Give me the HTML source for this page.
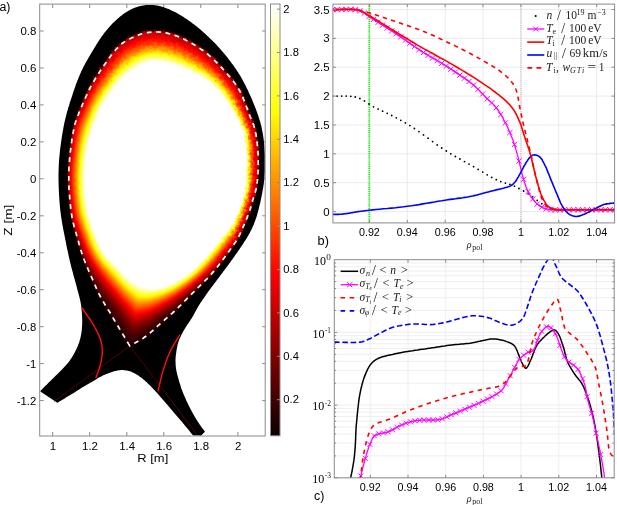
<!DOCTYPE html>
<html><head><meta charset="utf-8"><style>
html,body{margin:0;padding:0;background:#fff;width:617px;height:505px;overflow:hidden}
svg{display:block;filter:blur(0.35px)}
.tk{font-family:"Liberation Sans",sans-serif;font-size:10px;fill:#000}
.al{font-family:"Liberation Sans",sans-serif;font-size:10.5px;fill:#000}
.pl{font-family:"Liberation Sans",sans-serif;font-size:12px;fill:#000}
.lg{font-family:"Liberation Serif",serif;font-size:11.5px;fill:#1a1a1a}
.lgs{font-family:"Liberation Serif",serif;font-size:8px;fill:#1a1a1a}
.lgss{font-family:"Liberation Serif",serif;font-size:5.5px;fill:#1a1a1a}
.lgb{font-family:"Liberation Serif",serif;font-size:12.5px;fill:#1a1a1a}
.sl{font-family:"Liberation Serif",serif;font-size:14px;fill:#1a1a1a}
.mis{font-family:"Liberation Serif",serif;font-size:8px;fill:#222}
.it{font-style:italic}
.sub{font-size:8px}
.ssub{font-size:6px}
.sup{font-size:8px}
.mi{font-family:"Liberation Serif",serif;font-size:10px;font-style:italic;fill:#222}
.mi .sub{font-style:normal;font-size:8px}
.ser{font-family:"Liberation Serif",serif;font-size:12px;fill:#000}
.sups{font-family:"Liberation Serif",serif;font-size:8.5px;fill:#111}
</style></head>
<body><svg width="617" height="505" viewBox="0 0 617 505">
<rect width="617" height="505" fill="#fff"/>
<path d="M237.9 436 v-4 M237.9 4.1 v4" stroke="#8a8a8a" stroke-width="1"/>
<path d="M200.8 436 v-4 M200.8 4.1 v4" stroke="#8a8a8a" stroke-width="1"/>
<path d="M163.8 436 v-4 M163.8 4.1 v4" stroke="#8a8a8a" stroke-width="1"/>
<path d="M126.8 436 v-4 M126.8 4.1 v4" stroke="#8a8a8a" stroke-width="1"/>
<path d="M89.7 436 v-4 M89.7 4.1 v4" stroke="#8a8a8a" stroke-width="1"/>
<path d="M52.7 436 v-4 M52.7 4.1 v4" stroke="#8a8a8a" stroke-width="1"/>
<path d="M39.7 400.6 h4 M265.2 400.6 h-3" stroke="#8a8a8a" stroke-width="1"/>
<path d="M39.7 363.6 h4 M265.2 363.6 h-3" stroke="#8a8a8a" stroke-width="1"/>
<path d="M39.7 326.7 h4 M265.2 326.7 h-3" stroke="#8a8a8a" stroke-width="1"/>
<path d="M39.7 289.7 h4 M265.2 289.7 h-3" stroke="#8a8a8a" stroke-width="1"/>
<path d="M39.7 252.8 h4 M265.2 252.8 h-3" stroke="#8a8a8a" stroke-width="1"/>
<path d="M39.7 215.8 h4 M265.2 215.8 h-3" stroke="#8a8a8a" stroke-width="1"/>
<path d="M39.7 178.8 h4 M265.2 178.8 h-3" stroke="#8a8a8a" stroke-width="1"/>
<path d="M39.7 141.9 h4 M265.2 141.9 h-3" stroke="#8a8a8a" stroke-width="1"/>
<path d="M39.7 104.9 h4 M265.2 104.9 h-3" stroke="#8a8a8a" stroke-width="1"/>
<path d="M39.7 68.0 h4 M265.2 68.0 h-3" stroke="#8a8a8a" stroke-width="1"/>
<path d="M39.7 31.0 h4 M265.2 31.0 h-3" stroke="#8a8a8a" stroke-width="1"/>
<clipPath id="ca"><rect x="40.2" y="4.6" width="224.6" height="431"/></clipPath>
<g clip-path="url(#ca)">
<path d="M40.0 391.3 L40.7 390.6 L41.4 389.9 L42.1 389.2 L42.8 388.5 L43.5 387.8 L44.2 387.1 L45.0 386.3 L45.7 385.6 L46.4 384.9 L47.1 384.2 L47.8 383.5 L48.5 382.8 L49.2 382.1 L49.9 381.4 L50.6 380.7 L51.4 380.0 L52.1 379.3 L52.8 378.6 L53.5 377.9 L54.2 377.2 L54.9 376.5 L55.6 375.8 L56.4 375.1 L57.1 374.4 L57.8 373.7 L58.5 373.0 L59.2 372.3 L59.9 371.6 L60.6 370.9 L61.3 370.2 L62.0 369.5 L62.7 368.7 L63.4 368.0 L64.1 367.3 L64.8 366.6 L65.5 365.8 L66.2 365.1 L66.8 364.3 L67.5 363.6 L68.1 362.8 L68.7 362.0 L69.3 361.2 L69.9 360.4 L70.4 359.6 L71.0 358.7 L71.5 357.9 L72.1 357.0 L72.6 356.2 L73.1 355.3 L73.6 354.5 L74.1 353.6 L74.6 352.7 L75.0 351.8 L75.5 350.9 L75.9 350.0 L76.4 349.1 L76.8 348.2 L77.2 347.3 L77.6 346.4 L78.0 345.5 L78.3 344.6 L78.7 343.6 L79.0 342.7 L79.4 341.7 L79.6 340.8 L79.9 339.8 L80.2 338.8 L80.4 337.9 L80.6 336.9 L80.8 335.9 L81.0 334.9 L81.2 333.9 L81.4 333.0 L81.5 332.0 L81.6 331.0 L81.8 330.0 L81.9 329.0 L81.9 328.0 L82.0 327.0 L82.1 326.0 L82.1 325.0 L82.2 324.0 L82.2 323.0 L82.2 322.0 L82.2 321.0 L82.2 320.0 L82.2 319.0 L82.1 318.0 L82.1 317.0 L82.1 316.0 L82.0 315.0 L82.0 314.0 L81.9 313.0 L81.8 312.0 L81.7 311.0 L81.6 310.0 L81.5 309.0 L81.4 308.0 L81.3 307.0 L81.2 306.0 L81.0 305.0 L80.9 304.1 L80.7 303.1 L80.5 302.1 L80.3 301.1 L80.1 300.1 L79.9 299.2 L79.7 298.2 L79.4 297.2 L79.2 296.2 L78.9 295.3 L78.7 294.3 L78.4 293.3 L78.2 292.4 L77.9 291.4 L77.6 290.4 L77.4 289.5 L77.1 288.5 L76.9 287.5 L76.6 286.6 L76.4 285.6 L76.1 284.6 L75.8 283.7 L75.6 282.7 L75.3 281.7 L75.0 280.8 L74.8 279.8 L74.5 278.8 L74.2 277.9 L74.0 276.9 L73.7 275.9 L73.4 275.0 L73.2 274.0 L72.9 273.1 L72.7 272.1 L72.4 271.1 L72.1 270.2 L71.9 269.2 L71.6 268.2 L71.4 267.2 L71.1 266.3 L70.9 265.3 L70.6 264.3 L70.4 263.4 L70.2 262.4 L69.9 261.4 L69.7 260.5 L69.5 259.5 L69.3 258.5 L69.0 257.5 L68.8 256.6 L68.6 255.6 L68.4 254.6 L68.2 253.6 L68.0 252.6 L67.8 251.7 L67.6 250.7 L67.4 249.7 L67.1 248.7 L66.9 247.7 L66.7 246.8 L66.5 245.8 L66.3 244.8 L66.1 243.8 L66.0 242.8 L65.8 241.9 L65.6 240.9 L65.4 239.9 L65.2 238.9 L65.0 237.9 L64.8 237.0 L64.6 236.0 L64.4 235.0 L64.2 234.0 L64.0 233.0 L63.8 232.0 L63.6 231.1 L63.4 230.1 L63.2 229.1 L63.0 228.1 L62.9 227.1 L62.7 226.1 L62.5 225.2 L62.3 224.2 L62.2 223.2 L62.0 222.2 L61.8 221.2 L61.7 220.2 L61.5 219.2 L61.4 218.3 L61.2 217.3 L61.1 216.3 L60.9 215.3 L60.8 214.3 L60.7 213.3 L60.6 212.3 L60.4 211.3 L60.3 210.3 L60.2 209.3 L60.1 208.3 L60.0 207.3 L59.9 206.3 L59.8 205.3 L59.7 204.4 L59.7 203.4 L59.6 202.4 L59.5 201.4 L59.4 200.4 L59.4 199.4 L59.3 198.4 L59.2 197.4 L59.2 196.4 L59.1 195.4 L59.0 194.4 L59.0 193.4 L58.9 192.4 L58.9 191.4 L58.8 190.4 L58.8 189.4 L58.8 188.4 L58.7 187.4 L58.7 186.4 L58.7 185.4 L58.6 184.4 L58.6 183.4 L58.6 182.4 L58.6 181.4 L58.5 180.4 L58.5 179.4 L58.5 178.4 L58.5 177.4 L58.5 176.4 L58.5 175.4 L58.5 174.4 L58.5 173.4 L58.5 172.4 L58.6 171.4 L58.6 170.4 L58.6 169.4 L58.6 168.4 L58.7 167.4 L58.7 166.4 L58.8 165.4 L58.8 164.4 L58.9 163.4 L58.9 162.4 L59.0 161.4 L59.1 160.4 L59.1 159.4 L59.2 158.4 L59.3 157.4 L59.4 156.4 L59.5 155.4 L59.6 154.4 L59.7 153.4 L59.8 152.4 L59.9 151.4 L60.0 150.4 L60.1 149.4 L60.2 148.5 L60.4 147.5 L60.5 146.5 L60.6 145.5 L60.8 144.5 L60.9 143.5 L61.0 142.5 L61.2 141.5 L61.3 140.5 L61.5 139.5 L61.6 138.5 L61.8 137.6 L61.9 136.6 L62.1 135.6 L62.2 134.6 L62.4 133.6 L62.6 132.6 L62.7 131.6 L62.9 130.6 L63.1 129.7 L63.3 128.7 L63.4 127.7 L63.6 126.7 L63.8 125.7 L64.0 124.8 L64.2 123.8 L64.4 122.8 L64.6 121.8 L64.9 120.8 L65.1 119.9 L65.3 118.9 L65.5 117.9 L65.8 117.0 L66.0 116.0 L66.3 115.0 L66.5 114.0 L66.8 113.1 L67.0 112.1 L67.3 111.2 L67.6 110.2 L67.9 109.2 L68.1 108.3 L68.4 107.3 L68.7 106.4 L69.0 105.4 L69.3 104.5 L69.6 103.5 L69.9 102.6 L70.2 101.6 L70.5 100.7 L70.8 99.7 L71.2 98.7 L71.5 97.8 L71.8 96.8 L72.1 95.9 L72.4 94.9 L72.7 94.0 L73.0 93.0 L73.3 92.1 L73.6 91.1 L74.0 90.2 L74.3 89.3 L74.6 88.3 L74.9 87.4 L75.3 86.4 L75.6 85.5 L75.9 84.5 L76.3 83.6 L76.6 82.7 L77.0 81.7 L77.3 80.8 L77.7 79.9 L78.1 78.9 L78.4 78.0 L78.8 77.1 L79.2 76.2 L79.6 75.2 L80.0 74.3 L80.4 73.4 L80.8 72.5 L81.2 71.6 L81.6 70.7 L82.1 69.8 L82.5 68.9 L82.9 68.0 L83.4 67.1 L83.8 66.2 L84.3 65.3 L84.8 64.4 L85.2 63.6 L85.7 62.7 L86.2 61.8 L86.7 60.9 L87.2 60.1 L87.7 59.2 L88.2 58.3 L88.7 57.5 L89.2 56.6 L89.7 55.7 L90.2 54.9 L90.7 54.0 L91.2 53.2 L91.7 52.3 L92.2 51.4 L92.8 50.6 L93.3 49.7 L93.8 48.9 L94.3 48.0 L94.8 47.2 L95.4 46.3 L95.9 45.5 L96.4 44.6 L96.9 43.8 L97.5 42.9 L98.0 42.1 L98.5 41.2 L99.1 40.4 L99.6 39.6 L100.2 38.7 L100.7 37.9 L101.3 37.1 L101.9 36.3 L102.5 35.5 L103.0 34.7 L103.6 33.9 L104.2 33.1 L104.9 32.3 L105.5 31.5 L106.1 30.7 L106.7 30.0 L107.4 29.2 L108.0 28.4 L108.7 27.7 L109.3 26.9 L110.0 26.2 L110.7 25.5 L111.4 24.7 L112.0 24.0 L112.7 23.3 L113.5 22.6 L114.2 21.9 L114.9 21.2 L115.6 20.5 L116.3 19.9 L117.1 19.2 L117.8 18.5 L118.6 17.9 L119.3 17.2 L120.1 16.6 L120.9 16.0 L121.7 15.4 L122.4 14.8 L123.2 14.2 L124.0 13.6 L124.8 13.0 L125.7 12.5 L126.5 11.9 L127.3 11.4 L128.2 10.9 L129.0 10.4 L129.9 10.0 L130.8 9.5 L131.6 9.1 L132.5 8.7 L133.4 8.3 L134.3 7.9 L135.3 7.6 L136.2 7.2 L137.1 6.9 L138.1 6.6 L139.0 6.4 L139.9 6.1 L140.9 5.9 L141.9 5.7 L142.8 5.5 L143.8 5.4 L144.8 5.2 L145.7 5.1 L146.7 5.0 L147.7 5.0 L148.6 4.9 L149.6 4.9 L150.6 4.9 L151.6 4.9 L152.5 5.0 L153.5 5.1 L154.5 5.2 L155.5 5.3 L156.4 5.4 L157.4 5.6 L158.4 5.8 L159.3 6.0 L160.3 6.3 L161.2 6.5 L162.2 6.8 L163.1 7.1 L164.1 7.4 L165.0 7.7 L165.9 8.0 L166.8 8.4 L167.8 8.8 L168.7 9.1 L169.6 9.5 L170.5 9.9 L171.4 10.4 L172.3 10.8 L173.2 11.2 L174.1 11.7 L175.0 12.1 L175.9 12.6 L176.7 13.1 L177.6 13.6 L178.5 14.0 L179.3 14.5 L180.2 15.0 L181.0 15.6 L181.9 16.1 L182.7 16.6 L183.6 17.1 L184.4 17.7 L185.3 18.2 L186.1 18.8 L186.9 19.3 L187.8 19.9 L188.6 20.5 L189.4 21.0 L190.2 21.6 L191.0 22.2 L191.8 22.8 L192.6 23.4 L193.4 24.0 L194.2 24.6 L195.0 25.2 L195.8 25.8 L196.6 26.4 L197.4 27.1 L198.1 27.7 L198.9 28.3 L199.7 29.0 L200.4 29.6 L201.2 30.3 L201.9 31.0 L202.7 31.6 L203.4 32.3 L204.2 32.9 L204.9 33.6 L205.6 34.3 L206.4 35.0 L207.1 35.7 L207.8 36.3 L208.6 37.0 L209.3 37.7 L210.0 38.4 L210.7 39.1 L211.4 39.8 L212.2 40.5 L212.9 41.2 L213.6 41.9 L214.3 42.6 L215.0 43.3 L215.7 44.0 L216.4 44.8 L217.1 45.5 L217.7 46.2 L218.4 47.0 L219.1 47.7 L219.8 48.4 L220.4 49.2 L221.1 49.9 L221.7 50.7 L222.4 51.4 L223.0 52.2 L223.7 53.0 L224.3 53.7 L225.0 54.5 L225.6 55.3 L226.2 56.1 L226.8 56.8 L227.5 57.6 L228.1 58.4 L228.7 59.2 L229.3 60.0 L229.9 60.8 L230.5 61.6 L231.1 62.4 L231.7 63.2 L232.3 64.0 L232.9 64.8 L233.5 65.6 L234.1 66.4 L234.6 67.2 L235.2 68.1 L235.8 68.9 L236.3 69.7 L236.9 70.5 L237.4 71.4 L238.0 72.2 L238.5 73.1 L239.0 73.9 L239.6 74.7 L240.1 75.6 L240.6 76.5 L241.1 77.3 L241.6 78.2 L242.1 79.1 L242.6 79.9 L243.0 80.8 L243.5 81.7 L244.0 82.6 L244.4 83.5 L244.9 84.3 L245.4 85.2 L245.8 86.1 L246.2 87.0 L246.7 87.9 L247.1 88.8 L247.6 89.7 L248.0 90.6 L248.4 91.5 L248.8 92.4 L249.2 93.4 L249.7 94.3 L250.1 95.2 L250.5 96.1 L250.9 97.0 L251.3 97.9 L251.7 98.8 L252.1 99.8 L252.5 100.7 L252.8 101.6 L253.2 102.5 L253.6 103.5 L254.0 104.4 L254.4 105.3 L254.7 106.2 L255.1 107.2 L255.5 108.1 L255.8 109.0 L256.2 110.0 L256.5 110.9 L256.9 111.8 L257.2 112.8 L257.5 113.7 L257.9 114.7 L258.2 115.6 L258.5 116.6 L258.8 117.5 L259.1 118.5 L259.4 119.4 L259.7 120.4 L260.0 121.3 L260.3 122.3 L260.5 123.2 L260.8 124.2 L261.0 125.2 L261.3 126.1 L261.5 127.1 L261.7 128.1 L261.9 129.1 L262.1 130.0 L262.3 131.0 L262.5 132.0 L262.7 133.0 L262.9 134.0 L263.0 134.9 L263.2 135.9 L263.3 136.9 L263.5 137.9 L263.6 138.9 L263.7 139.9 L263.9 140.9 L264.0 141.9 L264.1 142.9 L264.2 143.9 L264.3 144.9 L264.4 145.8 L264.5 146.8 L264.5 147.8 L264.6 148.8 L264.7 149.8 L264.7 150.8 L264.8 151.8 L264.9 152.8 L264.9 153.8 L265.0 154.8 L265.0 155.8 L265.0 156.8 L265.1 157.8 L265.1 158.8 L265.1 159.8 L265.1 160.8 L265.1 161.8 L265.2 162.8 L265.2 163.8 L265.1 164.8 L265.1 165.8 L265.1 166.8 L265.1 167.8 L265.1 168.8 L265.0 169.8 L265.0 170.8 L264.9 171.8 L264.9 172.8 L264.8 173.8 L264.7 174.8 L264.7 175.8 L264.6 176.8 L264.5 177.8 L264.4 178.8 L264.3 179.8 L264.1 180.8 L264.0 181.7 L263.9 182.7 L263.8 183.7 L263.6 184.7 L263.5 185.7 L263.3 186.7 L263.2 187.7 L263.0 188.7 L262.8 189.6 L262.6 190.6 L262.5 191.6 L262.3 192.6 L262.1 193.6 L261.9 194.6 L261.7 195.5 L261.5 196.5 L261.3 197.5 L261.1 198.5 L260.9 199.5 L260.7 200.4 L260.5 201.4 L260.3 202.4 L260.1 203.4 L259.8 204.3 L259.6 205.3 L259.4 206.3 L259.1 207.3 L258.9 208.2 L258.7 209.2 L258.4 210.2 L258.1 211.1 L257.9 212.1 L257.6 213.1 L257.3 214.0 L257.1 215.0 L256.8 215.9 L256.5 216.9 L256.2 217.8 L255.8 218.8 L255.5 219.7 L255.2 220.7 L254.8 221.6 L254.5 222.5 L254.1 223.5 L253.8 224.4 L253.4 225.3 L253.0 226.2 L252.6 227.1 L252.2 228.0 L251.7 228.9 L251.3 229.8 L250.9 230.7 L250.4 231.6 L249.9 232.5 L249.5 233.4 L249.0 234.2 L248.5 235.1 L248.0 236.0 L247.5 236.8 L247.0 237.7 L246.4 238.5 L245.9 239.4 L245.4 240.2 L244.8 241.1 L244.3 241.9 L243.8 242.7 L243.2 243.6 L242.7 244.4 L242.1 245.2 L241.6 246.1 L241.0 246.9 L240.4 247.7 L239.9 248.5 L239.3 249.4 L238.7 250.2 L238.2 251.0 L237.6 251.9 L237.0 252.7 L236.5 253.5 L235.9 254.3 L235.3 255.1 L234.7 256.0 L234.2 256.8 L233.6 257.6 L233.0 258.4 L232.4 259.2 L231.8 260.0 L231.3 260.8 L230.7 261.6 L230.1 262.4 L229.5 263.3 L228.9 264.1 L228.3 264.9 L227.7 265.7 L227.1 266.5 L226.5 267.3 L225.9 268.1 L225.3 268.9 L224.7 269.7 L224.1 270.5 L223.5 271.3 L222.9 272.1 L222.3 272.9 L221.7 273.7 L221.1 274.5 L220.5 275.3 L219.9 276.1 L219.3 276.9 L218.7 277.7 L218.1 278.5 L217.5 279.3 L216.9 280.1 L216.3 280.9 L215.7 281.7 L215.1 282.5 L214.5 283.3 L213.9 284.1 L213.3 284.9 L212.7 285.7 L212.1 286.5 L211.5 287.3 L210.9 288.1 L210.3 288.9 L209.7 289.7 L209.1 290.5 L208.5 291.3 L207.9 292.1 L207.4 292.9 L206.8 293.8 L206.2 294.6 L205.6 295.4 L205.1 296.2 L204.5 297.0 L203.9 297.9 L203.4 298.7 L202.8 299.5 L202.2 300.3 L201.7 301.2 L201.1 302.0 L200.5 302.8 L200.0 303.7 L199.5 304.5 L198.9 305.4 L198.4 306.2 L197.9 307.1 L197.4 307.9 L196.9 308.8 L196.5 309.7 L196.0 310.6 L195.5 311.5 L195.0 312.3 L194.6 313.2 L194.1 314.1 L193.6 315.0 L193.1 315.9 L192.6 316.7 L192.1 317.6 L191.6 318.4 L191.0 319.3 L190.5 320.1 L189.9 321.0 L189.4 321.8 L188.8 322.6 L188.2 323.4 L187.7 324.3 L187.1 325.1 L186.6 325.9 L186.0 326.8 L185.5 327.6 L185.0 328.5 L184.5 329.3 L183.9 330.2 L183.4 331.0 L183.0 331.9 L182.5 332.8 L182.0 333.7 L181.5 334.6 L181.1 335.5 L180.7 336.4 L180.3 337.3 L179.8 338.2 L179.5 339.1 L179.1 340.0 L178.7 341.0 L178.4 341.9 L178.1 342.9 L177.8 343.8 L177.6 344.8 L177.4 345.8 L177.2 346.7 L177.0 347.7 L176.8 348.7 L176.6 349.7 L176.5 350.7 L176.3 351.7 L176.2 352.7 L176.1 353.7 L175.9 354.7 L175.8 355.7 L175.7 356.6 L175.6 357.6 L175.6 358.6 L175.5 359.6 L175.5 360.6 L175.5 361.6 L175.6 362.6 L175.6 363.6 L175.6 364.6 L175.7 365.6 L175.8 366.6 L175.9 367.6 L176.0 368.6 L176.2 369.6 L176.4 370.6 L176.5 371.6 L176.8 372.6 L177.0 373.5 L177.2 374.5 L177.5 375.5 L177.8 376.4 L178.0 377.4 L178.3 378.3 L178.6 379.3 L178.9 380.3 L179.1 381.2 L179.4 382.2 L179.7 383.2 L180.0 384.1 L180.3 385.1 L180.6 386.0 L180.9 387.0 L181.2 387.9 L181.5 388.9 L181.9 389.8 L182.2 390.8 L182.6 391.7 L182.9 392.6 L183.3 393.6 L183.7 394.5 L184.1 395.4 L184.5 396.3 L184.9 397.2 L185.3 398.1 L185.7 399.1 L186.1 400.0 L186.5 400.9 L187.0 401.8 L187.4 402.7 L187.8 403.6 L188.3 404.5 L188.7 405.4 L189.1 406.3 L189.6 407.2 L190.0 408.1 L190.5 409.0 L191.0 409.8 L191.4 410.7 L191.9 411.6 L192.4 412.5 L192.9 413.4 L193.4 414.2 L193.8 415.1 L194.3 416.0 L194.8 416.8 L195.3 417.7 L195.9 418.6 L196.4 419.4 L196.9 420.3 L197.4 421.1 L198.0 422.0 L198.5 422.8 L199.1 423.6 L199.6 424.5 L200.2 425.3 L200.8 426.1 L201.4 426.9 L202.0 427.7 L202.6 428.5 L203.2 429.3 L203.8 430.1 L204.4 430.9 L205.0 431.7 L199.0 437.5 L193.3 435.8 L192.7 435.0 L192.0 434.2 L191.4 433.5 L190.8 432.7 L190.2 431.9 L189.5 431.1 L188.9 430.3 L188.3 429.5 L187.6 428.8 L187.0 428.0 L186.4 427.2 L185.7 426.4 L185.1 425.7 L184.4 424.9 L183.8 424.1 L183.1 423.4 L182.5 422.6 L181.9 421.8 L181.2 421.1 L180.5 420.3 L179.9 419.5 L179.2 418.8 L178.6 418.0 L177.9 417.2 L177.3 416.5 L176.6 415.7 L176.0 415.0 L175.3 414.2 L174.7 413.4 L174.0 412.7 L173.4 411.9 L172.7 411.1 L172.1 410.4 L171.4 409.6 L170.7 408.9 L170.1 408.1 L169.4 407.3 L168.8 406.6 L168.1 405.8 L167.5 405.0 L166.8 404.3 L166.2 403.5 L165.5 402.7 L164.9 402.0 L164.2 401.2 L163.6 400.5 L162.9 399.7 L162.3 398.9 L161.6 398.2 L161.0 397.4 L160.3 396.7 L159.6 395.9 L159.0 395.1 L158.3 394.4 L157.6 393.6 L157.0 392.9 L156.3 392.1 L155.6 391.4 L155.0 390.7 L154.3 389.9 L153.6 389.2 L152.9 388.5 L152.2 387.7 L151.5 387.0 L150.8 386.3 L150.1 385.6 L149.4 384.9 L148.7 384.2 L147.9 383.5 L147.2 382.8 L146.5 382.1 L145.7 381.4 L145.0 380.8 L144.2 380.1 L143.4 379.5 L142.7 378.8 L141.9 378.2 L141.1 377.6 L140.3 377.0 L139.5 376.4 L138.7 375.8 L137.9 375.2 L137.0 374.7 L136.2 374.2 L135.3 373.7 L134.4 373.2 L133.5 372.8 L132.6 372.4 L131.7 372.0 L130.8 371.6 L129.8 371.3 L128.9 371.0 L127.9 370.8 L127.0 370.6 L126.0 370.4 L125.0 370.3 L124.0 370.2 L123.0 370.1 L122.0 370.1 L121.0 370.1 L120.1 370.2 L119.1 370.3 L118.1 370.5 L117.1 370.6 L116.1 370.9 L115.2 371.1 L114.2 371.3 L113.2 371.6 L112.3 371.9 L111.3 372.2 L110.4 372.6 L109.4 372.9 L108.5 373.3 L107.6 373.6 L106.6 374.0 L105.7 374.3 L104.8 374.7 L103.8 375.1 L102.9 375.5 L102.0 376.0 L101.1 376.4 L100.2 376.9 L99.4 377.3 L98.5 377.8 L97.6 378.3 L96.8 378.9 L95.9 379.4 L95.1 379.9 L94.2 380.4 L93.4 381.0 L92.5 381.5 L91.6 382.0 L90.8 382.5 L89.9 383.0 L89.0 383.5 L88.2 384.0 L87.3 384.5 L86.4 385.0 L85.6 385.5 L84.7 386.1 L83.9 386.6 L83.0 387.1 L82.1 387.6 L81.3 388.1 L80.4 388.7 L79.6 389.2 L78.7 389.7 L77.9 390.3 L77.0 390.8 L76.2 391.3 L75.3 391.9 L74.5 392.4 L73.6 392.9 L72.8 393.4 L71.9 394.0 L71.1 394.5 L70.2 395.0 L69.3 395.6 L68.5 396.1 L67.6 396.6 L66.8 397.1 L65.9 397.6 L65.0 398.2 L64.2 398.7 L63.3 399.2 L62.5 399.7 L61.6 400.2 L60.7 400.7 L59.9 401.3 L59.0 401.8 L58.2 402.3 L57.3 402.8Z" fill="#000"/>
<clipPath id="co"><path d="M40.0 391.3 L40.7 390.6 L41.4 389.9 L42.1 389.2 L42.8 388.5 L43.5 387.8 L44.2 387.1 L45.0 386.3 L45.7 385.6 L46.4 384.9 L47.1 384.2 L47.8 383.5 L48.5 382.8 L49.2 382.1 L49.9 381.4 L50.6 380.7 L51.4 380.0 L52.1 379.3 L52.8 378.6 L53.5 377.9 L54.2 377.2 L54.9 376.5 L55.6 375.8 L56.4 375.1 L57.1 374.4 L57.8 373.7 L58.5 373.0 L59.2 372.3 L59.9 371.6 L60.6 370.9 L61.3 370.2 L62.0 369.5 L62.7 368.7 L63.4 368.0 L64.1 367.3 L64.8 366.6 L65.5 365.8 L66.2 365.1 L66.8 364.3 L67.5 363.6 L68.1 362.8 L68.7 362.0 L69.3 361.2 L69.9 360.4 L70.4 359.6 L71.0 358.7 L71.5 357.9 L72.1 357.0 L72.6 356.2 L73.1 355.3 L73.6 354.5 L74.1 353.6 L74.6 352.7 L75.0 351.8 L75.5 350.9 L75.9 350.0 L76.4 349.1 L76.8 348.2 L77.2 347.3 L77.6 346.4 L78.0 345.5 L78.3 344.6 L78.7 343.6 L79.0 342.7 L79.4 341.7 L79.6 340.8 L79.9 339.8 L80.2 338.8 L80.4 337.9 L80.6 336.9 L80.8 335.9 L81.0 334.9 L81.2 333.9 L81.4 333.0 L81.5 332.0 L81.6 331.0 L81.8 330.0 L81.9 329.0 L81.9 328.0 L82.0 327.0 L82.1 326.0 L82.1 325.0 L82.2 324.0 L82.2 323.0 L82.2 322.0 L82.2 321.0 L82.2 320.0 L82.2 319.0 L82.1 318.0 L82.1 317.0 L82.1 316.0 L82.0 315.0 L82.0 314.0 L81.9 313.0 L81.8 312.0 L81.7 311.0 L81.6 310.0 L81.5 309.0 L81.4 308.0 L81.3 307.0 L81.2 306.0 L81.0 305.0 L80.9 304.1 L80.7 303.1 L80.5 302.1 L80.3 301.1 L80.1 300.1 L79.9 299.2 L79.7 298.2 L79.4 297.2 L79.2 296.2 L78.9 295.3 L78.7 294.3 L78.4 293.3 L78.2 292.4 L77.9 291.4 L77.6 290.4 L77.4 289.5 L77.1 288.5 L76.9 287.5 L76.6 286.6 L76.4 285.6 L76.1 284.6 L75.8 283.7 L75.6 282.7 L75.3 281.7 L75.0 280.8 L74.8 279.8 L74.5 278.8 L74.2 277.9 L74.0 276.9 L73.7 275.9 L73.4 275.0 L73.2 274.0 L72.9 273.1 L72.7 272.1 L72.4 271.1 L72.1 270.2 L71.9 269.2 L71.6 268.2 L71.4 267.2 L71.1 266.3 L70.9 265.3 L70.6 264.3 L70.4 263.4 L70.2 262.4 L69.9 261.4 L69.7 260.5 L69.5 259.5 L69.3 258.5 L69.0 257.5 L68.8 256.6 L68.6 255.6 L68.4 254.6 L68.2 253.6 L68.0 252.6 L67.8 251.7 L67.6 250.7 L67.4 249.7 L67.1 248.7 L66.9 247.7 L66.7 246.8 L66.5 245.8 L66.3 244.8 L66.1 243.8 L66.0 242.8 L65.8 241.9 L65.6 240.9 L65.4 239.9 L65.2 238.9 L65.0 237.9 L64.8 237.0 L64.6 236.0 L64.4 235.0 L64.2 234.0 L64.0 233.0 L63.8 232.0 L63.6 231.1 L63.4 230.1 L63.2 229.1 L63.0 228.1 L62.9 227.1 L62.7 226.1 L62.5 225.2 L62.3 224.2 L62.2 223.2 L62.0 222.2 L61.8 221.2 L61.7 220.2 L61.5 219.2 L61.4 218.3 L61.2 217.3 L61.1 216.3 L60.9 215.3 L60.8 214.3 L60.7 213.3 L60.6 212.3 L60.4 211.3 L60.3 210.3 L60.2 209.3 L60.1 208.3 L60.0 207.3 L59.9 206.3 L59.8 205.3 L59.7 204.4 L59.7 203.4 L59.6 202.4 L59.5 201.4 L59.4 200.4 L59.4 199.4 L59.3 198.4 L59.2 197.4 L59.2 196.4 L59.1 195.4 L59.0 194.4 L59.0 193.4 L58.9 192.4 L58.9 191.4 L58.8 190.4 L58.8 189.4 L58.8 188.4 L58.7 187.4 L58.7 186.4 L58.7 185.4 L58.6 184.4 L58.6 183.4 L58.6 182.4 L58.6 181.4 L58.5 180.4 L58.5 179.4 L58.5 178.4 L58.5 177.4 L58.5 176.4 L58.5 175.4 L58.5 174.4 L58.5 173.4 L58.5 172.4 L58.6 171.4 L58.6 170.4 L58.6 169.4 L58.6 168.4 L58.7 167.4 L58.7 166.4 L58.8 165.4 L58.8 164.4 L58.9 163.4 L58.9 162.4 L59.0 161.4 L59.1 160.4 L59.1 159.4 L59.2 158.4 L59.3 157.4 L59.4 156.4 L59.5 155.4 L59.6 154.4 L59.7 153.4 L59.8 152.4 L59.9 151.4 L60.0 150.4 L60.1 149.4 L60.2 148.5 L60.4 147.5 L60.5 146.5 L60.6 145.5 L60.8 144.5 L60.9 143.5 L61.0 142.5 L61.2 141.5 L61.3 140.5 L61.5 139.5 L61.6 138.5 L61.8 137.6 L61.9 136.6 L62.1 135.6 L62.2 134.6 L62.4 133.6 L62.6 132.6 L62.7 131.6 L62.9 130.6 L63.1 129.7 L63.3 128.7 L63.4 127.7 L63.6 126.7 L63.8 125.7 L64.0 124.8 L64.2 123.8 L64.4 122.8 L64.6 121.8 L64.9 120.8 L65.1 119.9 L65.3 118.9 L65.5 117.9 L65.8 117.0 L66.0 116.0 L66.3 115.0 L66.5 114.0 L66.8 113.1 L67.0 112.1 L67.3 111.2 L67.6 110.2 L67.9 109.2 L68.1 108.3 L68.4 107.3 L68.7 106.4 L69.0 105.4 L69.3 104.5 L69.6 103.5 L69.9 102.6 L70.2 101.6 L70.5 100.7 L70.8 99.7 L71.2 98.7 L71.5 97.8 L71.8 96.8 L72.1 95.9 L72.4 94.9 L72.7 94.0 L73.0 93.0 L73.3 92.1 L73.6 91.1 L74.0 90.2 L74.3 89.3 L74.6 88.3 L74.9 87.4 L75.3 86.4 L75.6 85.5 L75.9 84.5 L76.3 83.6 L76.6 82.7 L77.0 81.7 L77.3 80.8 L77.7 79.9 L78.1 78.9 L78.4 78.0 L78.8 77.1 L79.2 76.2 L79.6 75.2 L80.0 74.3 L80.4 73.4 L80.8 72.5 L81.2 71.6 L81.6 70.7 L82.1 69.8 L82.5 68.9 L82.9 68.0 L83.4 67.1 L83.8 66.2 L84.3 65.3 L84.8 64.4 L85.2 63.6 L85.7 62.7 L86.2 61.8 L86.7 60.9 L87.2 60.1 L87.7 59.2 L88.2 58.3 L88.7 57.5 L89.2 56.6 L89.7 55.7 L90.2 54.9 L90.7 54.0 L91.2 53.2 L91.7 52.3 L92.2 51.4 L92.8 50.6 L93.3 49.7 L93.8 48.9 L94.3 48.0 L94.8 47.2 L95.4 46.3 L95.9 45.5 L96.4 44.6 L96.9 43.8 L97.5 42.9 L98.0 42.1 L98.5 41.2 L99.1 40.4 L99.6 39.6 L100.2 38.7 L100.7 37.9 L101.3 37.1 L101.9 36.3 L102.5 35.5 L103.0 34.7 L103.6 33.9 L104.2 33.1 L104.9 32.3 L105.5 31.5 L106.1 30.7 L106.7 30.0 L107.4 29.2 L108.0 28.4 L108.7 27.7 L109.3 26.9 L110.0 26.2 L110.7 25.5 L111.4 24.7 L112.0 24.0 L112.7 23.3 L113.5 22.6 L114.2 21.9 L114.9 21.2 L115.6 20.5 L116.3 19.9 L117.1 19.2 L117.8 18.5 L118.6 17.9 L119.3 17.2 L120.1 16.6 L120.9 16.0 L121.7 15.4 L122.4 14.8 L123.2 14.2 L124.0 13.6 L124.8 13.0 L125.7 12.5 L126.5 11.9 L127.3 11.4 L128.2 10.9 L129.0 10.4 L129.9 10.0 L130.8 9.5 L131.6 9.1 L132.5 8.7 L133.4 8.3 L134.3 7.9 L135.3 7.6 L136.2 7.2 L137.1 6.9 L138.1 6.6 L139.0 6.4 L139.9 6.1 L140.9 5.9 L141.9 5.7 L142.8 5.5 L143.8 5.4 L144.8 5.2 L145.7 5.1 L146.7 5.0 L147.7 5.0 L148.6 4.9 L149.6 4.9 L150.6 4.9 L151.6 4.9 L152.5 5.0 L153.5 5.1 L154.5 5.2 L155.5 5.3 L156.4 5.4 L157.4 5.6 L158.4 5.8 L159.3 6.0 L160.3 6.3 L161.2 6.5 L162.2 6.8 L163.1 7.1 L164.1 7.4 L165.0 7.7 L165.9 8.0 L166.8 8.4 L167.8 8.8 L168.7 9.1 L169.6 9.5 L170.5 9.9 L171.4 10.4 L172.3 10.8 L173.2 11.2 L174.1 11.7 L175.0 12.1 L175.9 12.6 L176.7 13.1 L177.6 13.6 L178.5 14.0 L179.3 14.5 L180.2 15.0 L181.0 15.6 L181.9 16.1 L182.7 16.6 L183.6 17.1 L184.4 17.7 L185.3 18.2 L186.1 18.8 L186.9 19.3 L187.8 19.9 L188.6 20.5 L189.4 21.0 L190.2 21.6 L191.0 22.2 L191.8 22.8 L192.6 23.4 L193.4 24.0 L194.2 24.6 L195.0 25.2 L195.8 25.8 L196.6 26.4 L197.4 27.1 L198.1 27.7 L198.9 28.3 L199.7 29.0 L200.4 29.6 L201.2 30.3 L201.9 31.0 L202.7 31.6 L203.4 32.3 L204.2 32.9 L204.9 33.6 L205.6 34.3 L206.4 35.0 L207.1 35.7 L207.8 36.3 L208.6 37.0 L209.3 37.7 L210.0 38.4 L210.7 39.1 L211.4 39.8 L212.2 40.5 L212.9 41.2 L213.6 41.9 L214.3 42.6 L215.0 43.3 L215.7 44.0 L216.4 44.8 L217.1 45.5 L217.7 46.2 L218.4 47.0 L219.1 47.7 L219.8 48.4 L220.4 49.2 L221.1 49.9 L221.7 50.7 L222.4 51.4 L223.0 52.2 L223.7 53.0 L224.3 53.7 L225.0 54.5 L225.6 55.3 L226.2 56.1 L226.8 56.8 L227.5 57.6 L228.1 58.4 L228.7 59.2 L229.3 60.0 L229.9 60.8 L230.5 61.6 L231.1 62.4 L231.7 63.2 L232.3 64.0 L232.9 64.8 L233.5 65.6 L234.1 66.4 L234.6 67.2 L235.2 68.1 L235.8 68.9 L236.3 69.7 L236.9 70.5 L237.4 71.4 L238.0 72.2 L238.5 73.1 L239.0 73.9 L239.6 74.7 L240.1 75.6 L240.6 76.5 L241.1 77.3 L241.6 78.2 L242.1 79.1 L242.6 79.9 L243.0 80.8 L243.5 81.7 L244.0 82.6 L244.4 83.5 L244.9 84.3 L245.4 85.2 L245.8 86.1 L246.2 87.0 L246.7 87.9 L247.1 88.8 L247.6 89.7 L248.0 90.6 L248.4 91.5 L248.8 92.4 L249.2 93.4 L249.7 94.3 L250.1 95.2 L250.5 96.1 L250.9 97.0 L251.3 97.9 L251.7 98.8 L252.1 99.8 L252.5 100.7 L252.8 101.6 L253.2 102.5 L253.6 103.5 L254.0 104.4 L254.4 105.3 L254.7 106.2 L255.1 107.2 L255.5 108.1 L255.8 109.0 L256.2 110.0 L256.5 110.9 L256.9 111.8 L257.2 112.8 L257.5 113.7 L257.9 114.7 L258.2 115.6 L258.5 116.6 L258.8 117.5 L259.1 118.5 L259.4 119.4 L259.7 120.4 L260.0 121.3 L260.3 122.3 L260.5 123.2 L260.8 124.2 L261.0 125.2 L261.3 126.1 L261.5 127.1 L261.7 128.1 L261.9 129.1 L262.1 130.0 L262.3 131.0 L262.5 132.0 L262.7 133.0 L262.9 134.0 L263.0 134.9 L263.2 135.9 L263.3 136.9 L263.5 137.9 L263.6 138.9 L263.7 139.9 L263.9 140.9 L264.0 141.9 L264.1 142.9 L264.2 143.9 L264.3 144.9 L264.4 145.8 L264.5 146.8 L264.5 147.8 L264.6 148.8 L264.7 149.8 L264.7 150.8 L264.8 151.8 L264.9 152.8 L264.9 153.8 L265.0 154.8 L265.0 155.8 L265.0 156.8 L265.1 157.8 L265.1 158.8 L265.1 159.8 L265.1 160.8 L265.1 161.8 L265.2 162.8 L265.2 163.8 L265.1 164.8 L265.1 165.8 L265.1 166.8 L265.1 167.8 L265.1 168.8 L265.0 169.8 L265.0 170.8 L264.9 171.8 L264.9 172.8 L264.8 173.8 L264.7 174.8 L264.7 175.8 L264.6 176.8 L264.5 177.8 L264.4 178.8 L264.3 179.8 L264.1 180.8 L264.0 181.7 L263.9 182.7 L263.8 183.7 L263.6 184.7 L263.5 185.7 L263.3 186.7 L263.2 187.7 L263.0 188.7 L262.8 189.6 L262.6 190.6 L262.5 191.6 L262.3 192.6 L262.1 193.6 L261.9 194.6 L261.7 195.5 L261.5 196.5 L261.3 197.5 L261.1 198.5 L260.9 199.5 L260.7 200.4 L260.5 201.4 L260.3 202.4 L260.1 203.4 L259.8 204.3 L259.6 205.3 L259.4 206.3 L259.1 207.3 L258.9 208.2 L258.7 209.2 L258.4 210.2 L258.1 211.1 L257.9 212.1 L257.6 213.1 L257.3 214.0 L257.1 215.0 L256.8 215.9 L256.5 216.9 L256.2 217.8 L255.8 218.8 L255.5 219.7 L255.2 220.7 L254.8 221.6 L254.5 222.5 L254.1 223.5 L253.8 224.4 L253.4 225.3 L253.0 226.2 L252.6 227.1 L252.2 228.0 L251.7 228.9 L251.3 229.8 L250.9 230.7 L250.4 231.6 L249.9 232.5 L249.5 233.4 L249.0 234.2 L248.5 235.1 L248.0 236.0 L247.5 236.8 L247.0 237.7 L246.4 238.5 L245.9 239.4 L245.4 240.2 L244.8 241.1 L244.3 241.9 L243.8 242.7 L243.2 243.6 L242.7 244.4 L242.1 245.2 L241.6 246.1 L241.0 246.9 L240.4 247.7 L239.9 248.5 L239.3 249.4 L238.7 250.2 L238.2 251.0 L237.6 251.9 L237.0 252.7 L236.5 253.5 L235.9 254.3 L235.3 255.1 L234.7 256.0 L234.2 256.8 L233.6 257.6 L233.0 258.4 L232.4 259.2 L231.8 260.0 L231.3 260.8 L230.7 261.6 L230.1 262.4 L229.5 263.3 L228.9 264.1 L228.3 264.9 L227.7 265.7 L227.1 266.5 L226.5 267.3 L225.9 268.1 L225.3 268.9 L224.7 269.7 L224.1 270.5 L223.5 271.3 L222.9 272.1 L222.3 272.9 L221.7 273.7 L221.1 274.5 L220.5 275.3 L219.9 276.1 L219.3 276.9 L218.7 277.7 L218.1 278.5 L217.5 279.3 L216.9 280.1 L216.3 280.9 L215.7 281.7 L215.1 282.5 L214.5 283.3 L213.9 284.1 L213.3 284.9 L212.7 285.7 L212.1 286.5 L211.5 287.3 L210.9 288.1 L210.3 288.9 L209.7 289.7 L209.1 290.5 L208.5 291.3 L207.9 292.1 L207.4 292.9 L206.8 293.8 L206.2 294.6 L205.6 295.4 L205.1 296.2 L204.5 297.0 L203.9 297.9 L203.4 298.7 L202.8 299.5 L202.2 300.3 L201.7 301.2 L201.1 302.0 L200.5 302.8 L200.0 303.7 L199.5 304.5 L198.9 305.4 L198.4 306.2 L197.9 307.1 L197.4 307.9 L196.9 308.8 L196.5 309.7 L196.0 310.6 L195.5 311.5 L195.0 312.3 L194.6 313.2 L194.1 314.1 L193.6 315.0 L193.1 315.9 L192.6 316.7 L192.1 317.6 L191.6 318.4 L191.0 319.3 L190.5 320.1 L189.9 321.0 L189.4 321.8 L188.8 322.6 L188.2 323.4 L187.7 324.3 L187.1 325.1 L186.6 325.9 L186.0 326.8 L185.5 327.6 L185.0 328.5 L184.5 329.3 L183.9 330.2 L183.4 331.0 L183.0 331.9 L182.5 332.8 L182.0 333.7 L181.5 334.6 L181.1 335.5 L180.7 336.4 L180.3 337.3 L179.8 338.2 L179.5 339.1 L179.1 340.0 L178.7 341.0 L178.4 341.9 L178.1 342.9 L177.8 343.8 L177.6 344.8 L177.4 345.8 L177.2 346.7 L177.0 347.7 L176.8 348.7 L176.6 349.7 L176.5 350.7 L176.3 351.7 L176.2 352.7 L176.1 353.7 L175.9 354.7 L175.8 355.7 L175.7 356.6 L175.6 357.6 L175.6 358.6 L175.5 359.6 L175.5 360.6 L175.5 361.6 L175.6 362.6 L175.6 363.6 L175.6 364.6 L175.7 365.6 L175.8 366.6 L175.9 367.6 L176.0 368.6 L176.2 369.6 L176.4 370.6 L176.5 371.6 L176.8 372.6 L177.0 373.5 L177.2 374.5 L177.5 375.5 L177.8 376.4 L178.0 377.4 L178.3 378.3 L178.6 379.3 L178.9 380.3 L179.1 381.2 L179.4 382.2 L179.7 383.2 L180.0 384.1 L180.3 385.1 L180.6 386.0 L180.9 387.0 L181.2 387.9 L181.5 388.9 L181.9 389.8 L182.2 390.8 L182.6 391.7 L182.9 392.6 L183.3 393.6 L183.7 394.5 L184.1 395.4 L184.5 396.3 L184.9 397.2 L185.3 398.1 L185.7 399.1 L186.1 400.0 L186.5 400.9 L187.0 401.8 L187.4 402.7 L187.8 403.6 L188.3 404.5 L188.7 405.4 L189.1 406.3 L189.6 407.2 L190.0 408.1 L190.5 409.0 L191.0 409.8 L191.4 410.7 L191.9 411.6 L192.4 412.5 L192.9 413.4 L193.4 414.2 L193.8 415.1 L194.3 416.0 L194.8 416.8 L195.3 417.7 L195.9 418.6 L196.4 419.4 L196.9 420.3 L197.4 421.1 L198.0 422.0 L198.5 422.8 L199.1 423.6 L199.6 424.5 L200.2 425.3 L200.8 426.1 L201.4 426.9 L202.0 427.7 L202.6 428.5 L203.2 429.3 L203.8 430.1 L204.4 430.9 L205.0 431.7 L199.0 437.5 L193.3 435.8 L192.7 435.0 L192.0 434.2 L191.4 433.5 L190.8 432.7 L190.2 431.9 L189.5 431.1 L188.9 430.3 L188.3 429.5 L187.6 428.8 L187.0 428.0 L186.4 427.2 L185.7 426.4 L185.1 425.7 L184.4 424.9 L183.8 424.1 L183.1 423.4 L182.5 422.6 L181.9 421.8 L181.2 421.1 L180.5 420.3 L179.9 419.5 L179.2 418.8 L178.6 418.0 L177.9 417.2 L177.3 416.5 L176.6 415.7 L176.0 415.0 L175.3 414.2 L174.7 413.4 L174.0 412.7 L173.4 411.9 L172.7 411.1 L172.1 410.4 L171.4 409.6 L170.7 408.9 L170.1 408.1 L169.4 407.3 L168.8 406.6 L168.1 405.8 L167.5 405.0 L166.8 404.3 L166.2 403.5 L165.5 402.7 L164.9 402.0 L164.2 401.2 L163.6 400.5 L162.9 399.7 L162.3 398.9 L161.6 398.2 L161.0 397.4 L160.3 396.7 L159.6 395.9 L159.0 395.1 L158.3 394.4 L157.6 393.6 L157.0 392.9 L156.3 392.1 L155.6 391.4 L155.0 390.7 L154.3 389.9 L153.6 389.2 L152.9 388.5 L152.2 387.7 L151.5 387.0 L150.8 386.3 L150.1 385.6 L149.4 384.9 L148.7 384.2 L147.9 383.5 L147.2 382.8 L146.5 382.1 L145.7 381.4 L145.0 380.8 L144.2 380.1 L143.4 379.5 L142.7 378.8 L141.9 378.2 L141.1 377.6 L140.3 377.0 L139.5 376.4 L138.7 375.8 L137.9 375.2 L137.0 374.7 L136.2 374.2 L135.3 373.7 L134.4 373.2 L133.5 372.8 L132.6 372.4 L131.7 372.0 L130.8 371.6 L129.8 371.3 L128.9 371.0 L127.9 370.8 L127.0 370.6 L126.0 370.4 L125.0 370.3 L124.0 370.2 L123.0 370.1 L122.0 370.1 L121.0 370.1 L120.1 370.2 L119.1 370.3 L118.1 370.5 L117.1 370.6 L116.1 370.9 L115.2 371.1 L114.2 371.3 L113.2 371.6 L112.3 371.9 L111.3 372.2 L110.4 372.6 L109.4 372.9 L108.5 373.3 L107.6 373.6 L106.6 374.0 L105.7 374.3 L104.8 374.7 L103.8 375.1 L102.9 375.5 L102.0 376.0 L101.1 376.4 L100.2 376.9 L99.4 377.3 L98.5 377.8 L97.6 378.3 L96.8 378.9 L95.9 379.4 L95.1 379.9 L94.2 380.4 L93.4 381.0 L92.5 381.5 L91.6 382.0 L90.8 382.5 L89.9 383.0 L89.0 383.5 L88.2 384.0 L87.3 384.5 L86.4 385.0 L85.6 385.5 L84.7 386.1 L83.9 386.6 L83.0 387.1 L82.1 387.6 L81.3 388.1 L80.4 388.7 L79.6 389.2 L78.7 389.7 L77.9 390.3 L77.0 390.8 L76.2 391.3 L75.3 391.9 L74.5 392.4 L73.6 392.9 L72.8 393.4 L71.9 394.0 L71.1 394.5 L70.2 395.0 L69.3 395.6 L68.5 396.1 L67.6 396.6 L66.8 397.1 L65.9 397.6 L65.0 398.2 L64.2 398.7 L63.3 399.2 L62.5 399.7 L61.6 400.2 L60.7 400.7 L59.9 401.3 L59.0 401.8 L58.2 402.3 L57.3 402.8Z"/></clipPath>
<g clip-path="url(#co)">
<g id="lay">
<polygon points="67.2,180.0 67.2,178.4 67.2,176.8 67.2,175.1 67.2,173.5 67.3,171.9 67.3,170.3 67.4,168.6 67.5,167.0 67.6,165.4 67.7,163.7 67.8,162.1 67.9,160.4 68.0,158.8 68.2,157.1 68.4,155.4 68.5,153.8 68.7,152.1 68.9,150.4 69.1,148.7 69.4,147.0 69.6,145.3 69.8,143.6 70.1,141.8 70.3,140.1 70.6,138.3 70.9,136.5 71.1,134.7 71.4,132.9 71.7,131.1 72.1,129.2 72.4,127.4 72.8,125.5 73.3,123.7 73.8,121.8 74.3,120.0 74.9,118.2 75.6,116.4 76.3,114.6 77.0,112.8 77.8,111.0 78.5,109.2 79.3,107.4 80.1,105.5 80.9,103.6 81.7,101.7 82.6,99.8 83.4,97.9 84.3,95.9 85.2,93.9 86.1,91.9 87.0,89.9 88.0,87.9 89.0,85.8 90.1,83.8 91.2,81.8 92.4,79.8 93.6,77.8 94.9,75.7 96.1,73.7 97.4,71.6 98.7,69.5 100.1,67.4 101.6,65.3 103.0,63.2 104.5,61.1 106.1,58.9 107.6,56.6 109.2,54.3 110.9,52.0 112.6,49.8 114.4,47.6 116.3,45.5 118.3,43.5 120.3,41.6 122.4,39.9 124.7,38.3 127.0,37.0 129.4,35.9 131.8,34.7 134.2,33.7 136.7,32.6 139.2,31.7 141.7,30.9 144.3,30.3 146.9,29.8 149.5,29.5 152.1,29.2 154.7,29.1 157.4,29.1 160.0,29.2 162.6,29.5 165.2,29.9 167.8,30.4 170.4,31.1 173.0,31.8 175.5,32.6 178.0,33.6 180.4,34.6 182.9,35.7 185.2,36.9 187.6,38.1 189.9,39.4 192.2,40.7 194.4,42.0 196.6,43.4 198.8,44.8 200.9,46.2 203.0,47.7 205.0,49.3 207.0,50.8 208.9,52.5 210.8,54.2 212.7,55.9 214.5,57.6 216.3,59.3 218.0,61.1 219.7,62.9 221.3,64.6 223.0,66.4 224.5,68.2 226.1,70.0 227.6,71.8 229.1,73.5 230.6,75.3 232.1,77.1 233.5,78.8 234.9,80.6 236.2,82.4 237.5,84.2 238.8,86.1 239.9,88.0 241.0,90.0 242.0,92.0 243.0,94.1 243.8,96.2 244.7,98.2 245.5,100.3 246.3,102.3 247.0,104.4 247.8,106.4 248.5,108.4 249.2,110.3 249.8,112.3 250.5,114.2 251.2,116.1 252.0,118.0 252.8,119.8 253.5,121.5 254.3,123.3 254.9,125.2 255.5,127.1 256.0,129.0 256.4,130.9 256.8,132.8 257.2,134.7 257.5,136.6 257.8,138.5 258.0,140.4 258.3,142.3 258.5,144.2 258.7,146.0 258.8,147.9 259.0,149.7 259.1,151.6 259.2,153.4 259.2,155.3 259.3,157.1 259.3,158.9 259.3,160.7 259.3,162.5 259.3,164.3 259.3,166.0 259.2,167.8 259.2,169.6 259.1,171.3 259.1,173.1 259.0,174.8 258.8,176.5 258.7,178.3 258.6,180.0 258.4,181.7 258.2,183.4 257.9,185.1 257.6,186.8 257.3,188.5 256.9,190.2 256.5,191.8 256.0,193.5 255.4,195.1 254.9,196.7 254.4,198.3 253.9,199.9 253.4,201.6 252.9,203.2 252.5,204.8 252.0,206.4 251.5,208.0 251.1,209.6 250.5,211.2 250.0,212.8 249.5,214.3 248.9,215.9 248.3,217.5 247.7,219.0 247.0,220.6 246.4,222.1 245.7,223.7 245.0,225.2 244.4,226.8 243.7,228.3 243.0,229.9 242.3,231.4 241.6,233.0 240.9,234.6 240.2,236.2 239.5,237.7 238.7,239.3 237.8,240.8 236.9,242.3 236.0,243.7 235.0,245.2 234.0,246.6 233.0,248.1 232.0,249.5 231.0,251.0 229.9,252.4 228.9,253.9 227.8,255.3 226.8,256.8 225.7,258.3 224.6,259.8 223.5,261.3 222.4,262.8 221.3,264.3 220.1,265.8 218.9,267.3 217.7,268.9 216.5,270.4 215.2,271.9 213.9,273.4 212.6,274.9 211.3,276.5 209.9,278.0 208.5,279.4 207.1,280.9 205.6,282.4 204.1,283.9 202.6,285.4 201.0,286.9 199.5,288.5 197.9,290.1 196.3,291.7 194.7,293.4 193.0,295.1 191.3,296.8 189.6,298.6 187.8,300.4 186.0,302.3 184.1,304.2 182.3,306.2 180.3,308.3 178.3,310.4 176.3,312.5 174.1,314.5 171.9,316.5 169.7,318.6 167.4,320.7 165.0,322.9 162.5,325.1 160.0,327.5 157.4,330.1 154.7,332.7 151.9,335.4 148.9,338.1 145.9,340.6 142.9,342.9 139.7,345.0 136.5,347.0 133.2,348.9 129.9,351.0 127.1,349.1 124.9,345.1 122.8,341.3 120.7,337.7 118.7,334.2 116.8,330.8 114.9,327.6 113.1,324.4 111.3,321.3 109.7,318.3 108.0,315.4 106.4,312.7 104.8,310.1 103.2,307.5 101.7,305.0 100.3,302.4 98.9,299.9 97.6,297.3 96.5,294.6 95.3,292.0 94.3,289.4 93.2,286.8 92.2,284.4 91.2,282.0 90.2,279.7 89.3,277.4 88.3,275.1 87.4,272.9 86.5,270.8 85.6,268.6 84.8,266.5 84.0,264.4 83.2,262.4 82.4,260.4 81.6,258.4 80.9,256.3 80.3,254.3 79.7,252.3 79.1,250.3 78.5,248.4 78.0,246.4 77.4,244.5 76.9,242.6 76.4,240.7 75.9,238.9 75.4,237.1 74.9,235.3 74.4,233.5 73.9,231.7 73.4,230.0 72.9,228.3 72.4,226.6 72.0,224.8 71.6,223.1 71.2,221.4 70.8,219.7 70.5,218.0 70.2,216.3 69.9,214.6 69.7,212.9 69.5,211.2 69.3,209.5 69.1,207.8 68.9,206.1 68.7,204.5 68.6,202.8 68.4,201.1 68.3,199.5 68.2,197.9 68.0,196.2 67.9,194.6 67.8,193.0 67.7,191.3 67.6,189.7 67.5,188.1 67.4,186.5 67.3,184.9 67.3,183.2 67.2,181.6" fill="#000000"/>
<polygon points="67.4,180.0 67.3,178.4 67.3,176.8 67.4,175.1 67.4,173.5 67.4,171.9 67.5,170.3 67.5,168.6 67.6,167.0 67.7,165.4 67.8,163.7 67.9,162.1 68.1,160.5 68.2,158.8 68.4,157.2 68.5,155.5 68.7,153.8 68.9,152.1 69.1,150.5 69.3,148.8 69.5,147.1 69.7,145.4 70.0,143.6 70.2,141.9 70.5,140.1 70.7,138.4 71.0,136.6 71.3,134.8 71.6,133.0 71.9,131.2 72.2,129.3 72.6,127.5 73.0,125.6 73.4,123.8 73.9,121.9 74.5,120.1 75.1,118.3 75.7,116.5 76.4,114.7 77.2,112.9 77.9,111.1 78.7,109.3 79.5,107.5 80.3,105.6 81.1,103.8 81.9,101.9 82.7,100.0 83.6,98.0 84.4,96.1 85.3,94.1 86.2,92.1 87.2,90.1 88.1,88.0 89.2,86.0 90.2,84.0 91.4,82.0 92.5,80.0 93.7,78.0 95.0,75.9 96.2,73.9 97.5,71.8 98.8,69.7 100.2,67.6 101.7,65.5 103.1,63.4 104.6,61.3 106.2,59.1 107.7,56.8 109.3,54.5 111.0,52.3 112.7,50.0 114.5,47.9 116.4,45.8 118.3,43.8 120.4,41.9 122.5,40.1 124.8,38.6 127.1,37.3 129.4,36.1 131.8,35.0 134.2,33.9 136.7,32.9 139.2,32.0 141.7,31.2 144.3,30.6 146.9,30.1 149.5,29.8 152.1,29.5 154.7,29.4 157.4,29.4 160.0,29.5 162.6,29.8 165.2,30.2 167.8,30.7 170.4,31.4 172.9,32.1 175.5,32.9 177.9,33.8 180.4,34.9 182.8,36.0 185.2,37.2 187.5,38.4 189.8,39.6 192.1,40.9 194.3,42.2 196.5,43.6 198.7,45.0 200.8,46.5 202.9,48.0 204.9,49.5 206.9,51.1 208.9,52.7 210.8,54.4 212.6,56.1 214.4,57.8 216.2,59.5 217.9,61.3 219.6,63.0 221.2,64.8 222.9,66.6 224.5,68.4 226.0,70.1 227.5,71.9 229.0,73.7 230.5,75.5 232.0,77.2 233.4,79.0 234.8,80.8 236.1,82.6 237.4,84.4 238.7,86.2 239.8,88.2 240.9,90.1 241.9,92.2 242.8,94.2 243.7,96.3 244.6,98.4 245.4,100.4 246.1,102.4 246.9,104.5 247.6,106.5 248.4,108.4 249.0,110.4 249.7,112.4 250.4,114.3 251.1,116.2 251.9,118.0 252.7,119.8 253.4,121.6 254.2,123.4 254.8,125.2 255.4,127.1 255.9,129.0 256.3,130.9 256.7,132.8 257.0,134.7 257.4,136.6 257.7,138.5 257.9,140.4 258.2,142.3 258.4,144.2 258.6,146.1 258.7,147.9 258.8,149.8 259.0,151.6 259.0,153.5 259.1,155.3 259.2,157.1 259.2,158.9 259.2,160.7 259.2,162.5 259.2,164.3 259.2,166.1 259.1,167.8 259.1,169.6 259.0,171.3 258.9,173.1 258.8,174.8 258.7,176.6 258.6,178.3 258.4,180.0 258.3,181.7 258.1,183.4 257.8,185.1 257.5,186.8 257.2,188.5 256.8,190.2 256.3,191.8 255.8,193.5 255.3,195.1 254.8,196.7 254.3,198.3 253.8,199.9 253.3,201.5 252.8,203.1 252.4,204.7 251.9,206.4 251.4,208.0 251.0,209.6 250.4,211.1 249.9,212.7 249.4,214.3 248.8,215.9 248.2,217.4 247.6,219.0 246.9,220.5 246.3,222.1 245.6,223.6 244.9,225.2 244.3,226.7 243.6,228.3 242.9,229.8 242.2,231.4 241.5,232.9 240.8,234.5 240.1,236.1 239.3,237.6 238.5,239.2 237.7,240.7 236.8,242.2 235.9,243.6 234.9,245.1 233.9,246.5 232.9,248.0 231.9,249.4 230.9,250.9 229.8,252.3 228.8,253.7 227.7,255.2 226.6,256.7 225.6,258.1 224.5,259.6 223.4,261.1 222.3,262.6 221.1,264.1 220.0,265.7 218.8,267.2 217.6,268.7 216.4,270.2 215.1,271.7 213.8,273.2 212.5,274.7 211.2,276.2 209.8,277.7 208.4,279.2 207.0,280.7 205.5,282.2 204.0,283.6 202.5,285.1 200.9,286.6 199.4,288.2 197.8,289.8 196.2,291.4 194.6,293.0 192.9,294.7 191.2,296.4 189.5,298.2 187.7,300.0 185.9,301.8 184.0,303.7 182.2,305.7 180.2,307.7 178.2,309.8 176.2,311.8 174.1,313.8 171.9,315.8 169.6,317.7 167.3,319.8 165.0,321.9 162.5,324.1 160.0,326.4 157.4,328.8 154.7,331.4 151.9,334.0 149.1,336.5 146.1,338.9 143.1,341.1 140.0,343.1 136.8,345.0 133.6,346.8 130.2,348.8 127.6,346.9 125.3,343.1 123.2,339.4 121.1,335.8 119.2,332.4 117.2,329.2 115.3,326.0 113.5,323.0 111.8,320.0 110.1,317.0 108.5,314.2 106.8,311.6 105.2,309.0 103.7,306.5 102.2,304.0 100.7,301.6 99.3,299.1 98.0,296.5 96.8,293.9 95.7,291.4 94.6,288.8 93.6,286.3 92.5,283.9 91.5,281.5 90.5,279.2 89.5,277.0 88.6,274.8 87.7,272.6 86.8,270.4 85.9,268.3 85.0,266.2 84.2,264.2 83.4,262.1 82.6,260.1 81.9,258.1 81.2,256.1 80.5,254.1 79.9,252.1 79.3,250.1 78.7,248.2 78.2,246.2 77.7,244.3 77.1,242.5 76.6,240.6 76.1,238.8 75.6,236.9 75.1,235.1 74.6,233.4 74.1,231.6 73.6,229.9 73.1,228.2 72.6,226.5 72.2,224.8 71.7,223.0 71.4,221.3 71.0,219.6 70.7,217.9 70.4,216.2 70.1,214.5 69.9,212.8 69.7,211.1 69.4,209.4 69.3,207.7 69.1,206.1 68.9,204.4 68.8,202.8 68.6,201.1 68.5,199.5 68.3,197.8 68.2,196.2 68.1,194.6 67.9,192.9 67.8,191.3 67.7,189.7 67.6,188.1 67.6,186.5 67.5,184.8 67.4,183.2 67.4,181.6" fill="#150000"/>
<polygon points="67.5,180.0 67.5,178.4 67.5,176.8 67.5,175.2 67.5,173.5 67.6,171.9 67.6,170.3 67.7,168.7 67.8,167.0 67.9,165.4 68.0,163.8 68.1,162.1 68.2,160.5 68.4,158.8 68.5,157.2 68.7,155.5 68.9,153.9 69.0,152.2 69.2,150.5 69.4,148.8 69.7,147.1 69.9,145.4 70.1,143.7 70.4,142.0 70.6,140.2 70.9,138.5 71.2,136.7 71.5,134.9 71.7,133.1 72.1,131.3 72.4,129.4 72.8,127.6 73.2,125.7 73.6,123.9 74.1,122.1 74.6,120.2 75.2,118.4 75.9,116.6 76.6,114.8 77.3,113.0 78.1,111.2 78.8,109.4 79.6,107.6 80.4,105.8 81.2,103.9 82.0,102.0 82.9,100.1 83.7,98.2 84.6,96.2 85.4,94.2 86.4,92.2 87.3,90.2 88.3,88.2 89.3,86.2 90.4,84.1 91.5,82.1 92.6,80.1 93.9,78.1 95.1,76.1 96.3,74.1 97.6,72.0 99.0,69.9 100.3,67.8 101.8,65.7 103.2,63.6 104.8,61.5 106.3,59.3 107.8,57.1 109.4,54.8 111.1,52.5 112.8,50.3 114.6,48.1 116.5,46.0 118.4,44.0 120.5,42.1 122.6,40.4 124.8,38.9 127.1,37.6 129.5,36.4 131.9,35.3 134.3,34.2 136.8,33.2 139.2,32.3 141.8,31.5 144.3,30.9 146.9,30.4 149.5,30.0 152.1,29.8 154.8,29.7 157.4,29.7 160.0,29.8 162.6,30.1 165.2,30.5 167.8,31.0 170.4,31.6 172.9,32.4 175.4,33.2 177.9,34.1 180.4,35.2 182.8,36.3 185.1,37.4 187.5,38.6 189.8,39.9 192.0,41.2 194.3,42.5 196.5,43.9 198.6,45.3 200.8,46.7 202.8,48.2 204.9,49.7 206.8,51.3 208.8,52.9 210.7,54.6 212.5,56.3 214.3,58.0 216.1,59.7 217.8,61.5 219.5,63.2 221.2,65.0 222.8,66.8 224.4,68.5 225.9,70.3 227.4,72.1 228.9,73.8 230.4,75.6 231.9,77.4 233.3,79.1 234.7,80.9 236.0,82.7 237.3,84.5 238.6,86.4 239.7,88.3 240.8,90.3 241.8,92.3 242.7,94.3 243.6,96.4 244.4,98.5 245.2,100.5 246.0,102.5 246.8,104.5 247.5,106.5 248.3,108.5 248.9,110.5 249.6,112.5 250.3,114.4 251.0,116.3 251.8,118.1 252.6,119.9 253.3,121.7 254.1,123.5 254.7,125.3 255.3,127.2 255.8,129.1 256.2,131.0 256.6,132.9 256.9,134.8 257.3,136.7 257.5,138.6 257.8,140.5 258.0,142.4 258.3,144.2 258.4,146.1 258.6,148.0 258.7,149.8 258.8,151.7 258.9,153.5 259.0,155.3 259.0,157.1 259.1,158.9 259.1,160.7 259.1,162.5 259.1,164.3 259.0,166.1 259.0,167.8 259.0,169.6 258.9,171.3 258.8,173.1 258.7,174.8 258.6,176.6 258.5,178.3 258.3,180.0 258.1,181.7 257.9,183.4 257.7,185.1 257.4,186.8 257.1,188.5 256.7,190.2 256.2,191.8 255.7,193.5 255.2,195.1 254.7,196.7 254.2,198.3 253.6,199.9 253.2,201.5 252.7,203.1 252.3,204.7 251.8,206.3 251.3,207.9 250.9,209.5 250.3,211.1 249.8,212.7 249.3,214.3 248.7,215.8 248.1,217.4 247.5,218.9 246.8,220.5 246.2,222.0 245.5,223.6 244.8,225.1 244.2,226.7 243.5,228.2 242.8,229.7 242.1,231.3 241.4,232.9 240.7,234.4 240.0,236.0 239.2,237.6 238.4,239.1 237.6,240.6 236.7,242.1 235.7,243.6 234.8,245.0 233.8,246.4 232.8,247.9 231.8,249.3 230.7,250.7 229.7,252.2 228.7,253.6 227.6,255.1 226.5,256.5 225.5,258.0 224.4,259.5 223.3,261.0 222.2,262.5 221.0,264.0 219.9,265.5 218.7,267.0 217.5,268.5 216.3,270.0 215.0,271.5 213.7,273.0 212.4,274.5 211.1,276.0 209.7,277.5 208.3,279.0 206.8,280.5 205.4,281.9 203.9,283.4 202.4,284.9 200.8,286.4 199.3,287.9 197.7,289.5 196.1,291.1 194.5,292.7 192.8,294.4 191.1,296.0 189.4,297.8 187.6,299.5 185.8,301.3 183.9,303.2 182.1,305.1 180.1,307.1 178.1,309.1 176.1,311.1 174.0,313.1 171.8,315.0 169.6,316.9 167.3,318.8 164.9,320.9 162.5,323.0 160.0,325.2 157.4,327.6 154.8,330.0 152.0,332.5 149.2,334.9 146.2,337.2 143.3,339.3 140.2,341.2 137.1,343.0 133.9,344.7 130.6,346.6 128.0,344.7 125.8,341.0 123.7,337.4 121.6,334.0 119.6,330.7 117.7,327.6 115.8,324.5 114.0,321.6 112.3,318.6 110.6,315.7 108.9,313.0 107.3,310.4 105.7,308.0 104.1,305.5 102.6,303.1 101.1,300.7 99.8,298.2 98.4,295.8 97.2,293.2 96.1,290.7 95.0,288.2 93.9,285.8 92.9,283.4 91.8,281.1 90.8,278.8 89.8,276.6 88.9,274.4 87.9,272.2 87.0,270.1 86.2,268.0 85.3,265.9 84.5,263.9 83.6,261.9 82.9,259.9 82.1,257.9 81.4,255.9 80.7,253.9 80.1,251.9 79.5,250.0 79.0,248.0 78.4,246.1 77.9,244.2 77.3,242.3 76.8,240.4 76.3,238.6 75.8,236.8 75.3,235.0 74.8,233.3 74.3,231.5 73.8,229.8 73.3,228.1 72.8,226.4 72.3,224.7 71.9,223.0 71.5,221.3 71.2,219.5 70.9,217.8 70.6,216.1 70.3,214.4 70.0,212.7 69.8,211.1 69.6,209.4 69.4,207.7 69.2,206.0 69.1,204.4 68.9,202.7 68.8,201.1 68.6,199.4 68.5,197.8 68.3,196.2 68.2,194.5 68.1,192.9 68.0,191.3 67.9,189.7 67.8,188.1 67.7,186.5 67.6,184.8 67.6,183.2 67.6,181.6" fill="#290000"/>
<polygon points="67.7,180.0 67.7,178.4 67.7,176.8 67.7,175.2 67.7,173.5 67.8,171.9 67.8,170.3 67.9,168.7 68.0,167.1 68.0,165.4 68.1,163.8 68.3,162.2 68.4,160.5 68.5,158.9 68.7,157.2 68.8,155.6 69.0,153.9 69.2,152.2 69.4,150.6 69.6,148.9 69.8,147.2 70.1,145.5 70.3,143.8 70.5,142.0 70.8,140.3 71.1,138.5 71.3,136.8 71.6,135.0 71.9,133.2 72.2,131.3 72.6,129.5 72.9,127.7 73.3,125.8 73.8,124.0 74.3,122.2 74.8,120.3 75.4,118.5 76.0,116.7 76.7,114.9 77.5,113.2 78.2,111.4 79.0,109.6 79.8,107.7 80.5,105.9 81.3,104.0 82.2,102.2 83.0,100.3 83.8,98.3 84.7,96.4 85.6,94.4 86.5,92.4 87.4,90.4 88.4,88.4 89.4,86.3 90.5,84.3 91.6,82.3 92.8,80.3 94.0,78.3 95.2,76.3 96.5,74.3 97.8,72.2 99.1,70.1 100.5,68.0 101.9,65.9 103.4,63.9 104.9,61.7 106.4,59.6 107.9,57.3 109.5,55.0 111.2,52.7 112.9,50.5 114.7,48.4 116.6,46.3 118.5,44.3 120.5,42.4 122.7,40.7 124.9,39.2 127.2,37.9 129.5,36.7 131.9,35.6 134.3,34.5 136.8,33.5 139.3,32.6 141.8,31.8 144.4,31.2 146.9,30.7 149.5,30.3 152.1,30.1 154.8,30.0 157.4,30.0 160.0,30.1 162.6,30.4 165.2,30.8 167.8,31.3 170.4,31.9 172.9,32.7 175.4,33.5 177.9,34.4 180.3,35.4 182.7,36.5 185.1,37.7 187.4,38.9 189.7,40.2 192.0,41.4 194.2,42.8 196.4,44.1 198.6,45.5 200.7,46.9 202.8,48.4 204.8,49.9 206.8,51.5 208.7,53.1 210.6,54.8 212.4,56.5 214.2,58.2 216.0,59.9 217.7,61.6 219.4,63.4 221.1,65.2 222.7,66.9 224.3,68.7 225.8,70.5 227.3,72.2 228.8,74.0 230.3,75.8 231.8,77.5 233.2,79.3 234.6,81.0 235.9,82.8 237.2,84.7 238.4,86.5 239.6,88.4 240.7,90.4 241.7,92.4 242.6,94.4 243.5,96.5 244.3,98.6 245.1,100.6 245.9,102.6 246.7,104.6 247.4,106.6 248.1,108.6 248.8,110.6 249.5,112.5 250.2,114.5 250.9,116.3 251.7,118.2 252.4,120.0 253.2,121.7 254.0,123.5 254.6,125.4 255.2,127.2 255.7,129.1 256.1,131.0 256.5,132.9 256.8,134.8 257.1,136.7 257.4,138.6 257.7,140.5 257.9,142.4 258.1,144.3 258.3,146.1 258.5,148.0 258.6,149.9 258.7,151.7 258.8,153.5 258.9,155.3 258.9,157.2 259.0,159.0 259.0,160.8 259.0,162.5 259.0,164.3 258.9,166.1 258.9,167.9 258.8,169.6 258.8,171.4 258.7,173.1 258.6,174.8 258.5,176.6 258.4,178.3 258.2,180.0 258.0,181.7 257.8,183.4 257.6,185.1 257.3,186.8 257.0,188.5 256.6,190.2 256.1,191.8 255.6,193.4 255.1,195.1 254.6,196.7 254.0,198.3 253.5,199.9 253.1,201.5 252.6,203.1 252.2,204.7 251.7,206.3 251.2,207.9 250.8,209.5 250.2,211.1 249.7,212.7 249.2,214.2 248.6,215.8 248.0,217.3 247.4,218.9 246.7,220.4 246.1,222.0 245.4,223.5 244.7,225.1 244.1,226.6 243.4,228.1 242.7,229.7 242.0,231.2 241.3,232.8 240.6,234.4 239.9,235.9 239.1,237.5 238.3,239.0 237.5,240.5 236.6,242.0 235.6,243.5 234.7,244.9 233.7,246.3 232.7,247.8 231.6,249.2 230.6,250.6 229.6,252.1 228.5,253.5 227.5,254.9 226.4,256.4 225.3,257.9 224.3,259.3 223.2,260.8 222.0,262.3 220.9,263.8 219.8,265.3 218.6,266.8 217.4,268.3 216.1,269.8 214.9,271.3 213.6,272.8 212.3,274.3 211.0,275.8 209.6,277.3 208.2,278.8 206.7,280.2 205.3,281.7 203.8,283.1 202.3,284.6 200.7,286.1 199.2,287.6 197.6,289.2 196.0,290.7 194.4,292.4 192.7,294.0 191.0,295.7 189.3,297.4 187.5,299.1 185.7,300.9 183.9,302.7 182.0,304.6 180.0,306.5 178.1,308.5 176.0,310.4 173.9,312.3 171.7,314.2 169.5,316.0 167.2,317.9 164.9,319.9 162.5,321.9 160.0,324.1 157.4,326.3 154.8,327.7 152.2,329.5 149.4,331.4 146.6,333.1 143.7,334.8 140.8,336.3 137.8,337.7 134.8,339.2 131.7,340.7 129.1,339.0 126.9,335.7 124.8,332.5 122.7,329.5 120.7,326.6 118.7,323.9 116.8,321.4 114.9,318.9 112.9,316.7 111.0,314.5 109.4,311.8 107.7,309.3 106.1,306.9 104.5,304.6 103.0,302.2 101.6,299.8 100.2,297.4 98.8,295.0 97.6,292.6 96.4,290.1 95.3,287.6 94.3,285.2 93.2,282.9 92.1,280.6 91.1,278.4 90.1,276.2 89.2,274.0 88.2,271.9 87.3,269.8 86.4,267.7 85.5,265.7 84.7,263.6 83.9,261.6 83.1,259.6 82.3,257.7 81.6,255.7 81.0,253.7 80.3,251.7 79.7,249.8 79.2,247.8 78.6,245.9 78.1,244.0 77.5,242.2 77.0,240.3 76.5,238.5 76.0,236.7 75.5,234.9 75.0,233.1 74.5,231.4 74.0,229.7 73.5,228.0 73.0,226.3 72.5,224.6 72.1,222.9 71.7,221.2 71.4,219.5 71.0,217.8 70.7,216.1 70.5,214.4 70.2,212.7 70.0,211.0 69.8,209.3 69.6,207.6 69.4,206.0 69.2,204.3 69.1,202.7 68.9,201.0 68.8,199.4 68.6,197.8 68.5,196.1 68.4,194.5 68.3,192.9 68.2,191.3 68.1,189.7 68.0,188.1 67.9,186.4 67.8,184.8 67.8,183.2 67.7,181.6" fill="#3e0000"/>
<polygon points="67.8,180.0 67.8,178.4 67.8,176.8 67.8,175.2 67.9,173.6 67.9,171.9 68.0,170.3 68.0,168.7 68.1,167.1 68.2,165.5 68.3,163.8 68.4,162.2 68.5,160.6 68.7,158.9 68.8,157.3 69.0,155.6 69.2,154.0 69.4,152.3 69.5,150.6 69.8,148.9 70.0,147.2 70.2,145.5 70.5,143.8 70.7,142.1 70.9,140.4 71.2,138.6 71.5,136.8 71.8,135.0 72.1,133.2 72.4,131.4 72.7,129.6 73.1,127.8 73.5,125.9 73.9,124.1 74.4,122.3 75.0,120.5 75.6,118.6 76.2,116.9 76.9,115.1 77.6,113.3 78.4,111.5 79.1,109.7 79.9,107.9 80.7,106.0 81.5,104.2 82.3,102.3 83.1,100.4 84.0,98.5 84.8,96.5 85.7,94.5 86.6,92.5 87.6,90.5 88.5,88.5 89.5,86.5 90.6,84.5 91.7,82.5 92.9,80.5 94.1,78.5 95.3,76.5 96.6,74.5 97.9,72.4 99.2,70.3 100.6,68.2 102.0,66.1 103.5,64.1 105.0,62.0 106.5,59.8 108.0,57.5 109.6,55.3 111.2,53.0 113.0,50.8 114.8,48.7 116.7,46.6 118.6,44.6 120.6,42.7 122.8,41.0 125.0,39.5 127.3,38.2 129.6,37.0 132.0,35.9 134.4,34.8 136.8,33.8 139.3,32.9 141.8,32.1 144.4,31.5 147.0,31.0 149.6,30.6 152.2,30.4 154.8,30.3 157.4,30.3 160.0,30.4 162.6,30.7 165.2,31.1 167.8,31.6 170.3,32.2 172.9,33.0 175.4,33.8 177.8,34.7 180.3,35.7 182.7,36.8 185.0,38.0 187.4,39.2 189.7,40.4 191.9,41.7 194.2,43.0 196.3,44.4 198.5,45.8 200.6,47.2 202.7,48.7 204.7,50.2 206.7,51.7 208.6,53.3 210.5,55.0 212.3,56.7 214.1,58.4 215.9,60.1 217.6,61.8 219.3,63.6 221.0,65.3 222.6,67.1 224.2,68.9 225.7,70.6 227.2,72.4 228.7,74.2 230.2,75.9 231.7,77.7 233.1,79.4 234.5,81.2 235.8,83.0 237.1,84.8 238.3,86.7 239.5,88.6 240.6,90.5 241.6,92.5 242.5,94.6 243.4,96.6 244.2,98.7 245.0,100.7 245.8,102.7 246.6,104.7 247.3,106.7 248.0,108.7 248.7,110.7 249.4,112.6 250.1,114.5 250.8,116.4 251.6,118.2 252.3,120.0 253.1,121.8 253.9,123.6 254.5,125.4 255.1,127.3 255.6,129.2 256.0,131.1 256.4,133.0 256.7,134.9 257.0,136.8 257.3,138.7 257.6,140.6 257.8,142.5 258.0,144.3 258.2,146.2 258.4,148.0 258.5,149.9 258.6,151.7 258.7,153.6 258.8,155.4 258.8,157.2 258.8,159.0 258.9,160.8 258.9,162.6 258.8,164.3 258.8,166.1 258.8,167.9 258.7,169.6 258.7,171.4 258.6,173.1 258.5,174.8 258.4,176.6 258.2,178.3 258.1,180.0 257.9,181.7 257.7,183.4 257.5,185.1 257.2,186.8 256.9,188.5 256.5,190.1 256.0,191.8 255.5,193.4 255.0,195.0 254.5,196.7 253.9,198.3 253.4,199.9 253.0,201.5 252.5,203.1 252.1,204.7 251.6,206.3 251.1,207.9 250.7,209.5 250.1,211.0 249.6,212.6 249.1,214.2 248.5,215.7 247.9,217.3 247.3,218.9 246.6,220.4 246.0,221.9 245.3,223.5 244.6,225.0 244.0,226.5 243.3,228.1 242.6,229.6 241.9,231.2 241.2,232.7 240.5,234.3 239.8,235.9 239.0,237.4 238.2,238.9 237.4,240.4 236.5,241.9 235.5,243.4 234.5,244.8 233.6,246.2 232.5,247.7 231.5,249.1 230.5,250.5 229.5,251.9 228.4,253.4 227.4,254.8 226.3,256.3 225.2,257.7 224.1,259.2 223.0,260.7 221.9,262.2 220.8,263.7 219.6,265.2 218.5,266.7 217.3,268.2 216.0,269.7 214.8,271.2 213.5,272.6 212.2,274.1 210.8,275.6 209.5,277.1 208.1,278.5 206.6,280.0 205.2,281.4 203.7,282.9 202.2,284.3 200.6,285.8 199.1,287.3 197.5,288.9 195.9,290.4 194.2,292.0 192.6,293.6 190.9,295.3 189.2,297.0 187.4,298.7 185.6,300.4 183.8,302.2 181.9,304.1 179.9,305.9 177.9,307.7 175.8,308.9 173.7,310.3 171.5,311.7 169.3,313.2 167.1,314.6 164.8,316.2 162.4,317.8 160.0,319.5 157.5,321.3 155.0,323.1 152.4,325.0 149.7,326.9 147.0,328.6 144.2,330.2 141.4,331.6 138.5,332.9 135.6,334.2 132.6,335.6 130.1,334.0 127.9,330.9 125.9,327.9 123.8,325.0 121.9,322.3 119.9,319.7 118.1,317.1 116.2,314.7 114.5,312.2 112.7,309.9 111.0,307.6 109.3,305.5 107.6,303.4 105.9,301.4 104.3,299.5 102.7,297.5 101.1,295.6 99.6,293.7 98.0,291.9 96.8,289.4 95.7,287.0 94.6,284.7 93.5,282.4 92.5,280.1 91.4,277.9 90.4,275.8 89.4,273.6 88.5,271.5 87.6,269.5 86.7,267.4 85.8,265.4 84.9,263.4 84.1,261.4 83.3,259.4 82.6,257.4 81.9,255.5 81.2,253.5 80.6,251.5 79.9,249.6 79.4,247.7 78.8,245.7 78.3,243.9 77.7,242.0 77.2,240.2 76.7,238.3 76.2,236.6 75.7,234.8 75.1,233.0 74.6,231.3 74.1,229.6 73.6,227.9 73.2,226.2 72.7,224.5 72.3,222.8 71.9,221.1 71.5,219.4 71.2,217.7 70.9,216.0 70.6,214.3 70.4,212.6 70.2,210.9 69.9,209.3 69.8,207.6 69.6,205.9 69.4,204.3 69.2,202.6 69.1,201.0 68.9,199.4 68.8,197.7 68.7,196.1 68.5,194.5 68.4,192.9 68.3,191.3 68.2,189.6 68.1,188.0 68.0,186.4 68.0,184.8 67.9,183.2 67.9,181.6" fill="#520000"/>
<polygon points="68.0,180.0 68.0,178.4 68.0,176.8 68.0,175.2 68.0,173.6 68.1,172.0 68.1,170.3 68.2,168.7 68.3,167.1 68.4,165.5 68.5,163.9 68.6,162.2 68.7,160.6 68.8,159.0 69.0,157.3 69.2,155.7 69.3,154.0 69.5,152.3 69.7,150.7 69.9,149.0 70.1,147.3 70.4,145.6 70.6,143.9 70.9,142.2 71.1,140.4 71.4,138.7 71.6,136.9 71.9,135.1 72.2,133.3 72.5,131.5 72.9,129.7 73.2,127.9 73.6,126.0 74.1,124.2 74.6,122.4 75.1,120.6 75.7,118.8 76.4,117.0 77.0,115.2 77.8,113.4 78.5,111.6 79.3,109.8 80.0,108.0 80.8,106.2 81.6,104.3 82.4,102.4 83.3,100.5 84.1,98.6 85.0,96.7 85.8,94.7 86.8,92.7 87.7,90.7 88.7,88.7 89.7,86.7 90.7,84.7 91.9,82.7 93.0,80.7 94.2,78.7 95.4,76.7 96.7,74.6 98.0,72.6 99.3,70.5 100.7,68.4 102.1,66.4 103.6,64.3 105.1,62.2 106.6,60.0 108.1,57.8 109.7,55.5 111.3,53.2 113.1,51.1 114.9,48.9 116.7,46.9 118.7,44.9 120.7,43.0 122.8,41.3 125.0,39.8 127.3,38.5 129.7,37.3 132.0,36.2 134.5,35.1 136.9,34.1 139.4,33.2 141.9,32.4 144.4,31.8 147.0,31.3 149.6,30.9 152.2,30.7 154.8,30.5 157.4,30.6 160.0,30.7 162.6,31.0 165.2,31.4 167.8,31.9 170.3,32.5 172.8,33.2 175.3,34.1 177.8,35.0 180.2,36.0 182.6,37.1 185.0,38.2 187.3,39.5 189.6,40.7 191.9,42.0 194.1,43.3 196.3,44.6 198.4,46.0 200.5,47.4 202.6,48.9 204.6,50.4 206.6,52.0 208.5,53.6 210.4,55.2 212.3,56.9 214.1,58.6 215.8,60.3 217.5,62.0 219.2,63.8 220.9,65.5 222.5,67.3 224.1,69.0 225.6,70.8 227.1,72.5 228.6,74.3 230.1,76.1 231.6,77.8 233.0,79.6 234.4,81.3 235.7,83.1 237.0,84.9 238.2,86.8 239.4,88.7 240.5,90.6 241.5,92.6 242.4,94.7 243.3,96.7 244.1,98.8 244.9,100.8 245.7,102.8 246.5,104.8 247.2,106.8 247.9,108.8 248.6,110.8 249.3,112.7 250.0,114.6 250.7,116.5 251.5,118.3 252.2,120.1 253.0,121.9 253.8,123.7 254.4,125.5 255.0,127.4 255.5,129.2 255.9,131.1 256.3,133.1 256.6,135.0 256.9,136.8 257.2,138.7 257.5,140.6 257.7,142.5 257.9,144.4 258.1,146.2 258.2,148.1 258.4,149.9 258.5,151.8 258.6,153.6 258.6,155.4 258.7,157.2 258.7,159.0 258.7,160.8 258.7,162.6 258.7,164.4 258.7,166.1 258.7,167.9 258.6,169.6 258.5,171.4 258.5,173.1 258.4,174.8 258.3,176.6 258.1,178.3 258.0,180.0 257.8,181.7 257.6,183.4 257.4,185.1 257.1,186.8 256.7,188.5 256.4,190.1 255.9,191.8 255.4,193.4 254.9,195.0 254.4,196.6 253.8,198.2 253.3,199.8 252.9,201.4 252.4,203.0 252.0,204.6 251.5,206.2 251.0,207.8 250.6,209.4 250.0,211.0 249.5,212.6 249.0,214.1 248.4,215.7 247.8,217.3 247.2,218.8 246.5,220.3 245.9,221.9 245.2,223.4 244.5,225.0 243.9,226.5 243.2,228.0 242.5,229.6 241.8,231.1 241.1,232.7 240.4,234.2 239.7,235.8 238.9,237.3 238.1,238.9 237.2,240.3 236.3,241.8 235.4,243.3 234.4,244.7 233.4,246.1 232.4,247.5 231.4,249.0 230.4,250.4 229.4,251.8 228.3,253.3 227.3,254.7 226.2,256.1 225.1,257.6 224.0,259.1 222.9,260.5 221.8,262.0 220.7,263.5 219.5,265.0 218.3,266.5 217.1,268.0 215.9,269.5 214.7,271.0 213.4,272.5 212.1,273.9 210.7,275.4 209.4,276.9 208.0,278.3 206.5,279.8 205.1,281.2 203.6,282.6 202.1,284.1 200.5,285.6 199.0,287.0 197.4,288.6 195.8,290.1 194.1,291.7 192.5,293.3 190.8,294.8 188.9,296.0 187.1,297.4 185.3,298.8 183.4,300.3 181.5,301.8 179.5,303.3 177.6,304.9 175.5,306.5 173.4,307.9 171.3,309.4 169.1,310.8 166.9,312.3 164.7,313.8 162.4,315.4 160.0,317.0 157.6,318.7 155.1,320.5 152.5,322.3 149.9,324.0 147.3,325.6 144.5,327.0 141.8,328.3 139.0,329.5 136.1,330.7 133.2,332.0 130.8,330.5 128.6,327.5 126.6,324.7 124.6,322.0 122.7,319.3 120.8,316.8 118.9,314.4 117.1,312.0 115.4,309.6 113.7,307.3 112.0,305.1 110.3,303.0 108.6,301.0 107.0,299.0 105.4,297.1 103.9,295.1 102.4,293.1 100.9,291.1 99.5,289.1 98.2,287.0 96.9,285.0 95.7,283.0 94.4,281.0 93.2,279.1 91.9,277.2 90.7,275.4 89.7,273.3 88.8,271.2 87.8,269.1 86.9,267.1 86.0,265.1 85.2,263.1 84.4,261.1 83.6,259.1 82.8,257.2 82.1,255.2 81.4,253.3 80.8,251.3 80.2,249.4 79.6,247.5 79.0,245.6 78.5,243.7 77.9,241.8 77.4,240.0 76.9,238.2 76.4,236.4 75.8,234.7 75.3,232.9 74.8,231.2 74.3,229.5 73.8,227.8 73.3,226.1 72.9,224.4 72.5,222.7 72.1,221.0 71.7,219.3 71.4,217.6 71.1,215.9 70.8,214.2 70.6,212.6 70.3,210.9 70.1,209.2 69.9,207.5 69.7,205.9 69.6,204.2 69.4,202.6 69.3,201.0 69.1,199.3 69.0,197.7 68.8,196.1 68.7,194.5 68.6,192.8 68.5,191.2 68.4,189.6 68.3,188.0 68.2,186.4 68.1,184.8 68.1,183.2 68.0,181.6" fill="#670000"/>
<polygon points="68.2,180.0 68.2,178.4 68.2,176.8 68.2,175.2 68.2,173.6 68.2,172.0 68.3,170.4 68.4,168.7 68.4,167.1 68.5,165.5 68.6,163.9 68.7,162.3 68.9,160.6 69.0,159.0 69.2,157.3 69.3,155.7 69.5,154.0 69.7,152.4 69.9,150.7 70.1,149.0 70.3,147.3 70.5,145.7 70.8,143.9 71.0,142.2 71.3,140.5 71.5,138.7 71.8,137.0 72.1,135.2 72.4,133.4 72.7,131.6 73.0,129.8 73.4,128.0 73.8,126.1 74.2,124.3 74.7,122.5 75.3,120.7 75.9,118.9 76.5,117.1 77.2,115.3 77.9,113.5 78.7,111.7 79.4,110.0 80.2,108.1 81.0,106.3 81.8,104.5 82.6,102.6 83.4,100.7 84.2,98.8 85.1,96.8 86.0,94.8 86.9,92.9 87.8,90.9 88.8,88.9 89.8,86.8 90.9,84.8 92.0,82.9 93.1,80.9 94.3,78.9 95.6,76.9 96.8,74.8 98.1,72.8 99.4,70.7 100.8,68.6 102.2,66.6 103.7,64.5 105.2,62.4 106.7,60.2 108.2,58.0 109.8,55.7 111.4,53.5 113.2,51.3 115.0,49.2 116.8,47.1 118.8,45.1 120.8,43.3 122.9,41.6 125.1,40.1 127.4,38.8 129.7,37.6 132.1,36.5 134.5,35.4 136.9,34.4 139.4,33.5 141.9,32.7 144.5,32.1 147.0,31.6 149.6,31.2 152.2,31.0 154.8,30.8 157.4,30.9 160.0,31.0 162.6,31.3 165.2,31.7 167.7,32.2 170.3,32.8 172.8,33.5 175.3,34.3 177.8,35.3 180.2,36.3 182.6,37.4 184.9,38.5 187.3,39.7 189.6,41.0 191.8,42.2 194.0,43.5 196.2,44.9 198.4,46.2 200.5,47.7 202.5,49.1 204.5,50.6 206.5,52.2 208.5,53.8 210.3,55.4 212.2,57.1 214.0,58.8 215.7,60.5 217.5,62.2 219.1,63.9 220.8,65.7 222.4,67.4 224.0,69.2 225.5,70.9 227.0,72.7 228.5,74.5 230.0,76.2 231.5,78.0 232.9,79.7 234.3,81.5 235.6,83.3 236.9,85.1 238.1,86.9 239.3,88.8 240.3,90.8 241.3,92.8 242.3,94.8 243.1,96.9 244.0,98.9 244.8,100.9 245.6,102.9 246.4,104.9 247.1,106.9 247.8,108.9 248.5,110.8 249.2,112.8 249.9,114.7 250.6,116.6 251.4,118.4 252.1,120.2 252.9,121.9 253.7,123.7 254.3,125.6 254.9,127.4 255.4,129.3 255.8,131.2 256.2,133.1 256.5,135.0 256.8,136.9 257.1,138.8 257.4,140.7 257.6,142.5 257.8,144.4 258.0,146.3 258.1,148.1 258.3,150.0 258.4,151.8 258.5,153.6 258.5,155.4 258.6,157.2 258.6,159.0 258.6,160.8 258.6,162.6 258.6,164.4 258.6,166.1 258.5,167.9 258.5,169.6 258.4,171.4 258.3,173.1 258.3,174.9 258.1,176.6 258.0,178.3 257.9,180.0 257.7,181.7 257.5,183.4 257.2,185.1 257.0,186.8 256.6,188.5 256.2,190.1 255.8,191.8 255.3,193.4 254.8,195.0 254.3,196.6 253.7,198.2 253.2,199.8 252.8,201.4 252.3,203.0 251.9,204.6 251.4,206.2 250.9,207.8 250.5,209.4 249.9,211.0 249.4,212.5 248.9,214.1 248.3,215.7 247.7,217.2 247.1,218.8 246.4,220.3 245.8,221.8 245.1,223.4 244.4,224.9 243.8,226.4 243.1,228.0 242.4,229.5 241.7,231.1 241.0,232.6 240.3,234.2 239.6,235.7 238.8,237.3 238.0,238.8 237.1,240.3 236.2,241.7 235.3,243.2 234.3,244.6 233.3,246.0 232.3,247.4 231.3,248.9 230.3,250.3 229.2,251.7 228.2,253.1 227.1,254.6 226.1,256.0 225.0,257.5 223.9,258.9 222.8,260.4 221.7,261.9 220.6,263.4 219.4,264.8 218.2,266.3 217.0,267.8 215.8,269.3 214.5,270.8 213.3,272.3 212.0,273.7 210.6,275.2 209.2,276.6 207.8,278.1 206.4,279.5 204.9,281.0 203.5,282.4 201.9,283.8 200.3,285.0 198.7,286.3 197.0,287.5 195.4,288.9 193.7,290.2 192.0,291.6 190.3,292.9 188.5,294.3 186.7,295.8 184.9,297.2 183.1,298.7 181.2,300.2 179.3,301.7 177.3,303.3 175.3,304.8 173.3,306.3 171.2,307.7 169.0,309.1 166.8,310.5 164.6,312.0 162.3,313.5 160.0,315.0 157.6,316.6 155.2,318.3 152.7,320.0 150.1,321.6 147.5,323.1 144.8,324.5 142.1,325.6 139.4,326.7 136.6,327.8 133.7,328.9 131.3,327.5 129.2,324.7 127.2,322.0 125.2,319.4 123.3,316.9 121.4,314.5 119.6,312.1 117.8,309.8 116.1,307.5 114.4,305.3 112.7,303.1 111.1,301.0 109.5,299.1 107.9,297.1 106.3,295.2 104.8,293.3 103.3,291.3 101.8,289.4 100.5,287.4 99.2,285.4 97.9,283.4 96.7,281.4 95.4,279.4 94.2,277.5 93.0,275.6 91.9,273.8 90.8,271.9 89.7,270.0 88.6,268.2 87.6,266.3 86.5,264.5 85.5,262.7 84.6,260.9 83.8,258.9 83.0,257.0 82.3,255.0 81.6,253.1 81.0,251.1 80.4,249.2 79.8,247.3 79.2,245.4 78.7,243.5 78.1,241.7 77.6,239.9 77.1,238.1 76.5,236.3 76.0,234.5 75.5,232.8 75.0,231.1 74.5,229.4 74.0,227.7 73.5,226.0 73.1,224.3 72.6,222.6 72.2,220.9 71.9,219.2 71.6,217.5 71.3,215.9 71.0,214.2 70.7,212.5 70.5,210.8 70.3,209.2 70.1,207.5 69.9,205.8 69.7,204.2 69.6,202.5 69.4,200.9 69.3,199.3 69.1,197.7 69.0,196.0 68.9,194.4 68.7,192.8 68.6,191.2 68.5,189.6 68.4,188.0 68.4,186.4 68.3,184.8 68.2,183.2 68.2,181.6" fill="#7c0000"/>
<polygon points="68.3,180.0 68.3,178.4 68.3,176.8 68.3,175.2 68.4,173.6 68.4,172.0 68.5,170.4 68.5,168.8 68.6,167.2 68.7,165.5 68.8,163.9 68.9,162.3 69.0,160.7 69.2,159.0 69.3,157.4 69.5,155.7 69.6,154.1 69.8,152.4 70.0,150.8 70.2,149.1 70.4,147.4 70.7,145.7 70.9,144.0 71.2,142.3 71.4,140.6 71.7,138.8 72.0,137.1 72.2,135.3 72.5,133.5 72.8,131.7 73.2,129.9 73.6,128.1 74.0,126.2 74.4,124.4 74.9,122.6 75.4,120.8 76.0,119.0 76.7,117.2 77.4,115.4 78.1,113.7 78.8,111.9 79.6,110.1 80.3,108.3 81.1,106.4 81.9,104.6 82.7,102.7 83.5,100.8 84.4,98.9 85.2,97.0 86.1,95.0 87.0,93.0 87.9,91.0 88.9,89.0 89.9,87.0 91.0,85.0 92.1,83.0 93.3,81.1 94.5,79.1 95.7,77.1 96.9,75.0 98.2,73.0 99.5,70.9 100.9,68.8 102.3,66.8 103.8,64.7 105.3,62.6 106.8,60.5 108.3,58.2 109.9,56.0 111.5,53.7 113.3,51.6 115.0,49.4 116.9,47.4 118.9,45.4 120.9,43.5 123.0,41.8 125.2,40.4 127.5,39.1 129.8,37.9 132.2,36.8 134.6,35.7 137.0,34.7 139.4,33.8 141.9,33.0 144.5,32.4 147.0,31.9 149.6,31.5 152.2,31.3 154.8,31.1 157.4,31.1 160.0,31.3 162.6,31.6 165.2,32.0 167.7,32.5 170.3,33.1 172.8,33.8 175.3,34.6 177.7,35.6 180.2,36.6 182.5,37.6 184.9,38.8 187.2,40.0 189.5,41.2 191.7,42.5 194.0,43.8 196.1,45.1 198.3,46.5 200.4,47.9 202.4,49.4 204.5,50.9 206.4,52.4 208.4,54.0 210.3,55.6 212.1,57.3 213.9,59.0 215.6,60.7 217.4,62.4 219.0,64.1 220.7,65.8 222.3,67.6 223.9,69.3 225.4,71.1 226.9,72.9 228.4,74.6 229.9,76.4 231.4,78.1 232.8,79.8 234.1,81.6 235.5,83.4 236.8,85.2 238.0,87.1 239.1,89.0 240.2,90.9 241.2,92.9 242.2,94.9 243.0,97.0 243.9,99.0 244.7,101.0 245.5,103.0 246.2,105.0 247.0,107.0 247.7,109.0 248.4,110.9 249.1,112.9 249.8,114.8 250.5,116.6 251.3,118.4 252.0,120.2 252.8,122.0 253.6,123.8 254.2,125.6 254.8,127.5 255.2,129.4 255.7,131.3 256.0,133.2 256.4,135.1 256.7,136.9 257.0,138.8 257.2,140.7 257.5,142.6 257.7,144.4 257.9,146.3 258.0,148.2 258.1,150.0 258.3,151.8 258.3,153.7 258.4,155.5 258.5,157.3 258.5,159.1 258.5,160.9 258.5,162.6 258.5,164.4 258.5,166.2 258.4,167.9 258.4,169.7 258.3,171.4 258.2,173.1 258.1,174.9 258.0,176.6 257.9,178.3 257.7,180.0 257.6,181.7 257.4,183.4 257.1,185.1 256.8,186.8 256.5,188.4 256.1,190.1 255.7,191.7 255.2,193.4 254.7,195.0 254.2,196.6 253.6,198.2 253.1,199.8 252.7,201.4 252.2,203.0 251.8,204.6 251.3,206.2 250.8,207.8 250.4,209.4 249.8,210.9 249.3,212.5 248.8,214.1 248.2,215.6 247.6,217.2 247.0,218.7 246.3,220.3 245.7,221.8 245.0,223.3 244.4,224.9 243.7,226.4 243.0,227.9 242.3,229.4 241.6,231.0 240.9,232.5 240.2,234.1 239.5,235.6 238.7,237.2 237.9,238.7 237.0,240.2 236.1,241.6 235.2,243.1 234.2,244.5 233.2,245.9 232.2,247.3 231.2,248.7 230.2,250.2 229.1,251.6 228.1,253.0 227.0,254.4 226.0,255.9 224.9,257.3 223.8,258.8 222.7,260.2 221.6,261.7 220.4,263.2 219.3,264.7 218.1,266.2 216.9,267.6 215.7,269.1 214.4,270.6 213.2,272.1 211.8,273.5 210.4,274.8 209.0,276.1 207.5,277.3 206.0,278.6 204.5,279.9 202.9,281.1 201.4,282.4 199.8,283.7 198.2,285.0 196.6,286.3 195.0,287.7 193.3,289.0 191.7,290.4 189.9,291.8 188.2,293.2 186.4,294.6 184.7,296.0 182.8,297.4 181.0,298.9 179.1,300.4 177.1,301.9 175.2,303.4 173.1,304.8 171.0,306.2 168.9,307.6 166.8,308.9 164.6,310.4 162.3,311.8 160.0,313.3 157.6,314.8 155.2,316.4 152.8,318.0 150.2,319.5 147.7,320.9 145.1,322.2 142.4,323.3 139.7,324.3 137.0,325.3 134.2,326.3 131.8,324.9 129.8,322.2 127.8,319.7 125.8,317.2 123.9,314.8 122.0,312.4 120.2,310.1 118.4,307.9 116.7,305.7 115.1,303.5 113.4,301.3 111.8,299.3 110.2,297.4 108.6,295.5 107.0,293.6 105.5,291.7 104.1,289.8 102.6,287.9 101.3,285.9 100.0,284.0 98.7,282.0 97.5,280.1 96.2,278.2 95.0,276.3 93.9,274.5 92.7,272.6 91.6,270.8 90.5,268.9 89.5,267.1 88.4,265.3 87.5,263.5 86.5,261.6 85.5,259.8 84.6,258.0 83.8,256.2 82.9,254.4 82.1,252.6 81.4,250.8 80.6,249.0 80.0,247.1 79.4,245.2 78.9,243.4 78.3,241.5 77.8,239.7 77.3,237.9 76.7,236.2 76.2,234.4 75.7,232.7 75.2,231.0 74.7,229.3 74.2,227.6 73.7,225.9 73.2,224.2 72.8,222.5 72.4,220.8 72.1,219.2 71.7,217.5 71.4,215.8 71.2,214.1 70.9,212.4 70.7,210.8 70.5,209.1 70.3,207.4 70.1,205.8 69.9,204.1 69.7,202.5 69.6,200.9 69.4,199.3 69.3,197.6 69.2,196.0 69.0,194.4 68.9,192.8 68.8,191.2 68.7,189.6 68.6,188.0 68.5,186.4 68.5,184.8 68.4,183.2 68.4,181.6" fill="#900000"/>
<polygon points="68.5,180.0 68.5,178.4 68.5,176.8 68.5,175.2 68.5,173.6 68.6,172.0 68.6,170.4 68.7,168.8 68.8,167.2 68.8,165.6 69.0,163.9 69.1,162.3 69.2,160.7 69.3,159.1 69.5,157.4 69.6,155.8 69.8,154.1 70.0,152.5 70.2,150.8 70.4,149.1 70.6,147.5 70.8,145.8 71.1,144.1 71.3,142.4 71.6,140.6 71.8,138.9 72.1,137.1 72.4,135.4 72.7,133.6 73.0,131.8 73.3,130.0 73.7,128.2 74.1,126.3 74.6,124.5 75.0,122.7 75.6,120.9 76.2,119.1 76.8,117.3 77.5,115.5 78.2,113.8 79.0,112.0 79.7,110.2 80.5,108.4 81.3,106.6 82.1,104.7 82.9,102.9 83.7,101.0 84.5,99.0 85.4,97.1 86.2,95.1 87.1,93.2 88.1,91.2 89.0,89.2 90.1,87.2 91.1,85.2 92.2,83.2 93.4,81.2 94.6,79.3 95.8,77.3 97.1,75.2 98.3,73.2 99.6,71.1 101.0,69.1 102.4,67.0 103.9,64.9 105.4,62.9 106.9,60.7 108.4,58.5 110.0,56.2 111.6,54.0 113.3,51.8 115.1,49.7 117.0,47.7 118.9,45.7 121.0,43.8 123.1,42.1 125.3,40.6 127.5,39.3 129.9,38.2 132.2,37.0 134.6,36.0 137.0,35.0 139.5,34.0 142.0,33.3 144.5,32.6 147.1,32.2 149.6,31.8 152.2,31.5 154.8,31.4 157.4,31.4 160.0,31.6 162.6,31.9 165.2,32.3 167.7,32.8 170.3,33.4 172.8,34.1 175.2,34.9 177.7,35.8 180.1,36.8 182.5,37.9 184.9,39.1 187.2,40.3 189.4,41.5 191.7,42.7 193.9,44.0 196.1,45.4 198.2,46.7 200.3,48.1 202.4,49.6 204.4,51.1 206.4,52.6 208.3,54.2 210.2,55.8 212.0,57.5 213.8,59.2 215.6,60.9 217.3,62.6 219.0,64.3 220.6,66.0 222.2,67.8 223.8,69.5 225.3,71.3 226.9,73.0 228.3,74.8 229.8,76.5 231.2,78.2 232.7,80.0 234.0,81.8 235.4,83.5 236.7,85.3 237.9,87.2 239.0,89.1 240.1,91.0 241.1,93.0 242.0,95.0 242.9,97.1 243.8,99.1 244.6,101.1 245.4,103.1 246.1,105.1 246.9,107.1 247.6,109.1 248.3,111.0 249.0,112.9 249.7,114.8 250.4,116.7 251.2,118.5 251.9,120.3 252.7,122.1 253.4,123.9 254.1,125.7 254.7,127.5 255.1,129.4 255.6,131.3 255.9,133.2 256.3,135.1 256.6,137.0 256.9,138.9 257.1,140.8 257.4,142.6 257.6,144.5 257.7,146.3 257.9,148.2 258.0,150.0 258.1,151.9 258.2,153.7 258.3,155.5 258.3,157.3 258.4,159.1 258.4,160.9 258.4,162.7 258.4,164.4 258.3,166.2 258.3,167.9 258.2,169.7 258.2,171.4 258.1,173.1 258.0,174.9 257.9,176.6 257.8,178.3 257.6,180.0 257.4,181.7 257.2,183.4 257.0,185.1 256.7,186.8 256.4,188.4 256.0,190.1 255.6,191.7 255.1,193.4 254.6,195.0 254.0,196.6 253.5,198.2 253.0,199.8 252.6,201.4 252.1,203.0 251.7,204.6 251.2,206.2 250.7,207.7 250.2,209.3 249.7,210.9 249.2,212.5 248.7,214.0 248.1,215.6 247.5,217.1 246.9,218.7 246.2,220.2 245.6,221.7 244.9,223.3 244.3,224.8 243.6,226.3 242.9,227.9 242.2,229.4 241.5,230.9 240.8,232.5 240.1,234.0 239.4,235.6 238.6,237.1 237.8,238.6 236.9,240.1 236.0,241.5 235.0,243.0 234.1,244.4 233.1,245.8 232.1,247.2 231.1,248.6 230.0,250.0 229.0,251.5 228.0,252.9 226.9,254.3 225.8,255.7 224.8,257.2 223.7,258.6 222.6,260.1 221.5,261.6 220.2,262.9 219.0,264.3 217.7,265.6 216.5,267.0 215.2,268.3 213.9,269.7 212.5,271.0 211.2,272.3 209.8,273.7 208.4,275.0 207.0,276.3 205.5,277.6 204.0,278.9 202.5,280.1 201.0,281.4 199.4,282.7 197.9,284.0 196.3,285.4 194.7,286.7 193.0,288.0 191.4,289.4 189.7,290.8 188.0,292.1 186.2,293.5 184.4,294.9 182.6,296.3 180.8,297.8 178.9,299.3 177.0,300.7 175.0,302.2 173.0,303.6 170.9,304.9 168.8,306.2 166.7,307.6 164.5,308.9 162.3,310.3 160.0,311.7 157.7,313.2 155.3,314.7 152.9,316.2 150.4,317.7 147.8,319.0 145.3,320.1 142.7,321.2 140.0,322.1 137.4,323.0 134.6,323.9 132.3,322.6 130.2,320.0 128.2,317.5 126.3,315.1 124.4,312.8 122.6,310.5 120.8,308.3 119.0,306.2 117.3,304.0 115.7,301.8 114.0,299.8 112.4,297.8 110.8,295.9 109.3,294.0 107.7,292.1 106.2,290.3 104.8,288.4 103.4,286.5 102.0,284.6 100.7,282.7 99.4,280.8 98.2,278.9 97.0,277.1 95.8,275.3 94.6,273.4 93.4,271.6 92.3,269.8 91.2,268.0 90.2,266.2 89.2,264.4 88.2,262.6 87.2,260.8 86.3,259.0 85.4,257.2 84.6,255.4 83.7,253.6 83.0,251.8 82.2,250.0 81.5,248.2 80.8,246.4 80.2,244.7 79.5,242.9 78.9,241.1 78.3,239.4 77.6,237.7 77.0,236.0 76.4,234.3 75.9,232.6 75.4,230.8 74.9,229.1 74.4,227.5 73.9,225.8 73.4,224.1 73.0,222.4 72.6,220.8 72.2,219.1 71.9,217.4 71.6,215.7 71.3,214.0 71.1,212.4 70.8,210.7 70.6,209.0 70.4,207.4 70.2,205.7 70.1,204.1 69.9,202.5 69.7,200.8 69.6,199.2 69.5,197.6 69.3,196.0 69.2,194.4 69.1,192.8 69.0,191.2 68.9,189.6 68.8,188.0 68.7,186.4 68.6,184.8 68.6,183.2 68.5,181.6" fill="#a50000"/>
<polygon points="68.7,180.0 68.6,178.4 68.6,176.8 68.7,175.2 68.7,173.6 68.7,172.0 68.8,170.4 68.8,168.8 68.9,167.2 69.0,165.6 69.1,164.0 69.2,162.4 69.3,160.7 69.5,159.1 69.6,157.5 69.8,155.8 70.0,154.2 70.1,152.5 70.3,150.9 70.5,149.2 70.8,147.5 71.0,145.8 71.2,144.1 71.5,142.4 71.7,140.7 72.0,139.0 72.3,137.2 72.5,135.4 72.8,133.7 73.2,131.9 73.5,130.1 73.9,128.2 74.3,126.4 74.7,124.6 75.2,122.8 75.7,121.0 76.3,119.2 77.0,117.4 77.7,115.7 78.4,113.9 79.1,112.1 79.9,110.3 80.6,108.5 81.4,106.7 82.2,104.9 83.0,103.0 83.8,101.1 84.6,99.2 85.5,97.3 86.4,95.3 87.3,93.3 88.2,91.3 89.2,89.3 90.2,87.4 91.2,85.4 92.4,83.4 93.5,81.4 94.7,79.4 95.9,77.5 97.2,75.4 98.4,73.4 99.8,71.3 101.1,69.3 102.5,67.2 104.0,65.2 105.5,63.1 107.0,60.9 108.5,58.7 110.1,56.5 111.7,54.2 113.4,52.1 115.2,50.0 117.1,47.9 119.0,46.0 121.0,44.1 123.1,42.4 125.3,40.9 127.6,39.6 129.9,38.4 132.3,37.3 134.7,36.3 137.1,35.2 139.5,34.3 142.0,33.6 144.5,32.9 147.1,32.4 149.7,32.1 152.2,31.8 154.8,31.7 157.4,31.7 160.0,31.9 162.6,32.2 165.1,32.6 167.7,33.1 170.2,33.7 172.7,34.4 175.2,35.2 177.7,36.1 180.1,37.1 182.5,38.2 184.8,39.3 187.1,40.5 189.4,41.7 191.6,43.0 193.8,44.3 196.0,45.6 198.1,47.0 200.2,48.4 202.3,49.8 204.3,51.3 206.3,52.9 208.2,54.4 210.1,56.0 211.9,57.7 213.7,59.4 215.5,61.1 217.2,62.8 218.9,64.5 220.5,66.2 222.1,67.9 223.7,69.7 225.2,71.4 226.8,73.2 228.2,74.9 229.7,76.7 231.1,78.4 232.6,80.1 233.9,81.9 235.3,83.7 236.5,85.5 237.8,87.3 238.9,89.2 240.0,91.2 241.0,93.1 241.9,95.2 242.8,97.2 243.6,99.2 244.5,101.2 245.3,103.2 246.0,105.2 246.8,107.2 247.5,109.1 248.2,111.1 248.9,113.0 249.6,114.9 250.3,116.8 251.1,118.6 251.8,120.4 252.6,122.1 253.3,123.9 254.0,125.7 254.5,127.6 255.0,129.5 255.4,131.4 255.8,133.3 256.2,135.2 256.5,137.0 256.8,138.9 257.0,140.8 257.2,142.7 257.4,144.5 257.6,146.4 257.8,148.2 257.9,150.1 258.0,151.9 258.1,153.7 258.2,155.5 258.2,157.3 258.2,159.1 258.3,160.9 258.3,162.7 258.2,164.4 258.2,166.2 258.2,167.9 258.1,169.7 258.1,171.4 258.0,173.1 257.9,174.9 257.8,176.6 257.7,178.3 257.5,180.0 257.3,181.7 257.1,183.4 256.9,185.1 256.6,186.8 256.3,188.4 255.9,190.1 255.5,191.7 255.0,193.3 254.5,195.0 253.9,196.6 253.4,198.2 252.9,199.8 252.5,201.3 252.0,202.9 251.6,204.5 251.1,206.1 250.6,207.7 250.1,209.3 249.6,210.9 249.1,212.4 248.6,214.0 248.0,215.5 247.4,217.1 246.8,218.6 246.1,220.2 245.5,221.7 244.8,223.2 244.2,224.7 243.5,226.3 242.8,227.8 242.1,229.3 241.4,230.9 240.7,232.4 240.0,234.0 239.2,235.5 238.5,237.0 237.7,238.5 236.8,240.0 235.9,241.4 234.9,242.9 234.0,244.3 232.9,245.7 231.8,247.0 230.7,248.3 229.7,249.7 228.6,251.0 227.5,252.3 226.4,253.7 225.2,255.1 224.1,256.4 223.0,257.8 221.9,259.2 220.7,260.5 219.5,261.9 218.3,263.3 217.1,264.7 215.9,266.0 214.6,267.4 213.3,268.8 212.0,270.1 210.7,271.5 209.3,272.8 208.0,274.1 206.5,275.4 205.1,276.7 203.6,278.0 202.2,279.3 200.6,280.6 199.1,281.9 197.6,283.2 196.0,284.5 194.4,285.8 192.8,287.2 191.1,288.5 189.4,289.9 187.7,291.2 186.0,292.6 184.2,294.0 182.4,295.4 180.6,296.8 178.7,298.2 176.8,299.7 174.9,301.1 172.9,302.4 170.8,303.7 168.7,305.0 166.6,306.3 164.5,307.6 162.3,308.9 160.0,310.3 157.7,311.7 155.4,313.1 152.9,314.6 150.5,315.9 148.0,317.2 145.5,318.3 142.9,319.2 140.3,320.0 137.7,320.9 135.0,321.7 132.7,320.4 130.7,317.9 128.7,315.6 126.8,313.2 124.9,311.0 123.1,308.8 121.3,306.7 119.5,304.5 117.8,302.4 116.2,300.3 114.6,298.3 113.0,296.3 111.4,294.5 109.9,292.6 108.3,290.8 106.9,289.0 105.4,287.1 104.0,285.3 102.7,283.4 101.4,281.6 100.1,279.7 98.8,277.9 97.6,276.1 96.4,274.3 95.2,272.5 94.1,270.7 93.0,268.9 91.9,267.2 90.9,265.4 89.9,263.6 88.9,261.8 87.9,260.0 87.0,258.3 86.1,256.5 85.3,254.7 84.5,253.0 83.7,251.2 82.9,249.4 82.2,247.6 81.6,245.8 80.9,244.1 80.3,242.3 79.6,240.6 79.0,238.8 78.4,237.1 77.8,235.4 77.2,233.8 76.6,232.1 76.1,230.4 75.5,228.8 74.9,227.1 74.4,225.5 73.9,223.9 73.4,222.2 73.0,220.6 72.5,218.9 72.2,217.3 71.8,215.6 71.5,214.0 71.2,212.3 71.0,210.6 70.8,209.0 70.6,207.3 70.4,205.7 70.2,204.1 70.1,202.4 69.9,200.8 69.8,199.2 69.6,197.6 69.5,196.0 69.4,194.4 69.2,192.8 69.1,191.2 69.0,189.6 68.9,188.0 68.9,186.4 68.8,184.8 68.7,183.2 68.7,181.6" fill="#b90000"/>
<polygon points="69.0,180.0 69.0,178.4 69.0,176.8 69.0,175.2 69.0,173.6 69.0,172.0 69.1,170.4 69.1,168.8 69.2,167.2 69.3,165.6 69.4,164.0 69.5,162.4 69.6,160.8 69.8,159.2 69.9,157.5 70.0,155.9 70.2,154.3 70.4,152.6 70.6,150.9 70.8,149.3 71.0,147.6 71.2,145.9 71.5,144.2 71.7,142.5 72.0,140.8 72.2,139.1 72.5,137.3 72.8,135.6 73.1,133.8 73.4,132.0 73.8,130.2 74.1,128.4 74.5,126.6 75.0,124.8 75.5,123.0 76.0,121.2 76.6,119.4 77.2,117.6 77.9,115.9 78.6,114.1 79.4,112.3 80.1,110.6 80.9,108.8 81.7,107.0 82.5,105.1 83.3,103.3 84.1,101.4 84.9,99.5 85.8,97.5 86.6,95.6 87.5,93.6 88.5,91.7 89.4,89.7 90.4,87.7 91.5,85.7 92.6,83.8 93.8,81.8 95.0,79.9 96.2,77.9 97.4,75.9 98.7,73.8 100.0,71.8 101.4,69.7 102.8,67.7 104.2,65.7 105.7,63.6 107.2,61.5 108.8,59.3 110.3,57.1 112.0,54.9 113.7,52.7 115.5,50.6 117.3,48.6 119.2,46.7 121.2,44.8 123.3,43.2 125.5,41.7 127.8,40.4 130.1,39.2 132.4,38.1 134.8,37.1 137.2,36.1 139.6,35.2 142.1,34.4 144.6,33.8 147.2,33.3 149.7,33.0 152.3,32.7 154.9,32.6 157.4,32.6 160.0,32.8 162.6,33.1 165.1,33.5 167.7,34.0 170.2,34.6 172.7,35.4 175.1,36.2 177.5,37.1 179.9,38.1 182.3,39.1 184.6,40.3 186.9,41.5 189.2,42.7 191.4,43.9 193.6,45.2 195.8,46.5 197.9,47.9 200.0,49.3 202.0,50.7 204.0,52.2 206.0,53.7 207.9,55.2 209.8,56.8 211.6,58.5 213.4,60.1 215.1,61.8 216.8,63.5 218.5,65.2 220.1,66.9 221.7,68.6 223.3,70.3 224.9,72.1 226.4,73.8 227.8,75.5 229.3,77.3 230.7,79.0 232.1,80.7 233.5,82.5 234.8,84.3 236.1,86.1 237.3,87.9 238.4,89.8 239.5,91.7 240.5,93.7 241.4,95.7 242.3,97.7 243.1,99.7 244.0,101.7 244.8,103.7 245.5,105.6 246.3,107.6 247.0,109.5 247.7,111.5 248.4,113.4 249.1,115.3 249.8,117.1 250.6,118.9 251.4,120.7 252.1,122.4 252.8,124.2 253.5,126.0 254.0,127.9 254.5,129.7 254.9,131.6 255.3,133.5 255.6,135.4 255.9,137.3 256.2,139.2 256.4,141.0 256.7,142.9 256.9,144.7 257.0,146.6 257.2,148.4 257.3,150.2 257.4,152.1 257.5,153.9 257.6,155.7 257.6,157.5 257.7,159.2 257.7,161.0 257.7,162.8 257.6,164.5 257.6,166.3 257.6,168.0 257.5,169.7 257.5,171.5 257.4,173.2 257.3,174.9 257.2,176.6 257.1,178.3 256.9,180.0 256.7,181.7 256.5,183.4 256.3,185.0 256.0,186.7 255.7,188.4 255.3,190.0 254.9,191.7 254.4,193.3 253.9,194.9 253.4,196.5 252.9,198.1 252.4,199.6 251.9,201.2 251.5,202.8 251.0,204.4 250.6,206.0 250.1,207.5 249.6,209.1 249.1,210.7 248.6,212.2 248.0,213.8 247.4,215.3 246.8,216.8 246.2,218.4 245.6,219.9 244.9,221.4 244.2,222.9 243.5,224.4 242.8,225.9 242.1,227.4 241.4,228.9 240.7,230.4 240.0,231.9 239.2,233.5 238.5,234.9 237.7,236.4 236.8,237.9 235.9,239.3 235.0,240.7 234.0,242.1 233.0,243.5 232.0,244.8 231.0,246.2 229.9,247.5 228.9,248.9 227.8,250.2 226.8,251.6 225.7,252.9 224.6,254.3 223.5,255.7 222.4,257.0 221.3,258.4 220.1,259.8 219.0,261.2 217.8,262.6 216.6,263.9 215.4,265.3 214.2,266.7 212.9,268.0 211.6,269.4 210.3,270.7 208.9,272.0 207.6,273.4 206.2,274.7 204.8,276.0 203.3,277.3 201.8,278.5 200.3,279.8 198.8,281.1 197.3,282.4 195.7,283.7 194.1,285.1 192.5,286.4 190.9,287.7 189.2,289.0 187.5,290.4 185.8,291.7 184.0,293.1 182.2,294.4 180.4,295.8 178.6,297.2 176.7,298.6 174.7,300.0 172.8,301.3 170.7,302.6 168.7,303.9 166.6,305.1 164.4,306.4 162.2,307.7 160.0,309.0 157.7,310.3 155.4,311.7 153.0,313.0 150.6,314.3 148.1,315.5 145.7,316.5 143.1,317.4 140.6,318.1 138.0,318.9 135.4,319.6 133.1,318.3 131.1,316.0 129.1,313.7 127.2,311.5 125.4,309.3 123.5,307.2 121.8,305.1 120.0,303.0 118.4,301.0 116.7,298.9 115.1,296.9 113.5,295.0 112.0,293.1 110.4,291.3 108.9,289.5 107.5,287.7 106.0,285.9 104.6,284.1 103.3,282.3 102.0,280.5 100.7,278.7 99.5,276.9 98.2,275.1 97.0,273.4 95.9,271.6 94.7,269.9 93.6,268.1 92.5,266.4 91.5,264.6 90.5,262.8 89.5,261.1 88.6,259.3 87.7,257.6 86.8,255.8 85.9,254.1 85.1,252.3 84.4,250.5 83.6,248.8 82.9,247.0 82.2,245.2 81.6,243.5 81.0,241.8 80.3,240.0 79.7,238.3 79.1,236.6 78.5,235.0 77.9,233.3 77.3,231.6 76.8,230.0 76.2,228.4 75.7,226.8 75.1,225.1 74.6,223.5 74.1,221.9 73.7,220.2 73.3,218.6 72.9,217.0 72.6,215.3 72.2,213.7 71.9,212.0 71.7,210.4 71.4,208.8 71.2,207.1 71.0,205.5 70.8,203.9 70.6,202.3 70.4,200.7 70.2,199.1 70.1,197.5 69.9,195.9 69.8,194.3 69.7,192.7 69.5,191.1 69.4,189.5 69.3,187.9 69.2,186.3 69.1,184.8 69.1,183.2 69.0,181.6" fill="#ce0000"/>
<polygon points="69.7,180.0 69.7,178.4 69.7,176.8 69.7,175.3 69.8,173.7 69.8,172.1 69.8,170.5 69.9,168.9 70.0,167.4 70.1,165.8 70.2,164.2 70.3,162.6 70.4,161.0 70.6,159.4 70.7,157.7 70.9,156.1 71.0,154.5 71.2,152.9 71.4,151.2 71.6,149.6 71.8,147.9 72.1,146.3 72.3,144.6 72.6,142.9 72.8,141.2 73.1,139.5 73.4,137.8 73.7,136.0 74.0,134.3 74.3,132.5 74.7,130.7 75.1,129.0 75.5,127.2 75.9,125.4 76.4,123.6 77.0,121.9 77.6,120.1 78.2,118.4 78.9,116.6 79.6,114.9 80.3,113.1 81.1,111.4 81.8,109.6 82.6,107.8 83.4,106.0 84.2,104.2 85.0,102.3 85.8,100.4 86.7,98.5 87.5,96.6 88.4,94.7 89.4,92.8 90.3,90.8 91.3,88.9 92.4,87.0 93.5,85.0 94.7,83.1 95.9,81.2 97.1,79.3 98.3,77.3 99.6,75.3 100.9,73.3 102.2,71.3 103.6,69.4 105.1,67.4 106.5,65.4 108.0,63.3 109.6,61.2 111.1,59.0 112.7,56.9 114.4,54.8 116.2,52.8 118.0,50.9 120.0,49.0 121.9,47.3 124.0,45.6 126.1,44.2 128.4,43.0 130.6,41.8 132.9,40.7 135.3,39.7 137.6,38.7 140.0,37.8 142.5,37.1 144.9,36.5 147.4,36.0 149.9,35.7 152.4,35.5 155.0,35.4 157.5,35.5 160.0,35.6 162.5,36.0 165.0,36.4 167.5,36.9 170.0,37.5 172.4,38.2 174.8,39.1 177.2,39.9 179.5,40.9 181.9,42.0 184.1,43.1 186.4,44.2 188.6,45.4 190.8,46.6 192.9,47.9 195.1,49.1 197.1,50.5 199.2,51.8 201.2,53.2 203.2,54.6 205.1,56.1 207.0,57.6 208.8,59.1 210.6,60.7 212.4,62.3 214.1,63.9 215.8,65.5 217.5,67.1 219.1,68.8 220.7,70.5 222.3,72.2 223.8,73.9 225.3,75.6 226.7,77.3 228.1,79.0 229.5,80.7 230.9,82.4 232.2,84.1 233.5,85.9 234.8,87.7 236.0,89.5 237.1,91.3 238.2,93.2 239.2,95.1 240.1,97.1 241.0,99.0 241.8,101.0 242.6,102.9 243.4,104.9 244.2,106.8 245.0,108.7 245.7,110.6 246.5,112.5 247.2,114.3 247.9,116.2 248.6,118.0 249.3,119.7 250.1,121.5 250.9,123.2 251.6,125.0 252.2,126.8 252.7,128.6 253.2,130.5 253.6,132.3 253.9,134.2 254.2,136.1 254.5,137.9 254.8,139.8 255.0,141.6 255.2,143.4 255.4,145.3 255.6,147.1 255.7,148.9 255.8,150.7 256.0,152.5 256.0,154.3 256.1,156.0 256.1,157.8 256.2,159.6 256.2,161.3 256.2,163.0 256.2,164.8 256.2,166.5 256.1,168.2 256.1,169.9 256.0,171.6 256.0,173.3 255.9,175.0 255.8,176.7 255.7,178.3 255.5,180.0 255.4,181.7 255.2,183.3 255.0,185.0 254.7,186.6 254.4,188.3 254.1,189.9 253.7,191.5 253.2,193.1 252.8,194.7 252.3,196.3 251.8,197.8 251.3,199.4 250.9,201.0 250.4,202.6 250.0,204.1 249.6,205.7 249.1,207.2 248.6,208.8 248.1,210.3 247.6,211.9 247.1,213.4 246.5,215.0 245.9,216.5 245.3,218.0 244.7,219.5 244.1,221.0 243.4,222.5 242.8,224.0 242.1,225.5 241.4,227.0 240.7,228.5 240.0,230.0 239.3,231.5 238.5,233.0 237.8,234.4 237.0,235.9 236.1,237.3 235.2,238.8 234.3,240.2 233.3,241.5 232.3,242.9 231.3,244.2 230.3,245.6 229.3,246.9 228.3,248.3 227.2,249.6 226.2,251.0 225.1,252.3 224.0,253.7 223.0,255.0 221.9,256.4 220.8,257.8 219.6,259.2 218.5,260.5 217.3,261.9 216.2,263.3 215.0,264.6 213.7,266.0 212.5,267.3 211.2,268.7 209.9,270.0 208.6,271.3 207.2,272.7 205.8,274.0 204.4,275.3 203.0,276.6 201.5,277.8 200.1,279.1 198.5,280.4 197.0,281.7 195.5,283.0 193.9,284.3 192.3,285.6 190.7,287.0 189.0,288.3 187.3,289.6 185.6,290.9 183.9,292.2 182.1,293.6 180.3,295.0 178.4,296.3 176.5,297.7 174.6,299.0 172.6,300.3 170.6,301.6 168.6,302.8 166.5,304.0 164.4,305.2 162.2,306.4 160.0,307.7 157.7,309.0 155.5,310.3 153.1,311.6 150.7,312.8 148.3,313.9 145.8,314.8 143.3,315.6 140.8,316.3 138.3,317.0 135.7,317.7 133.5,316.4 131.5,314.2 129.5,312.0 127.6,309.8 125.8,307.7 124.0,305.6 122.2,303.6 120.5,301.6 118.8,299.6 117.2,297.6 115.6,295.6 114.1,293.7 112.5,291.9 111.0,290.1 109.5,288.3 108.0,286.6 106.6,284.8 105.2,283.0 103.9,281.3 102.6,279.5 101.3,277.7 100.1,275.9 98.8,274.2 97.6,272.5 96.4,270.8 95.3,269.0 94.2,267.3 93.1,265.6 92.1,263.9 91.1,262.1 90.1,260.4 89.2,258.6 88.3,256.9 87.4,255.2 86.6,253.4 85.8,251.7 85.0,249.9 84.3,248.2 83.6,246.4 82.9,244.7 82.3,243.0 81.6,241.2 81.0,239.5 80.4,237.9 79.8,236.2 79.2,234.5 78.6,232.9 78.0,231.2 77.5,229.6 76.9,228.0 76.3,226.4 75.8,224.8 75.3,223.2 74.8,221.5 74.4,219.9 74.0,218.3 73.6,216.7 73.3,215.0 72.9,213.4 72.6,211.8 72.4,210.2 72.1,208.6 71.9,206.9 71.7,205.3 71.5,203.7 71.3,202.1 71.1,200.5 71.0,198.9 70.8,197.3 70.6,195.8 70.5,194.2 70.4,192.6 70.3,191.0 70.1,189.4 70.0,187.9 70.0,186.3 69.9,184.7 69.8,183.1 69.8,181.6" fill="#e30000"/>
<polygon points="70.5,180.0 70.5,178.4 70.5,176.9 70.5,175.3 70.5,173.7 70.5,172.2 70.6,170.6 70.7,169.0 70.7,167.5 70.8,165.9 70.9,164.3 71.0,162.7 71.2,161.1 71.3,159.5 71.5,157.9 71.6,156.3 71.8,154.7 72.0,153.1 72.2,151.5 72.4,149.8 72.6,148.2 72.8,146.5 73.1,144.9 73.3,143.2 73.6,141.5 73.9,139.8 74.2,138.1 74.5,136.4 74.8,134.7 75.1,132.9 75.5,131.2 75.9,129.4 76.3,127.7 76.7,125.9 77.2,124.2 77.8,122.4 78.4,120.7 79.0,119.0 79.7,117.2 80.4,115.5 81.1,113.8 81.8,112.1 82.6,110.3 83.4,108.5 84.1,106.7 84.9,104.9 85.7,103.1 86.6,101.2 87.4,99.4 88.3,97.5 89.2,95.6 90.1,93.7 91.1,91.8 92.1,89.9 93.1,88.0 94.2,86.1 95.4,84.2 96.6,82.3 97.8,80.4 99.0,78.5 100.3,76.5 101.6,74.6 102.9,72.6 104.3,70.7 105.7,68.7 107.2,66.7 108.7,64.7 110.2,62.6 111.7,60.5 113.3,58.4 115.0,56.4 116.8,54.5 118.6,52.6 120.5,50.8 122.4,49.0 124.5,47.5 126.6,46.1 128.8,44.8 131.0,43.7 133.3,42.6 135.6,41.6 137.9,40.6 140.3,39.7 142.7,39.0 145.1,38.4 147.6,38.0 150.0,37.6 152.5,37.4 155.0,37.4 157.5,37.4 160.0,37.6 162.5,37.9 164.9,38.4 167.4,38.9 169.8,39.5 172.2,40.2 174.6,41.0 177.0,41.9 179.3,42.9 181.6,43.9 183.8,45.0 186.0,46.1 188.2,47.2 190.4,48.4 192.5,49.6 194.6,50.9 196.7,52.2 198.7,53.5 200.7,54.9 202.6,56.2 204.5,57.7 206.4,59.1 208.2,60.6 210.0,62.1 211.8,63.7 213.5,65.3 215.2,66.8 216.8,68.4 218.5,70.1 220.0,71.7 221.6,73.4 223.1,75.0 224.5,76.7 226.0,78.4 227.4,80.1 228.8,81.8 230.1,83.5 231.5,85.2 232.7,86.9 234.0,88.7 235.1,90.5 236.3,92.3 237.3,94.1 238.3,96.0 239.2,98.0 240.1,99.9 241.0,101.8 241.8,103.7 242.6,105.6 243.4,107.5 244.2,109.4 244.9,111.2 245.7,113.1 246.4,114.9 247.1,116.7 247.8,118.5 248.6,120.3 249.3,122.0 250.1,123.7 250.8,125.5 251.4,127.2 251.9,129.1 252.4,130.9 252.7,132.7 253.1,134.6 253.4,136.4 253.7,138.3 253.9,140.1 254.2,142.0 254.4,143.8 254.5,145.6 254.7,147.4 254.8,149.2 254.9,151.0 255.0,152.7 255.1,154.5 255.2,156.3 255.2,158.0 255.3,159.7 255.3,161.5 255.3,163.2 255.3,164.9 255.3,166.6 255.2,168.3 255.2,170.0 255.1,171.7 255.1,173.4 255.0,175.0 254.9,176.7 254.8,178.3 254.6,180.0 254.5,181.6 254.3,183.3 254.1,184.9 253.9,186.6 253.6,188.2 253.3,189.8 252.9,191.4 252.4,193.0 252.0,194.6 251.5,196.1 251.1,197.7 250.6,199.3 250.2,200.8 249.7,202.4 249.3,203.9 248.9,205.5 248.4,207.0 247.9,208.6 247.5,210.1 246.9,211.6 246.4,213.2 245.9,214.7 245.3,216.2 244.7,217.7 244.1,219.2 243.5,220.7 242.8,222.2 242.2,223.7 241.5,225.2 240.8,226.7 240.1,228.1 239.4,229.6 238.7,231.1 237.9,232.6 237.2,234.0 236.3,235.5 235.5,236.9 234.6,238.3 233.7,239.7 232.7,241.0 231.8,242.4 230.8,243.7 229.8,245.0 228.7,246.4 227.7,247.7 226.7,249.1 225.7,250.4 224.6,251.8 223.5,253.1 222.5,254.5 221.4,255.8 220.3,257.2 219.2,258.6 218.1,259.9 216.9,261.3 215.7,262.6 214.6,264.0 213.3,265.4 212.1,266.7 210.8,268.0 209.5,269.4 208.2,270.7 206.9,272.0 205.5,273.3 204.1,274.6 202.7,275.9 201.3,277.2 199.8,278.5 198.3,279.8 196.8,281.0 195.2,282.3 193.7,283.6 192.1,284.9 190.5,286.2 188.8,287.5 187.1,288.8 185.4,290.1 183.7,291.5 181.9,292.8 180.1,294.1 178.3,295.5 176.4,296.8 174.5,298.1 172.5,299.4 170.5,300.6 168.5,301.7 166.4,302.9 164.3,304.1 162.2,305.3 160.0,306.5 157.8,307.7 155.5,309.0 153.2,310.2 150.8,311.3 148.4,312.3 146.0,313.2 143.6,314.0 141.1,314.6 138.6,315.2 136.1,315.8 133.8,314.6 131.9,312.4 129.9,310.3 128.0,308.2 126.2,306.2 124.4,304.2 122.6,302.2 120.9,300.2 119.3,298.3 117.7,296.3 116.1,294.4 114.5,292.5 113.0,290.7 111.5,288.9 110.0,287.2 108.6,285.4 107.2,283.7 105.8,282.0 104.4,280.2 103.1,278.5 101.9,276.8 100.6,275.0 99.4,273.3 98.2,271.6 97.0,270.0 95.9,268.3 94.8,266.6 93.7,264.9 92.7,263.1 91.7,261.4 90.7,259.7 89.8,258.0 88.9,256.3 88.0,254.5 87.2,252.8 86.4,251.1 85.6,249.4 84.9,247.6 84.2,245.9 83.5,244.2 82.9,242.4 82.3,240.7 81.6,239.1 81.0,237.4 80.4,235.7 79.8,234.1 79.3,232.4 78.7,230.8 78.1,229.2 77.6,227.6 77.0,226.0 76.5,224.4 76.0,222.8 75.5,221.2 75.1,219.6 74.7,218.0 74.3,216.4 73.9,214.8 73.6,213.2 73.3,211.5 73.1,209.9 72.8,208.3 72.6,206.7 72.4,205.1 72.2,203.5 72.0,201.9 71.8,200.4 71.6,198.8 71.5,197.2 71.3,195.6 71.2,194.1 71.1,192.5 71.0,190.9 70.9,189.4 70.8,187.8 70.7,186.2 70.6,184.7 70.5,183.1 70.5,181.6" fill="#f70000"/>
<polygon points="71.2,180.0 71.2,178.4 71.2,176.9 71.2,175.3 71.2,173.8 71.3,172.2 71.3,170.7 71.4,169.1 71.5,167.6 71.6,166.0 71.7,164.4 71.8,162.9 71.9,161.3 72.0,159.7 72.2,158.1 72.3,156.5 72.5,154.9 72.7,153.3 72.9,151.7 73.1,150.1 73.3,148.5 73.6,146.8 73.8,145.2 74.1,143.5 74.3,141.9 74.6,140.2 74.9,138.5 75.2,136.8 75.5,135.1 75.9,133.4 76.2,131.6 76.6,129.9 77.1,128.2 77.5,126.4 78.0,124.7 78.6,123.0 79.1,121.3 79.8,119.5 80.4,117.8 81.1,116.1 81.8,114.4 82.6,112.7 83.3,111.0 84.1,109.2 84.8,107.4 85.6,105.6 86.4,103.8 87.3,102.0 88.1,100.1 89.0,98.3 89.9,96.4 90.8,94.5 91.7,92.6 92.7,90.7 93.8,88.9 94.9,87.0 96.0,85.2 97.2,83.3 98.4,81.4 99.6,79.5 100.9,77.6 102.2,75.7 103.5,73.7 104.9,71.8 106.3,69.9 107.7,67.9 109.2,65.9 110.7,63.9 112.3,61.8 113.9,59.8 115.5,57.8 117.3,55.9 119.1,54.1 121.0,52.3 122.9,50.6 124.9,49.1 127.0,47.7 129.2,46.4 131.4,45.3 133.6,44.3 135.9,43.2 138.2,42.3 140.5,41.4 142.9,40.7 145.3,40.1 147.7,39.6 150.2,39.3 152.6,39.1 155.1,39.1 157.5,39.1 160.0,39.3 162.4,39.7 164.9,40.1 167.3,40.6 169.7,41.2 172.1,41.9 174.4,42.7 176.8,43.6 179.0,44.5 181.3,45.5 183.5,46.6 185.7,47.7 187.9,48.8 190.0,50.0 192.1,51.2 194.2,52.4 196.2,53.6 198.2,54.9 200.2,56.3 202.1,57.6 204.0,59.0 205.9,60.4 207.7,61.9 209.5,63.4 211.3,64.9 213.0,66.4 214.7,67.9 216.3,69.5 217.9,71.1 219.5,72.7 221.0,74.3 222.5,76.0 224.0,77.7 225.4,79.3 226.8,81.0 228.2,82.7 229.5,84.4 230.8,86.1 232.1,87.8 233.3,89.5 234.4,91.3 235.6,93.1 236.6,94.9 237.6,96.8 238.5,98.7 239.4,100.6 240.3,102.5 241.1,104.4 241.9,106.2 242.7,108.1 243.5,109.9 244.3,111.8 245.0,113.6 245.7,115.4 246.5,117.2 247.2,118.9 248.0,120.7 248.7,122.4 249.4,124.1 250.1,125.9 250.7,127.6 251.2,129.4 251.7,131.3 252.1,133.1 252.4,134.9 252.7,136.8 253.0,138.6 253.2,140.4 253.4,142.2 253.6,144.1 253.8,145.9 254.0,147.6 254.1,149.4 254.2,151.2 254.3,153.0 254.4,154.7 254.5,156.4 254.5,158.2 254.5,159.9 254.6,161.6 254.6,163.3 254.5,165.0 254.5,166.7 254.5,168.4 254.5,170.1 254.4,171.7 254.3,173.4 254.3,175.1 254.2,176.7 254.1,178.4 253.9,180.0 253.8,181.6 253.6,183.3 253.4,184.9 253.2,186.5 252.9,188.1 252.6,189.7 252.2,191.3 251.8,192.9 251.4,194.5 250.9,196.0 250.5,197.6 250.0,199.1 249.6,200.7 249.1,202.2 248.7,203.8 248.3,205.3 247.8,206.9 247.4,208.4 246.9,209.9 246.4,211.4 245.8,213.0 245.3,214.5 244.7,216.0 244.2,217.5 243.6,219.0 242.9,220.4 242.3,221.9 241.6,223.4 241.0,224.9 240.3,226.4 239.6,227.8 238.9,229.3 238.1,230.7 237.4,232.2 236.6,233.6 235.8,235.1 235.0,236.5 234.1,237.9 233.1,239.2 232.2,240.6 231.2,241.9 230.2,243.2 229.2,244.6 228.2,245.9 227.2,247.2 226.2,248.5 225.2,249.9 224.1,251.2 223.1,252.6 222.0,253.9 221.0,255.3 219.9,256.6 218.8,258.0 217.7,259.3 216.5,260.7 215.4,262.1 214.2,263.4 213.0,264.8 211.7,266.1 210.5,267.4 209.2,268.8 207.9,270.1 206.6,271.4 205.2,272.7 203.8,274.0 202.4,275.3 201.0,276.6 199.5,277.8 198.0,279.1 196.5,280.4 195.0,281.7 193.5,283.0 191.9,284.3 190.3,285.6 188.6,286.8 187.0,288.1 185.3,289.4 183.5,290.7 181.8,292.0 180.0,293.3 178.2,294.6 176.3,295.9 174.4,297.2 172.4,298.4 170.5,299.6 168.4,300.8 166.4,301.9 164.3,303.1 162.2,304.2 160.0,305.4 157.8,306.5 155.5,307.7 153.2,308.9 150.9,309.9 148.5,310.9 146.2,311.7 143.7,312.4 141.3,313.0 138.9,313.5 136.4,314.0 134.2,312.8 132.2,310.8 130.3,308.7 128.4,306.7 126.6,304.7 124.8,302.8 123.1,300.9 121.4,298.9 119.7,297.0 118.1,295.1 116.6,293.2 115.0,291.3 113.5,289.6 112.0,287.8 110.5,286.1 109.1,284.4 107.7,282.7 106.3,281.0 105.0,279.3 103.7,277.5 102.4,275.8 101.2,274.2 99.9,272.5 98.7,270.8 97.6,269.2 96.4,267.5 95.3,265.8 94.2,264.2 93.2,262.5 92.2,260.8 91.3,259.1 90.4,257.3 89.5,255.6 88.6,253.9 87.8,252.2 87.0,250.5 86.2,248.8 85.5,247.1 84.8,245.3 84.2,243.6 83.5,241.9 82.9,240.3 82.3,238.6 81.6,236.9 81.1,235.3 80.5,233.6 79.9,232.0 79.3,230.4 78.8,228.8 78.2,227.2 77.7,225.6 77.1,224.1 76.6,222.5 76.2,220.9 75.7,219.3 75.3,217.7 75.0,216.1 74.6,214.5 74.3,212.9 74.0,211.3 73.7,209.7 73.5,208.1 73.3,206.5 73.0,204.9 72.8,203.4 72.7,201.8 72.5,200.2 72.3,198.6 72.2,197.1 72.0,195.5 71.9,194.0 71.8,192.4 71.7,190.8 71.5,189.3 71.5,187.7 71.4,186.2 71.3,184.6 71.3,183.1 71.2,181.5" fill="#ff0d00"/>
<polygon points="71.9,180.0 71.9,178.5 71.9,176.9 71.9,175.4 71.9,173.8 72.0,172.3 72.0,170.8 72.1,169.2 72.2,167.7 72.3,166.1 72.4,164.5 72.5,163.0 72.6,161.4 72.8,159.9 72.9,158.3 73.1,156.7 73.2,155.1 73.4,153.5 73.6,151.9 73.8,150.3 74.0,148.7 74.3,147.1 74.5,145.5 74.8,143.8 75.1,142.2 75.3,140.5 75.6,138.8 75.9,137.2 76.3,135.5 76.6,133.8 77.0,132.1 77.4,130.4 77.8,128.6 78.3,126.9 78.8,125.2 79.3,123.5 79.9,121.8 80.5,120.1 81.2,118.4 81.9,116.7 82.6,115.0 83.3,113.3 84.0,111.6 84.8,109.8 85.5,108.1 86.3,106.3 87.1,104.5 87.9,102.7 88.7,100.9 89.6,99.0 90.5,97.2 91.4,95.3 92.4,93.4 93.4,91.6 94.4,89.7 95.5,87.9 96.6,86.1 97.8,84.2 99.0,82.4 100.2,80.5 101.5,78.6 102.7,76.7 104.1,74.8 105.4,72.9 106.8,71.0 108.3,69.1 109.7,67.1 111.2,65.1 112.8,63.1 114.4,61.1 116.0,59.1 117.7,57.3 119.5,55.5 121.4,53.7 123.3,52.0 125.3,50.5 127.4,49.2 129.5,47.9 131.7,46.8 133.9,45.7 136.1,44.7 138.4,43.8 140.7,42.9 143.1,42.2 145.5,41.6 147.9,41.1 150.3,40.8 152.7,40.6 155.1,40.6 157.6,40.7 160.0,40.9 162.4,41.2 164.8,41.6 167.2,42.1 169.6,42.8 171.9,43.5 174.3,44.2 176.6,45.1 178.8,46.0 181.1,47.0 183.3,48.0 185.4,49.1 187.6,50.2 189.7,51.3 191.8,52.5 193.8,53.7 195.9,54.9 197.8,56.2 199.8,57.5 201.7,58.8 203.6,60.2 205.5,61.6 207.3,63.0 209.0,64.5 210.8,65.9 212.5,67.4 214.2,68.9 215.8,70.5 217.4,72.0 219.0,73.6 220.5,75.2 222.0,76.9 223.4,78.5 224.8,80.1 226.2,81.8 227.6,83.5 228.9,85.1 230.2,86.8 231.5,88.5 232.7,90.2 233.8,92.0 234.9,93.8 236.0,95.6 237.0,97.5 237.9,99.3 238.8,101.2 239.6,103.1 240.5,104.9 241.3,106.8 242.1,108.6 242.9,110.4 243.7,112.2 244.4,114.0 245.2,115.8 245.9,117.6 246.7,119.3 247.4,121.0 248.2,122.8 248.9,124.5 249.6,126.2 250.1,128.0 250.7,129.7 251.1,131.6 251.5,133.4 251.8,135.2 252.1,137.0 252.4,138.9 252.6,140.7 252.8,142.5 253.0,144.3 253.2,146.1 253.3,147.9 253.5,149.6 253.6,151.4 253.7,153.1 253.7,154.9 253.8,156.6 253.9,158.3 253.9,160.0 253.9,161.7 253.9,163.4 253.9,165.1 253.9,166.8 253.9,168.5 253.8,170.1 253.8,171.8 253.7,173.4 253.6,175.1 253.5,176.7 253.4,178.4 253.3,180.0 253.2,181.6 253.0,183.2 252.8,184.9 252.6,186.5 252.3,188.1 252.0,189.7 251.6,191.2 251.2,192.8 250.8,194.4 250.3,195.9 249.9,197.5 249.5,199.0 249.0,200.6 248.6,202.1 248.2,203.6 247.7,205.2 247.3,206.7 246.8,208.2 246.4,209.7 245.9,211.2 245.3,212.8 244.8,214.3 244.2,215.8 243.7,217.2 243.1,218.7 242.4,220.2 241.8,221.7 241.2,223.2 240.5,224.6 239.8,226.1 239.1,227.5 238.4,229.0 237.7,230.4 236.9,231.9 236.1,233.3 235.3,234.7 234.5,236.1 233.6,237.5 232.6,238.8 231.7,240.2 230.7,241.5 229.7,242.8 228.7,244.1 227.7,245.4 226.7,246.7 225.7,248.1 224.7,249.4 223.7,250.7 222.6,252.1 221.6,253.4 220.5,254.7 219.5,256.1 218.4,257.5 217.3,258.8 216.1,260.2 215.0,261.5 213.8,262.8 212.6,264.2 211.4,265.5 210.1,266.8 208.9,268.2 207.6,269.5 206.3,270.8 204.9,272.1 203.5,273.4 202.1,274.7 200.7,275.9 199.3,277.2 197.8,278.5 196.3,279.8 194.8,281.1 193.3,282.3 191.7,283.6 190.1,284.9 188.4,286.2 186.8,287.4 185.1,288.7 183.4,290.0 181.6,291.2 179.8,292.5 178.0,293.8 176.2,295.1 174.3,296.4 172.4,297.5 170.4,298.7 168.4,299.8 166.3,300.9 164.3,302.0 162.1,303.2 160.0,304.3 157.8,305.4 155.6,306.5 153.3,307.6 151.0,308.6 148.7,309.5 146.3,310.3 143.9,310.9 141.5,311.4 139.1,311.9 136.7,312.3 134.5,311.2 132.5,309.2 130.6,307.2 128.8,305.2 127.0,303.3 125.2,301.4 123.4,299.6 121.8,297.7 120.1,295.8 118.5,293.9 117.0,292.0 115.5,290.2 114.0,288.5 112.5,286.7 111.0,285.0 109.6,283.3 108.2,281.7 106.8,280.0 105.5,278.3 104.2,276.6 102.9,275.0 101.7,273.3 100.5,271.7 99.3,270.1 98.1,268.4 96.9,266.8 95.8,265.1 94.8,263.5 93.8,261.8 92.8,260.1 91.8,258.4 90.9,256.7 90.0,255.0 89.2,253.3 88.4,251.6 87.6,249.9 86.8,248.2 86.1,246.5 85.4,244.8 84.8,243.1 84.1,241.4 83.5,239.8 82.9,238.1 82.3,236.5 81.7,234.8 81.1,233.2 80.5,231.6 80.0,230.0 79.4,228.4 78.9,226.9 78.3,225.3 77.8,223.7 77.3,222.1 76.8,220.6 76.4,219.0 76.0,217.4 75.6,215.8 75.3,214.2 75.0,212.6 74.7,211.1 74.4,209.5 74.2,207.9 73.9,206.3 73.7,204.7 73.5,203.2 73.3,201.6 73.2,200.0 73.0,198.5 72.8,196.9 72.7,195.4 72.6,193.8 72.4,192.3 72.3,190.8 72.2,189.2 72.1,187.7 72.1,186.1 72.0,184.6 72.0,183.1 71.9,181.5" fill="#ff2100"/>
<polygon points="72.6,180.0 72.6,178.5 72.6,176.9 72.6,175.4 72.6,173.9 72.7,172.4 72.7,170.8 72.8,169.3 72.9,167.8 73.0,166.2 73.1,164.7 73.2,163.1 73.3,161.6 73.5,160.0 73.6,158.5 73.8,156.9 73.9,155.3 74.1,153.7 74.3,152.2 74.5,150.6 74.7,149.0 75.0,147.4 75.2,145.7 75.5,144.1 75.8,142.5 76.0,140.8 76.3,139.2 76.6,137.5 77.0,135.9 77.3,134.2 77.7,132.5 78.1,130.8 78.5,129.1 79.0,127.4 79.5,125.7 80.0,124.0 80.6,122.3 81.2,120.6 81.9,119.0 82.5,117.3 83.2,115.6 84.0,113.9 84.7,112.2 85.4,110.5 86.2,108.7 86.9,106.9 87.7,105.2 88.5,103.4 89.4,101.6 90.2,99.7 91.1,97.9 92.0,96.1 93.0,94.2 94.0,92.4 95.0,90.5 96.1,88.7 97.2,86.9 98.4,85.1 99.6,83.3 100.8,81.4 102.0,79.5 103.3,77.7 104.6,75.8 105.9,73.9 107.3,72.0 108.8,70.1 110.2,68.2 111.7,66.2 113.2,64.2 114.8,62.3 116.5,60.4 118.2,58.5 120.0,56.7 121.8,55.0 123.7,53.4 125.7,51.9 127.7,50.5 129.8,49.3 132.0,48.2 134.2,47.1 136.4,46.1 138.6,45.2 140.9,44.3 143.3,43.6 145.6,43.0 148.0,42.6 150.4,42.2 152.8,42.1 155.2,42.0 157.6,42.1 160.0,42.3 162.4,42.6 164.8,43.1 167.1,43.6 169.5,44.2 171.8,44.9 174.1,45.6 176.4,46.5 178.6,47.4 180.9,48.3 183.0,49.4 185.2,50.4 187.3,51.5 189.4,52.6 191.5,53.8 193.5,54.9 195.5,56.1 197.5,57.4 199.4,58.6 201.3,59.9 203.2,61.3 205.1,62.6 206.9,64.0 208.6,65.4 210.4,66.9 212.1,68.3 213.7,69.8 215.4,71.3 217.0,72.9 218.5,74.4 220.0,76.0 221.5,77.6 222.9,79.3 224.4,80.9 225.7,82.5 227.1,84.2 228.4,85.8 229.7,87.5 230.9,89.2 232.1,90.9 233.3,92.7 234.4,94.4 235.4,96.2 236.4,98.1 237.3,99.9 238.2,101.8 239.1,103.6 239.9,105.5 240.8,107.3 241.6,109.1 242.4,110.9 243.2,112.7 243.9,114.4 244.7,116.2 245.4,117.9 246.2,119.7 246.9,121.4 247.7,123.1 248.4,124.8 249.0,126.5 249.6,128.3 250.1,130.0 250.6,131.8 250.9,133.7 251.3,135.5 251.6,137.3 251.8,139.1 252.1,140.9 252.3,142.7 252.4,144.5 252.6,146.3 252.8,148.1 252.9,149.8 253.0,151.6 253.1,153.3 253.2,155.0 253.2,156.8 253.3,158.5 253.3,160.2 253.3,161.9 253.3,163.5 253.3,165.2 253.3,166.9 253.3,168.5 253.2,170.2 253.2,171.8 253.1,173.5 253.1,175.1 253.0,176.8 252.9,178.4 252.7,180.0 252.6,181.6 252.4,183.2 252.2,184.8 252.0,186.4 251.7,188.0 251.4,189.6 251.1,191.2 250.7,192.7 250.3,194.3 249.8,195.8 249.4,197.4 249.0,198.9 248.5,200.4 248.1,202.0 247.7,203.5 247.3,205.0 246.8,206.5 246.4,208.1 245.9,209.6 245.4,211.1 244.9,212.6 244.3,214.1 243.8,215.6 243.2,217.0 242.6,218.5 242.0,220.0 241.4,221.5 240.7,222.9 240.0,224.4 239.4,225.8 238.7,227.3 237.9,228.7 237.2,230.1 236.4,231.6 235.7,233.0 234.8,234.4 234.0,235.7 233.1,237.1 232.2,238.4 231.2,239.8 230.2,241.1 229.3,242.4 228.3,243.7 227.3,245.0 226.3,246.3 225.3,247.6 224.3,248.9 223.2,250.2 222.2,251.6 221.2,252.9 220.1,254.2 219.1,255.6 218.0,256.9 216.9,258.3 215.8,259.6 214.6,261.0 213.4,262.3 212.3,263.6 211.0,265.0 209.8,266.3 208.6,267.6 207.3,268.9 206.0,270.2 204.6,271.5 203.3,272.8 201.9,274.1 200.5,275.4 199.0,276.6 197.6,277.9 196.1,279.2 194.6,280.5 193.1,281.7 191.5,283.0 189.9,284.3 188.3,285.5 186.6,286.8 184.9,288.0 183.2,289.3 181.5,290.5 179.7,291.8 177.9,293.0 176.1,294.3 174.2,295.5 172.3,296.7 170.3,297.8 168.3,298.9 166.3,300.0 164.2,301.1 162.1,302.1 160.0,303.2 157.8,304.3 155.6,305.3 153.4,306.4 151.1,307.3 148.8,308.2 146.5,308.9 144.1,309.4 141.7,309.9 139.4,310.3 137.0,310.7 134.8,309.5 132.9,307.6 131.0,305.7 129.1,303.8 127.3,302.0 125.6,300.1 123.8,298.3 122.2,296.5 120.5,294.6 119.0,292.8 117.4,290.9 115.9,289.1 114.4,287.4 112.9,285.7 111.5,284.0 110.1,282.3 108.7,280.7 107.3,279.0 106.0,277.4 104.7,275.8 103.4,274.1 102.2,272.5 101.0,270.9 99.8,269.3 98.6,267.7 97.5,266.1 96.4,264.5 95.3,262.8 94.3,261.1 93.3,259.5 92.4,257.8 91.5,256.1 90.6,254.4 89.7,252.8 88.9,251.1 88.1,249.4 87.4,247.7 86.7,246.0 86.0,244.3 85.4,242.6 84.7,241.0 84.1,239.3 83.5,237.7 82.9,236.0 82.3,234.4 81.7,232.8 81.1,231.2 80.6,229.6 80.0,228.1 79.5,226.5 79.0,224.9 78.4,223.4 77.9,221.8 77.5,220.2 77.1,218.7 76.7,217.1 76.3,215.5 75.9,214.0 75.6,212.4 75.3,210.8 75.1,209.2 74.8,207.7 74.6,206.1 74.4,204.6 74.2,203.0 74.0,201.4 73.8,199.9 73.7,198.4 73.5,196.8 73.4,195.3 73.2,193.7 73.1,192.2 73.0,190.7 72.9,189.2 72.8,187.6 72.8,186.1 72.7,184.6 72.6,183.1 72.6,181.5" fill="#ff3600"/>
<polygon points="73.3,180.0 73.3,178.5 73.3,177.0 73.3,175.5 73.3,173.9 73.4,172.4 73.4,170.9 73.5,169.4 73.6,167.9 73.7,166.3 73.8,164.8 73.9,163.3 74.0,161.7 74.2,160.2 74.3,158.6 74.5,157.1 74.6,155.5 74.8,154.0 75.0,152.4 75.2,150.8 75.4,149.2 75.7,147.6 75.9,146.0 76.2,144.4 76.4,142.8 76.7,141.2 77.0,139.5 77.3,137.9 77.7,136.2 78.0,134.6 78.4,132.9 78.8,131.2 79.2,129.5 79.7,127.8 80.2,126.2 80.7,124.5 81.3,122.8 81.9,121.2 82.6,119.5 83.2,117.8 83.9,116.2 84.6,114.5 85.3,112.8 86.1,111.1 86.8,109.3 87.6,107.6 88.3,105.8 89.1,104.0 90.0,102.2 90.8,100.4 91.7,98.6 92.6,96.8 93.6,95.0 94.5,93.1 95.6,91.3 96.7,89.5 97.8,87.7 98.9,86.0 100.1,84.1 101.3,82.3 102.5,80.5 103.8,78.6 105.1,76.7 106.4,74.9 107.8,73.0 109.2,71.1 110.7,69.2 112.2,67.3 113.7,65.3 115.2,63.4 116.9,61.5 118.6,59.7 120.4,58.0 122.2,56.3 124.1,54.7 126.0,53.2 128.1,51.9 130.1,50.7 132.3,49.5 134.4,48.5 136.6,47.5 138.9,46.5 141.1,45.7 143.4,44.9 145.7,44.3 148.1,43.9 150.5,43.6 152.8,43.4 155.2,43.4 157.6,43.4 160.0,43.7 162.4,44.0 164.7,44.4 167.1,44.9 169.4,45.5 171.7,46.2 174.0,46.9 176.2,47.8 178.5,48.7 180.7,49.6 182.8,50.6 185.0,51.6 187.1,52.7 189.1,53.8 191.2,54.9 193.2,56.1 195.2,57.3 197.2,58.5 199.1,59.7 201.0,61.0 202.8,62.3 204.7,63.6 206.5,65.0 208.2,66.4 210.0,67.8 211.7,69.2 213.3,70.7 214.9,72.2 216.5,73.7 218.1,75.2 219.6,76.8 221.1,78.4 222.5,80.0 223.9,81.6 225.3,83.2 226.6,84.9 227.9,86.5 229.2,88.2 230.4,89.9 231.6,91.6 232.8,93.3 233.9,95.0 234.9,96.8 235.9,98.6 236.8,100.5 237.7,102.3 238.6,104.1 239.4,105.9 240.3,107.7 241.1,109.5 241.9,111.3 242.7,113.1 243.4,114.8 244.2,116.6 244.9,118.3 245.7,120.0 246.4,121.7 247.2,123.4 247.9,125.1 248.6,126.8 249.1,128.5 249.7,130.3 250.1,132.1 250.5,133.9 250.8,135.7 251.1,137.5 251.3,139.3 251.5,141.1 251.7,142.9 251.9,144.7 252.1,146.5 252.2,148.2 252.4,150.0 252.5,151.7 252.6,153.5 252.6,155.2 252.7,156.9 252.7,158.6 252.8,160.3 252.8,162.0 252.8,163.6 252.8,165.3 252.8,167.0 252.7,168.6 252.7,170.3 252.7,171.9 252.6,173.5 252.5,175.2 252.4,176.8 252.3,178.4 252.2,180.0 252.1,181.6 251.9,183.2 251.7,184.8 251.5,186.4 251.2,188.0 250.9,189.6 250.6,191.1 250.2,192.7 249.8,194.2 249.4,195.8 248.9,197.3 248.5,198.8 248.1,200.3 247.7,201.9 247.2,203.4 246.8,204.9 246.4,206.4 245.9,207.9 245.4,209.4 244.9,210.9 244.4,212.4 243.9,213.9 243.3,215.4 242.8,216.8 242.2,218.3 241.6,219.8 240.9,221.2 240.3,222.7 239.6,224.1 238.9,225.6 238.2,227.0 237.5,228.4 236.8,229.9 236.0,231.3 235.2,232.7 234.4,234.0 233.5,235.4 232.6,236.7 231.7,238.1 230.8,239.4 229.8,240.7 228.8,242.0 227.8,243.3 226.8,244.5 225.9,245.9 224.9,247.2 223.8,248.5 222.8,249.8 221.8,251.1 220.8,252.4 219.7,253.8 218.7,255.1 217.6,256.4 216.5,257.8 215.4,259.1 214.3,260.4 213.1,261.8 211.9,263.1 210.7,264.4 209.5,265.7 208.2,267.0 207.0,268.3 205.7,269.7 204.4,270.9 203.0,272.2 201.6,273.5 200.2,274.8 198.8,276.1 197.4,277.3 195.9,278.6 194.4,279.9 192.9,281.1 191.3,282.4 189.7,283.6 188.1,284.9 186.5,286.1 184.8,287.4 183.1,288.6 181.3,289.8 179.6,291.1 177.8,292.3 176.0,293.5 174.1,294.7 172.2,295.9 170.2,297.0 168.3,298.0 166.2,299.1 164.2,300.1 162.1,301.2 160.0,302.2 157.8,303.2 155.7,304.2 153.4,305.2 151.2,306.1 148.9,306.9 146.6,307.5 144.3,308.0 142.0,308.4 139.6,308.8 137.2,309.1 135.1,308.0 133.2,306.1 131.3,304.3 129.5,302.5 127.7,300.7 125.9,298.9 124.2,297.1 122.5,295.3 120.9,293.5 119.4,291.7 117.8,289.9 116.3,288.1 114.8,286.4 113.4,284.7 112.0,283.0 110.6,281.4 109.2,279.7 107.8,278.1 106.5,276.5 105.2,274.9 103.9,273.3 102.7,271.7 101.5,270.1 100.3,268.6 99.1,267.0 98.0,265.4 96.9,263.8 95.8,262.2 94.8,260.5 93.8,258.9 92.9,257.2 92.0,255.5 91.1,253.9 90.3,252.2 89.5,250.5 88.7,248.9 88.0,247.2 87.3,245.5 86.6,243.8 85.9,242.1 85.3,240.5 84.7,238.8 84.1,237.2 83.5,235.6 82.9,234.0 82.3,232.4 81.8,230.8 81.2,229.2 80.6,227.7 80.1,226.1 79.6,224.6 79.1,223.0 78.6,221.5 78.1,219.9 77.7,218.4 77.3,216.8 76.9,215.3 76.6,213.7 76.3,212.1 76.0,210.6 75.7,209.0 75.5,207.5 75.2,205.9 75.0,204.4 74.8,202.8 74.7,201.3 74.5,199.7 74.3,198.2 74.2,196.7 74.0,195.2 73.9,193.6 73.8,192.1 73.7,190.6 73.6,189.1 73.5,187.6 73.4,186.1 73.4,184.5 73.3,183.0 73.3,181.5" fill="#ff4b00"/>
<polygon points="74.0,180.0 74.0,178.5 74.0,177.0 74.0,175.5 74.0,174.0 74.1,172.5 74.1,171.0 74.2,169.5 74.3,168.0 74.4,166.4 74.5,164.9 74.6,163.4 74.7,161.9 74.8,160.3 75.0,158.8 75.1,157.3 75.3,155.7 75.5,154.2 75.7,152.6 75.9,151.0 76.1,149.5 76.3,147.9 76.6,146.3 76.8,144.7 77.1,143.1 77.4,141.5 77.7,139.9 78.0,138.2 78.4,136.6 78.7,134.9 79.1,133.3 79.5,131.6 79.9,130.0 80.4,128.3 80.9,126.6 81.4,125.0 82.0,123.3 82.6,121.7 83.2,120.0 83.9,118.4 84.6,116.7 85.3,115.0 86.0,113.3 86.7,111.6 87.4,109.9 88.2,108.2 88.9,106.4 89.7,104.7 90.6,102.9 91.4,101.1 92.3,99.3 93.2,97.5 94.1,95.7 95.1,93.9 96.1,92.1 97.2,90.3 98.3,88.5 99.5,86.8 100.6,85.0 101.8,83.2 103.0,81.3 104.3,79.5 105.6,77.6 106.9,75.8 108.3,74.0 109.7,72.1 111.1,70.2 112.6,68.3 114.1,66.4 115.7,64.5 117.3,62.7 119.0,60.9 120.7,59.2 122.5,57.5 124.4,55.9 126.4,54.4 128.4,53.1 130.4,51.9 132.5,50.8 134.7,49.7 136.9,48.7 139.1,47.8 141.3,46.9 143.6,46.2 145.9,45.6 148.2,45.2 150.5,44.8 152.9,44.7 155.3,44.6 157.6,44.7 160.0,44.9 162.4,45.3 164.7,45.7 167.0,46.2 169.3,46.8 171.6,47.4 173.9,48.2 176.1,49.0 178.3,49.9 180.5,50.8 182.6,51.8 184.7,52.8 186.8,53.8 188.9,54.9 190.9,56.0 192.9,57.2 194.9,58.3 196.8,59.5 198.8,60.7 200.6,62.0 202.5,63.3 204.3,64.6 206.1,65.9 207.9,67.3 209.6,68.6 211.3,70.0 212.9,71.5 214.6,72.9 216.1,74.4 217.7,75.9 219.2,77.5 220.7,79.1 222.1,80.6 223.5,82.3 224.8,83.9 226.2,85.5 227.5,87.1 228.7,88.8 230.0,90.5 231.1,92.1 232.3,93.9 233.4,95.6 234.4,97.4 235.4,99.2 236.3,101.0 237.2,102.8 238.1,104.6 238.9,106.4 239.8,108.2 240.6,109.9 241.4,111.7 242.2,113.4 243.0,115.2 243.8,116.9 244.5,118.6 245.3,120.3 246.0,122.0 246.8,123.7 247.5,125.3 248.1,127.1 248.7,128.8 249.2,130.6 249.6,132.3 250.0,134.1 250.3,136.0 250.6,137.8 250.8,139.6 251.1,141.3 251.3,143.1 251.4,144.9 251.6,146.7 251.7,148.4 251.9,150.2 252.0,151.9 252.1,153.6 252.1,155.3 252.2,157.0 252.2,158.7 252.3,160.4 252.3,162.1 252.3,163.7 252.3,165.4 252.3,167.0 252.2,168.7 252.2,170.3 252.2,171.9 252.1,173.6 252.0,175.2 251.9,176.8 251.8,178.4 251.7,180.0 251.6,181.6 251.4,183.2 251.2,184.8 251.0,186.4 250.7,187.9 250.4,189.5 250.1,191.1 249.7,192.6 249.3,194.2 248.9,195.7 248.5,197.2 248.1,198.7 247.7,200.2 247.2,201.7 246.8,203.3 246.4,204.8 245.9,206.3 245.5,207.8 245.0,209.3 244.5,210.8 244.0,212.2 243.5,213.7 242.9,215.2 242.3,216.7 241.8,218.1 241.1,219.6 240.5,221.0 239.9,222.5 239.2,223.9 238.5,225.3 237.8,226.8 237.1,228.2 236.3,229.6 235.6,231.0 234.8,232.4 233.9,233.7 233.1,235.1 232.2,236.4 231.3,237.7 230.3,239.0 229.3,240.3 228.4,241.6 227.4,242.8 226.4,244.1 225.4,245.4 224.4,246.7 223.4,248.0 222.4,249.3 221.4,250.7 220.4,252.0 219.4,253.3 218.3,254.6 217.2,256.0 216.1,257.3 215.0,258.6 213.9,259.9 212.8,261.3 211.6,262.6 210.4,263.9 209.2,265.2 208.0,266.5 206.7,267.8 205.4,269.1 204.1,270.4 202.8,271.7 201.4,273.0 200.0,274.2 198.6,275.5 197.1,276.8 195.7,278.0 194.2,279.3 192.7,280.6 191.1,281.8 189.5,283.0 187.9,284.3 186.3,285.5 184.6,286.7 182.9,287.9 181.2,289.1 179.5,290.4 177.7,291.6 175.9,292.8 174.0,294.0 172.1,295.1 170.2,296.1 168.2,297.2 166.2,298.2 164.2,299.2 162.1,300.2 160.0,301.2 157.9,302.2 155.7,303.1 153.5,304.0 151.3,304.9 149.0,305.6 146.7,306.2 144.5,306.6 142.2,307.0 139.8,307.3 137.5,307.5 135.4,306.5 133.5,304.7 131.6,302.9 129.8,301.2 128.0,299.4 126.3,297.7 124.6,295.9 122.9,294.2 121.3,292.4 119.7,290.6 118.2,288.8 116.7,287.1 115.3,285.4 113.8,283.7 112.4,282.1 111.0,280.4 109.6,278.8 108.3,277.2 107.0,275.7 105.7,274.1 104.4,272.5 103.2,270.9 102.0,269.4 100.8,267.8 99.6,266.3 98.4,264.7 97.4,263.1 96.3,261.5 95.3,259.9 94.3,258.3 93.4,256.6 92.5,255.0 91.6,253.3 90.8,251.6 90.0,250.0 89.3,248.3 88.5,246.6 87.8,245.0 87.2,243.3 86.5,241.7 85.9,240.0 85.3,238.4 84.7,236.8 84.1,235.2 83.5,233.6 82.9,232.0 82.4,230.4 81.8,228.9 81.3,227.3 80.7,225.8 80.2,224.2 79.7,222.7 79.2,221.2 78.8,219.6 78.3,218.1 77.9,216.5 77.6,215.0 77.2,213.4 76.9,211.9 76.6,210.3 76.4,208.8 76.1,207.3 75.9,205.7 75.7,204.2 75.5,202.6 75.3,201.1 75.1,199.6 75.0,198.1 74.8,196.6 74.7,195.0 74.6,193.5 74.5,192.0 74.4,190.5 74.3,189.0 74.2,187.5 74.1,186.0 74.1,184.5 74.0,183.0 74.0,181.5" fill="#ff5f00"/>
<polygon points="74.7,180.0 74.6,178.5 74.7,177.0 74.7,175.5 74.7,174.0 74.8,172.5 74.8,171.0 74.9,169.5 75.0,168.0 75.1,166.5 75.2,165.0 75.3,163.5 75.4,162.0 75.5,160.5 75.7,159.0 75.8,157.4 76.0,155.9 76.2,154.4 76.4,152.8 76.6,151.3 76.8,149.7 77.0,148.1 77.3,146.6 77.5,145.0 77.8,143.4 78.1,141.8 78.4,140.2 78.7,138.6 79.0,136.9 79.4,135.3 79.8,133.7 80.2,132.0 80.6,130.4 81.1,128.7 81.6,127.1 82.1,125.5 82.7,123.8 83.3,122.2 83.9,120.5 84.5,118.9 85.2,117.2 85.9,115.6 86.6,113.9 87.3,112.2 88.0,110.5 88.8,108.8 89.5,107.0 90.3,105.3 91.1,103.5 92.0,101.7 92.8,100.0 93.7,98.2 94.7,96.4 95.7,94.6 96.7,92.8 97.7,91.1 98.8,89.3 100.0,87.6 101.1,85.8 102.3,84.0 103.5,82.2 104.8,80.4 106.1,78.5 107.4,76.7 108.7,74.9 110.1,73.1 111.6,71.2 113.0,69.3 114.5,67.4 116.1,65.6 117.7,63.7 119.4,62.0 121.1,60.3 122.9,58.7 124.8,57.1 126.7,55.6 128.7,54.3 130.7,53.1 132.8,52.0 134.9,51.0 137.1,49.9 139.3,49.0 141.5,48.1 143.7,47.4 146.0,46.8 148.3,46.4 150.6,46.1 153.0,45.9 155.3,45.8 157.7,45.9 160.0,46.2 162.3,46.5 164.6,46.9 166.9,47.4 169.2,48.0 171.5,48.6 173.7,49.4 175.9,50.2 178.1,51.0 180.3,52.0 182.4,52.9 184.5,53.9 186.6,54.9 188.6,56.0 190.6,57.1 192.6,58.2 194.6,59.3 196.5,60.5 198.4,61.7 200.3,62.9 202.2,64.2 204.0,65.5 205.8,66.8 207.5,68.1 209.2,69.4 210.9,70.8 212.6,72.2 214.2,73.7 215.8,75.1 217.3,76.6 218.8,78.1 220.3,79.7 221.7,81.3 223.1,82.9 224.4,84.5 225.8,86.1 227.0,87.7 228.3,89.4 229.5,91.0 230.7,92.7 231.8,94.4 232.9,96.1 233.9,97.9 234.9,99.7 235.9,101.4 236.8,103.2 237.6,105.0 238.5,106.8 239.3,108.6 240.2,110.3 241.0,112.0 241.8,113.8 242.6,115.5 243.3,117.2 244.1,118.9 244.9,120.6 245.6,122.3 246.3,123.9 247.1,125.6 247.7,127.3 248.3,129.0 248.8,130.8 249.2,132.6 249.6,134.4 249.9,136.2 250.1,138.0 250.4,139.8 250.6,141.5 250.8,143.3 251.0,145.1 251.1,146.8 251.3,148.6 251.4,150.3 251.5,152.0 251.6,153.7 251.7,155.4 251.7,157.1 251.8,158.8 251.8,160.5 251.8,162.2 251.8,163.8 251.8,165.5 251.8,167.1 251.8,168.7 251.7,170.4 251.7,172.0 251.6,173.6 251.5,175.2 251.5,176.8 251.4,178.4 251.2,180.0 251.1,181.6 250.9,183.2 250.7,184.8 250.5,186.3 250.3,187.9 250.0,189.5 249.7,191.0 249.3,192.6 248.9,194.1 248.5,195.6 248.1,197.1 247.7,198.6 247.2,200.1 246.8,201.6 246.4,203.2 246.0,204.7 245.5,206.1 245.1,207.6 244.6,209.1 244.1,210.6 243.6,212.1 243.1,213.6 242.5,215.0 241.9,216.5 241.4,217.9 240.8,219.4 240.1,220.8 239.5,222.3 238.8,223.7 238.1,225.1 237.4,226.5 236.7,227.9 235.9,229.3 235.2,230.7 234.4,232.1 233.5,233.4 232.7,234.8 231.8,236.1 230.8,237.4 229.9,238.6 228.9,239.9 228.0,241.2 227.0,242.5 226.0,243.7 225.0,245.0 224.0,246.3 223.0,247.6 222.0,248.9 221.0,250.2 220.0,251.5 219.0,252.8 217.9,254.2 216.9,255.5 215.8,256.8 214.7,258.1 213.6,259.4 212.4,260.8 211.3,262.1 210.1,263.4 208.9,264.7 207.7,266.0 206.4,267.3 205.1,268.6 203.8,269.9 202.5,271.2 201.2,272.4 199.8,273.7 198.4,275.0 196.9,276.2 195.5,277.5 194.0,278.7 192.5,280.0 190.9,281.2 189.4,282.5 187.8,283.7 186.2,284.9 184.5,286.1 182.8,287.3 181.1,288.5 179.3,289.7 177.6,290.9 175.7,292.1 173.9,293.2 172.0,294.3 170.1,295.3 168.1,296.4 166.2,297.4 164.1,298.3 162.1,299.3 160.0,300.2 157.9,301.2 155.7,302.1 153.6,302.9 151.3,303.7 149.1,304.4 146.9,304.9 144.6,305.3 142.3,305.6 140.1,305.8 137.8,306.0 135.7,305.0 133.8,303.3 131.9,301.6 130.1,299.9 128.3,298.2 126.6,296.5 124.9,294.8 123.3,293.1 121.7,291.3 120.1,289.5 118.6,287.8 117.1,286.1 115.7,284.4 114.2,282.8 112.8,281.1 111.5,279.5 110.1,277.9 108.8,276.4 107.4,274.8 106.2,273.3 104.9,271.7 103.6,270.2 102.4,268.7 101.2,267.1 100.1,265.6 98.9,264.1 97.8,262.5 96.8,260.9 95.8,259.3 94.8,257.7 93.9,256.0 93.0,254.4 92.2,252.7 91.3,251.1 90.6,249.4 89.8,247.8 89.1,246.1 88.4,244.5 87.7,242.8 87.1,241.2 86.5,239.6 85.8,237.9 85.2,236.3 84.7,234.7 84.1,233.2 83.5,231.6 83.0,230.0 82.4,228.5 81.9,226.9 81.3,225.4 80.8,223.9 80.3,222.4 79.9,220.8 79.4,219.3 79.0,217.8 78.6,216.2 78.2,214.7 77.9,213.2 77.6,211.6 77.3,210.1 77.0,208.6 76.8,207.0 76.5,205.5 76.3,204.0 76.1,202.5 76.0,201.0 75.8,199.4 75.6,197.9 75.5,196.4 75.4,194.9 75.2,193.4 75.1,191.9 75.0,190.4 74.9,188.9 74.9,187.4 74.8,186.0 74.7,184.5 74.7,183.0 74.7,181.5" fill="#ff7400"/>
<polygon points="75.3,180.0 75.3,178.5 75.3,177.0 75.4,175.6 75.4,174.1 75.4,172.6 75.5,171.1 75.6,169.6 75.6,168.1 75.7,166.7 75.8,165.2 75.9,163.7 76.1,162.2 76.2,160.7 76.3,159.1 76.5,157.6 76.7,156.1 76.8,154.6 77.0,153.0 77.2,151.5 77.4,150.0 77.7,148.4 77.9,146.8 78.2,145.3 78.4,143.7 78.7,142.1 79.0,140.5 79.4,138.9 79.7,137.3 80.1,135.7 80.4,134.1 80.8,132.4 81.3,130.8 81.7,129.2 82.2,127.6 82.8,125.9 83.3,124.3 83.9,122.7 84.5,121.0 85.2,119.4 85.8,117.8 86.5,116.1 87.2,114.4 87.9,112.8 88.6,111.1 89.4,109.4 90.1,107.6 90.9,105.9 91.7,104.1 92.5,102.4 93.4,100.6 94.3,98.8 95.2,97.1 96.2,95.3 97.2,93.6 98.3,91.8 99.4,90.1 100.5,88.4 101.6,86.6 102.8,84.8 104.0,83.0 105.2,81.2 106.5,79.4 107.8,77.6 109.2,75.8 110.6,74.0 112.0,72.1 113.4,70.3 114.9,68.4 116.5,66.6 118.1,64.8 119.7,63.1 121.5,61.4 123.2,59.8 125.1,58.2 127.0,56.8 129.0,55.5 131.0,54.3 133.0,53.2 135.1,52.1 137.3,51.1 139.4,50.2 141.6,49.3 143.9,48.6 146.1,48.0 148.4,47.5 150.7,47.2 153.0,47.1 155.4,47.0 157.7,47.1 160.0,47.3 162.3,47.7 164.6,48.1 166.9,48.6 169.1,49.2 171.4,49.8 173.6,50.5 175.8,51.3 178.0,52.2 180.1,53.1 182.2,54.0 184.3,55.0 186.4,56.0 188.4,57.0 190.4,58.1 192.4,59.2 194.3,60.3 196.2,61.4 198.1,62.6 200.0,63.8 201.8,65.0 203.6,66.3 205.4,67.6 207.2,68.9 208.9,70.2 210.6,71.6 212.2,72.9 213.8,74.4 215.4,75.8 216.9,77.3 218.4,78.8 219.9,80.3 221.3,81.9 222.7,83.5 224.0,85.1 225.4,86.7 226.6,88.3 227.9,89.9 229.1,91.6 230.3,93.2 231.4,94.9 232.5,96.6 233.5,98.4 234.5,100.1 235.4,101.9 236.3,103.7 237.2,105.5 238.1,107.2 238.9,109.0 239.7,110.7 240.6,112.4 241.4,114.1 242.2,115.8 242.9,117.5 243.7,119.2 244.5,120.9 245.2,122.5 246.0,124.2 246.7,125.9 247.3,127.5 247.9,129.3 248.4,131.0 248.8,132.8 249.1,134.6 249.5,136.4 249.7,138.2 250.0,139.9 250.2,141.7 250.4,143.5 250.5,145.2 250.7,147.0 250.8,148.7 250.9,150.4 251.1,152.2 251.1,153.9 251.2,155.6 251.3,157.2 251.3,158.9 251.4,160.6 251.4,162.2 251.4,163.9 251.4,165.5 251.4,167.2 251.3,168.8 251.3,170.4 251.2,172.0 251.2,173.6 251.1,175.2 251.0,176.8 250.9,178.4 250.8,180.0 250.6,181.6 250.5,183.2 250.3,184.7 250.1,186.3 249.9,187.9 249.6,189.4 249.2,191.0 248.9,192.5 248.5,194.0 248.1,195.5 247.7,197.0 247.3,198.6 246.9,200.1 246.4,201.6 246.0,203.0 245.6,204.5 245.1,206.0 244.7,207.5 244.2,209.0 243.7,210.5 243.2,211.9 242.7,213.4 242.1,214.9 241.6,216.3 241.0,217.8 240.4,219.2 239.8,220.6 239.1,222.1 238.4,223.5 237.8,224.9 237.0,226.3 236.3,227.7 235.6,229.1 234.8,230.4 234.0,231.8 233.1,233.1 232.3,234.4 231.3,235.7 230.4,237.0 229.5,238.3 228.5,239.6 227.5,240.8 226.6,242.1 225.6,243.3 224.6,244.6 223.6,245.9 222.7,247.2 221.7,248.5 220.7,249.8 219.6,251.1 218.6,252.4 217.6,253.7 216.5,255.0 215.5,256.3 214.4,257.6 213.3,259.0 212.1,260.3 211.0,261.6 209.8,262.9 208.6,264.2 207.4,265.5 206.1,266.8 204.9,268.1 203.6,269.3 202.3,270.6 200.9,271.9 199.5,273.2 198.2,274.4 196.7,275.7 195.3,276.9 193.8,278.2 192.3,279.4 190.8,280.7 189.2,281.9 187.6,283.1 186.0,284.3 184.4,285.5 182.7,286.7 181.0,287.8 179.2,289.0 177.5,290.2 175.6,291.3 173.8,292.5 171.9,293.5 170.0,294.6 168.1,295.6 166.1,296.5 164.1,297.5 162.1,298.4 160.0,299.3 157.9,300.2 155.8,301.0 153.6,301.8 151.4,302.6 149.2,303.2 147.0,303.7 144.8,304.0 142.5,304.3 140.3,304.4 138.0,304.6 136.0,303.5 134.1,301.9 132.2,300.3 130.4,298.6 128.7,297.0 126.9,295.3 125.2,293.7 123.6,292.0 122.0,290.3 120.5,288.5 119.0,286.8 117.5,285.1 116.1,283.5 114.7,281.8 113.3,280.2 111.9,278.6 110.5,277.1 109.2,275.5 107.9,274.0 106.6,272.5 105.4,270.9 104.1,269.4 102.9,267.9 101.7,266.4 100.5,264.9 99.4,263.4 98.3,261.9 97.3,260.3 96.3,258.7 95.3,257.1 94.4,255.5 93.5,253.8 92.7,252.2 91.9,250.6 91.1,248.9 90.3,247.3 89.6,245.6 88.9,244.0 88.3,242.3 87.6,240.7 87.0,239.1 86.4,237.5 85.8,235.9 85.2,234.3 84.7,232.8 84.1,231.2 83.5,229.6 83.0,228.1 82.5,226.6 82.0,225.1 81.4,223.5 81.0,222.0 80.5,220.5 80.0,219.0 79.6,217.5 79.2,216.0 78.9,214.4 78.5,212.9 78.2,211.4 77.9,209.9 77.7,208.4 77.4,206.8 77.2,205.3 77.0,203.8 76.8,202.3 76.6,200.8 76.4,199.3 76.3,197.8 76.2,196.3 76.0,194.8 75.9,193.3 75.8,191.8 75.7,190.4 75.6,188.9 75.5,187.4 75.5,185.9 75.4,184.4 75.4,183.0 75.3,181.5" fill="#ff8900"/>
<polygon points="76.0,180.0 76.0,178.5 76.0,177.1 76.0,175.6 76.1,174.1 76.1,172.7 76.2,171.2 76.2,169.7 76.3,168.2 76.4,166.8 76.5,165.3 76.6,163.8 76.7,162.3 76.9,160.8 77.0,159.3 77.2,157.8 77.3,156.3 77.5,154.8 77.7,153.3 77.9,151.7 78.1,150.2 78.3,148.7 78.6,147.1 78.8,145.5 79.1,144.0 79.4,142.4 79.7,140.8 80.0,139.2 80.4,137.7 80.7,136.1 81.1,134.4 81.5,132.8 81.9,131.2 82.4,129.6 82.9,128.0 83.4,126.4 84.0,124.8 84.6,123.2 85.2,121.5 85.8,119.9 86.5,118.3 87.1,116.6 87.8,115.0 88.5,113.3 89.2,111.6 89.9,109.9 90.7,108.2 91.4,106.5 92.2,104.7 93.1,103.0 93.9,101.3 94.8,99.5 95.7,97.8 96.7,96.0 97.7,94.3 98.8,92.6 99.9,90.8 101.0,89.1 102.1,87.4 103.3,85.6 104.5,83.8 105.7,82.0 107.0,80.3 108.3,78.5 109.6,76.7 111.0,74.9 112.4,73.0 113.8,71.2 115.3,69.4 116.8,67.6 118.4,65.8 120.1,64.1 121.8,62.5 123.6,60.9 125.4,59.4 127.3,57.9 129.2,56.6 131.2,55.5 133.3,54.3 135.4,53.3 137.5,52.3 139.6,51.3 141.8,50.5 144.0,49.7 146.2,49.1 148.5,48.7 150.8,48.4 153.1,48.2 155.4,48.2 157.7,48.3 160.0,48.5 162.3,48.8 164.6,49.2 166.8,49.7 169.1,50.3 171.3,50.9 173.5,51.6 175.7,52.4 177.8,53.2 179.9,54.1 182.0,55.0 184.1,56.0 186.1,57.0 188.2,58.0 190.2,59.1 192.1,60.1 194.1,61.2 196.0,62.4 197.9,63.5 199.7,64.7 201.5,65.9 203.3,67.1 205.1,68.4 206.8,69.7 208.6,71.0 210.2,72.3 211.9,73.6 213.5,75.0 215.1,76.4 216.6,77.9 218.1,79.4 219.5,80.9 220.9,82.5 222.3,84.0 223.7,85.6 225.0,87.2 226.2,88.8 227.5,90.4 228.7,92.1 229.8,93.7 231.0,95.4 232.0,97.1 233.1,98.8 234.1,100.6 235.0,102.3 235.9,104.1 236.8,105.9 237.6,107.6 238.5,109.3 239.3,111.0 240.2,112.7 241.0,114.4 241.8,116.1 242.6,117.8 243.3,119.5 244.1,121.1 244.9,122.8 245.6,124.4 246.3,126.1 246.9,127.8 247.5,129.5 248.0,131.2 248.4,133.0 248.7,134.8 249.1,136.6 249.3,138.3 249.6,140.1 249.8,141.9 250.0,143.7 250.1,145.4 250.3,147.1 250.4,148.9 250.5,150.6 250.6,152.3 250.7,154.0 250.8,155.7 250.8,157.3 250.9,159.0 250.9,160.7 250.9,162.3 250.9,164.0 250.9,165.6 250.9,167.2 250.9,168.8 250.9,170.5 250.8,172.1 250.7,173.7 250.7,175.2 250.6,176.8 250.5,178.4 250.4,180.0 250.2,181.6 250.1,183.1 249.9,184.7 249.7,186.3 249.4,187.8 249.2,189.4 248.8,190.9 248.5,192.4 248.1,194.0 247.7,195.5 247.3,197.0 246.9,198.5 246.5,200.0 246.1,201.5 245.6,202.9 245.2,204.4 244.8,205.9 244.3,207.4 243.8,208.9 243.3,210.3 242.8,211.8 242.3,213.3 241.8,214.7 241.2,216.2 240.6,217.6 240.0,219.0 239.4,220.5 238.7,221.9 238.1,223.3 237.4,224.7 236.7,226.1 235.9,227.5 235.2,228.8 234.4,230.2 233.6,231.5 232.7,232.8 231.9,234.1 230.9,235.4 230.0,236.7 229.1,238.0 228.1,239.2 227.1,240.5 226.2,241.7 225.2,243.0 224.2,244.2 223.3,245.5 222.3,246.8 221.3,248.1 220.3,249.4 219.3,250.7 218.3,252.0 217.2,253.3 216.2,254.6 215.1,255.9 214.0,257.2 212.9,258.5 211.8,259.8 210.7,261.1 209.5,262.4 208.3,263.7 207.1,265.0 205.9,266.3 204.6,267.6 203.3,268.8 202.0,270.1 200.7,271.4 199.3,272.7 197.9,273.9 196.5,275.2 195.1,276.4 193.6,277.7 192.1,278.9 190.6,280.1 189.1,281.3 187.5,282.5 185.9,283.7 184.2,284.9 182.5,286.0 180.8,287.2 179.1,288.4 177.3,289.5 175.6,290.6 173.7,291.7 171.9,292.8 170.0,293.8 168.0,294.8 166.1,295.7 164.1,296.6 162.1,297.5 160.0,298.4 157.9,299.2 155.8,300.0 153.7,300.8 151.5,301.5 149.3,302.0 147.1,302.5 144.9,302.8 142.7,303.0 140.5,303.1 138.3,303.1 136.3,302.2 134.4,300.6 132.5,299.0 130.7,297.4 129.0,295.8 127.3,294.2 125.6,292.6 124.0,290.9 122.4,289.3 120.9,287.5 119.4,285.9 117.9,284.2 116.5,282.5 115.1,280.9 113.7,279.3 112.3,277.7 111.0,276.2 109.7,274.7 108.4,273.2 107.1,271.7 105.8,270.2 104.6,268.7 103.3,267.2 102.1,265.8 101.0,264.3 99.9,262.8 98.8,261.2 97.7,259.7 96.8,258.1 95.8,256.5 94.9,254.9 94.0,253.3 93.2,251.7 92.4,250.0 91.6,248.4 90.9,246.8 90.2,245.1 89.5,243.5 88.8,241.9 88.2,240.2 87.6,238.6 87.0,237.1 86.4,235.5 85.8,233.9 85.2,232.3 84.7,230.8 84.1,229.3 83.6,227.7 83.1,226.2 82.6,224.7 82.1,223.2 81.6,221.7 81.1,220.2 80.7,218.7 80.2,217.2 79.9,215.7 79.5,214.2 79.2,212.7 78.9,211.1 78.6,209.6 78.3,208.1 78.1,206.6 77.8,205.1 77.6,203.6 77.4,202.1 77.3,200.6 77.1,199.1 76.9,197.7 76.8,196.2 76.7,194.7 76.6,193.2 76.5,191.7 76.4,190.3 76.3,188.8 76.2,187.3 76.1,185.9 76.1,184.4 76.1,182.9 76.0,181.5" fill="#ff9d00"/>
<polygon points="76.7,180.0 76.7,178.5 76.7,177.1 76.7,175.6 76.7,174.2 76.8,172.7 76.8,171.3 76.9,169.8 77.0,168.3 77.1,166.9 77.2,165.4 77.3,163.9 77.4,162.4 77.5,161.0 77.7,159.5 77.8,158.0 78.0,156.5 78.2,155.0 78.4,153.5 78.5,152.0 78.8,150.4 79.0,148.9 79.2,147.4 79.5,145.8 79.7,144.3 80.0,142.7 80.3,141.1 80.7,139.6 81.0,138.0 81.4,136.4 81.8,134.8 82.2,133.2 82.6,131.6 83.1,130.0 83.6,128.4 84.1,126.8 84.6,125.2 85.2,123.6 85.8,122.0 86.4,120.4 87.1,118.8 87.7,117.2 88.4,115.5 89.1,113.9 89.8,112.2 90.5,110.5 91.2,108.8 92.0,107.1 92.8,105.4 93.6,103.6 94.5,101.9 95.3,100.1 96.3,98.4 97.2,96.7 98.2,95.0 99.3,93.3 100.3,91.6 101.5,89.9 102.6,88.1 103.8,86.4 104.9,84.6 106.2,82.9 107.4,81.1 108.7,79.3 110.0,77.5 111.4,75.7 112.8,73.9 114.2,72.1 115.7,70.3 117.2,68.6 118.8,66.8 120.5,65.1 122.2,63.5 123.9,61.9 125.7,60.5 127.6,59.0 129.5,57.8 131.5,56.6 133.5,55.5 135.6,54.4 137.7,53.4 139.8,52.4 142.0,51.6 144.1,50.8 146.4,50.2 148.6,49.8 150.9,49.5 153.2,49.3 155.4,49.3 157.7,49.4 160.0,49.6 162.3,49.9 164.5,50.3 166.8,50.8 169.0,51.4 171.2,52.0 173.4,52.7 175.5,53.5 177.7,54.3 179.8,55.1 181.9,56.1 183.9,57.0 185.9,58.0 187.9,59.0 189.9,60.0 191.9,61.0 193.8,62.1 195.7,63.2 197.6,64.4 199.4,65.5 201.2,66.7 203.0,67.9 204.8,69.1 206.5,70.4 208.2,71.7 209.9,73.0 211.6,74.3 213.2,75.7 214.7,77.1 216.3,78.5 217.7,80.0 219.2,81.5 220.6,83.0 222.0,84.6 223.3,86.2 224.6,87.8 225.9,89.3 227.1,91.0 228.3,92.6 229.5,94.2 230.6,95.9 231.6,97.6 232.7,99.3 233.6,101.0 234.6,102.8 235.5,104.5 236.4,106.2 237.2,108.0 238.1,109.7 238.9,111.4 239.8,113.1 240.6,114.7 241.4,116.4 242.2,118.1 243.0,119.7 243.7,121.4 244.5,123.0 245.2,124.7 245.9,126.3 246.6,128.0 247.1,129.7 247.6,131.4 248.0,133.2 248.4,135.0 248.7,136.8 248.9,138.5 249.2,140.3 249.4,142.1 249.6,143.8 249.7,145.6 249.9,147.3 250.0,149.0 250.1,150.7 250.2,152.4 250.3,154.1 250.4,155.8 250.4,157.5 250.5,159.1 250.5,160.8 250.5,162.4 250.5,164.0 250.5,165.7 250.5,167.3 250.5,168.9 250.4,170.5 250.4,172.1 250.3,173.7 250.3,175.3 250.2,176.9 250.1,178.4 249.9,180.0 249.8,181.6 249.7,183.1 249.5,184.7 249.3,186.2 249.0,187.8 248.8,189.3 248.5,190.9 248.1,192.4 247.7,193.9 247.3,195.4 246.9,196.9 246.5,198.4 246.1,199.9 245.7,201.4 245.3,202.8 244.8,204.3 244.4,205.8 243.9,207.3 243.5,208.7 243.0,210.2 242.5,211.7 241.9,213.1 241.4,214.6 240.8,216.0 240.3,217.4 239.7,218.9 239.0,220.3 238.4,221.7 237.7,223.1 237.0,224.5 236.3,225.9 235.6,227.2 234.8,228.6 234.0,229.9 233.2,231.3 232.3,232.6 231.5,233.9 230.6,235.1 229.6,236.4 228.7,237.6 227.7,238.9 226.7,240.1 225.8,241.3 224.8,242.6 223.9,243.9 222.9,245.1 221.9,246.4 220.9,247.7 219.9,248.9 218.9,250.2 217.9,251.5 216.9,252.8 215.9,254.1 214.8,255.4 213.7,256.7 212.6,258.0 211.5,259.3 210.4,260.6 209.2,261.9 208.0,263.2 206.8,264.5 205.6,265.8 204.4,267.1 203.1,268.3 201.8,269.6 200.5,270.9 199.1,272.2 197.7,273.4 196.3,274.7 194.9,275.9 193.5,277.1 192.0,278.4 190.4,279.6 188.9,280.8 187.3,282.0 185.7,283.1 184.1,284.3 182.4,285.4 180.7,286.6 179.0,287.7 177.2,288.9 175.5,290.0 173.6,291.0 171.8,292.1 169.9,293.1 168.0,294.0 166.0,294.9 164.0,295.8 162.0,296.7 160.0,297.5 157.9,298.3 155.8,299.1 153.7,299.8 151.6,300.4 149.4,300.9 147.3,301.3 145.1,301.5 142.9,301.7 140.7,301.7 138.5,301.8 136.5,300.8 134.6,299.3 132.8,297.8 131.0,296.2 129.3,294.7 127.6,293.1 125.9,291.5 124.3,289.9 122.7,288.3 121.2,286.6 119.7,284.9 118.3,283.3 116.9,281.6 115.5,280.0 114.1,278.4 112.7,276.9 111.4,275.4 110.1,273.9 108.8,272.4 107.5,270.9 106.3,269.4 105.0,268.0 103.8,266.6 102.6,265.1 101.4,263.6 100.3,262.1 99.2,260.6 98.2,259.1 97.2,257.5 96.3,255.9 95.4,254.3 94.5,252.7 93.7,251.1 92.9,249.5 92.1,247.9 91.4,246.3 90.7,244.6 90.0,243.0 89.4,241.4 88.7,239.8 88.1,238.2 87.5,236.6 86.9,235.0 86.4,233.5 85.8,231.9 85.3,230.4 84.7,228.9 84.2,227.4 83.7,225.9 83.2,224.4 82.7,222.9 82.2,221.4 81.7,219.9 81.3,218.4 80.9,216.9 80.5,215.4 80.1,213.9 79.8,212.4 79.5,210.9 79.2,209.4 78.9,207.9 78.7,206.4 78.5,204.9 78.3,203.4 78.1,202.0 77.9,200.5 77.7,199.0 77.6,197.5 77.5,196.0 77.3,194.6 77.2,193.1 77.1,191.6 77.0,190.2 76.9,188.7 76.9,187.3 76.8,185.8 76.8,184.4 76.7,182.9 76.7,181.5" fill="#ffb200"/>
<polygon points="77.4,180.0 77.4,178.6 77.4,177.1 77.4,175.7 77.4,174.2 77.5,172.8 77.5,171.3 77.6,169.9 77.7,168.4 77.8,167.0 77.9,165.5 78.0,164.1 78.1,162.6 78.2,161.1 78.3,159.6 78.5,158.2 78.7,156.7 78.8,155.2 79.0,153.7 79.2,152.2 79.4,150.7 79.6,149.2 79.9,147.6 80.1,146.1 80.4,144.6 80.7,143.0 81.0,141.5 81.3,139.9 81.7,138.3 82.0,136.8 82.4,135.2 82.8,133.6 83.3,132.0 83.7,130.5 84.2,128.9 84.7,127.3 85.3,125.7 85.8,124.1 86.4,122.5 87.0,120.9 87.7,119.3 88.3,117.7 89.0,116.0 89.7,114.4 90.3,112.7 91.1,111.1 91.8,109.4 92.5,107.7 93.3,105.9 94.1,104.2 95.0,102.5 95.9,100.8 96.8,99.1 97.7,97.4 98.7,95.7 99.8,94.0 100.8,92.3 101.9,90.6 103.1,88.9 104.2,87.2 105.4,85.4 106.6,83.7 107.8,81.9 109.1,80.1 110.4,78.4 111.8,76.6 113.2,74.8 114.6,73.0 116.1,71.3 117.6,69.5 119.2,67.8 120.8,66.1 122.5,64.5 124.2,63.0 126.0,61.5 127.9,60.1 129.8,58.8 131.8,57.7 133.8,56.5 135.8,55.5 137.9,54.5 140.0,53.5 142.1,52.7 144.3,51.9 146.5,51.3 148.7,50.9 150.9,50.5 153.2,50.4 155.5,50.3 157.7,50.4 160.0,50.7 162.3,51.0 164.5,51.4 166.7,51.9 168.9,52.4 171.1,53.0 173.3,53.7 175.4,54.5 177.5,55.3 179.6,56.1 181.7,57.0 183.7,58.0 185.7,58.9 187.7,59.9 189.7,60.9 191.6,61.9 193.6,63.0 195.4,64.1 197.3,65.2 199.1,66.3 200.9,67.5 202.7,68.7 204.5,69.9 206.2,71.1 207.9,72.4 209.6,73.6 211.2,75.0 212.8,76.3 214.4,77.7 215.9,79.1 217.4,80.6 218.8,82.1 220.2,83.6 221.6,85.1 222.9,86.7 224.2,88.3 225.5,89.9 226.7,91.5 227.9,93.1 229.1,94.7 230.2,96.4 231.2,98.0 232.3,99.7 233.3,101.4 234.2,103.2 235.1,104.9 236.0,106.6 236.9,108.3 237.7,110.0 238.6,111.7 239.4,113.4 240.2,115.0 241.0,116.7 241.8,118.3 242.6,120.0 243.4,121.6 244.2,123.2 244.9,124.9 245.6,126.5 246.2,128.2 246.8,129.9 247.2,131.6 247.6,133.4 248.0,135.2 248.3,136.9 248.6,138.7 248.8,140.5 249.0,142.2 249.2,144.0 249.3,145.7 249.5,147.4 249.6,149.1 249.7,150.8 249.8,152.5 249.9,154.2 250.0,155.9 250.0,157.6 250.1,159.2 250.1,160.8 250.1,162.5 250.1,164.1 250.1,165.7 250.1,167.3 250.1,168.9 250.1,170.5 250.0,172.1 249.9,173.7 249.9,175.3 249.8,176.9 249.7,178.4 249.6,180.0 249.4,181.6 249.3,183.1 249.1,184.7 248.9,186.2 248.6,187.8 248.4,189.3 248.1,190.8 247.7,192.3 247.4,193.8 247.0,195.3 246.6,196.8 246.2,198.3 245.8,199.8 245.3,201.3 244.9,202.8 244.5,204.2 244.0,205.7 243.6,207.2 243.1,208.6 242.6,210.1 242.1,211.5 241.6,213.0 241.1,214.4 240.5,215.8 239.9,217.3 239.3,218.7 238.7,220.1 238.0,221.5 237.4,222.9 236.7,224.3 236.0,225.6 235.2,227.0 234.5,228.4 233.7,229.7 232.8,231.0 232.0,232.3 231.1,233.6 230.2,234.8 229.2,236.1 228.3,237.3 227.3,238.5 226.4,239.8 225.4,241.0 224.4,242.2 223.5,243.5 222.5,244.7 221.5,246.0 220.6,247.3 219.6,248.5 218.6,249.8 217.6,251.1 216.6,252.4 215.5,253.7 214.5,255.0 213.4,256.3 212.3,257.6 211.2,258.9 210.1,260.1 208.9,261.4 207.8,262.7 206.6,264.0 205.3,265.3 204.1,266.6 202.8,267.8 201.6,269.1 200.2,270.4 198.9,271.7 197.5,272.9 196.1,274.2 194.7,275.4 193.3,276.6 191.8,277.9 190.3,279.1 188.7,280.2 187.2,281.4 185.6,282.6 183.9,283.7 182.3,284.9 180.6,286.0 178.9,287.1 177.1,288.2 175.4,289.3 173.6,290.4 171.7,291.4 169.8,292.3 167.9,293.3 166.0,294.1 164.0,295.0 162.0,295.8 160.0,296.6 158.0,297.4 155.9,298.1 153.8,298.8 151.7,299.3 149.5,299.8 147.4,300.1 145.2,300.3 143.1,300.4 140.9,300.4 138.8,300.4 136.8,299.5 134.9,298.0 133.1,296.6 131.3,295.1 129.6,293.6 127.9,292.0 126.2,290.5 124.6,288.9 123.1,287.3 121.6,285.6 120.1,284.0 118.6,282.4 117.2,280.7 115.9,279.1 114.5,277.6 113.2,276.0 111.8,274.5 110.5,273.1 109.2,271.6 107.9,270.2 106.7,268.7 105.4,267.3 104.2,265.9 103.0,264.4 101.9,263.0 100.8,261.5 99.7,260.0 98.7,258.5 97.7,257.0 96.7,255.4 95.9,253.8 95.0,252.2 94.2,250.6 93.4,249.0 92.6,247.4 91.9,245.8 91.2,244.1 90.6,242.5 89.9,240.9 89.3,239.3 88.7,237.8 88.1,236.2 87.5,234.6 86.9,233.1 86.4,231.5 85.8,230.0 85.3,228.5 84.8,227.0 84.3,225.5 83.8,224.0 83.3,222.5 82.8,221.1 82.3,219.6 81.9,218.1 81.5,216.6 81.1,215.1 80.8,213.6 80.4,212.1 80.1,210.7 79.8,209.2 79.6,207.7 79.3,206.2 79.1,204.7 78.9,203.3 78.7,201.8 78.5,200.3 78.4,198.8 78.2,197.4 78.1,195.9 78.0,194.5 77.9,193.0 77.8,191.6 77.7,190.1 77.6,188.7 77.5,187.2 77.5,185.8 77.4,184.3 77.4,182.9 77.4,181.4" fill="#ffc600"/>
<polygon points="78.0,180.0 78.0,178.6 78.0,177.1 78.1,175.7 78.1,174.3 78.1,172.8 78.2,171.4 78.3,170.0 78.3,168.5 78.4,167.1 78.5,165.6 78.6,164.2 78.7,162.7 78.9,161.3 79.0,159.8 79.1,158.3 79.3,156.9 79.5,155.4 79.7,153.9 79.8,152.4 80.1,150.9 80.3,149.4 80.5,147.9 80.8,146.4 81.0,144.8 81.3,143.3 81.6,141.8 82.0,140.2 82.3,138.7 82.7,137.1 83.1,135.6 83.5,134.0 83.9,132.4 84.4,130.9 84.9,129.3 85.4,127.7 85.9,126.2 86.5,124.6 87.0,123.0 87.7,121.4 88.3,119.8 88.9,118.2 89.6,116.6 90.2,114.9 90.9,113.3 91.6,111.6 92.3,109.9 93.1,108.2 93.8,106.5 94.7,104.8 95.5,103.1 96.4,101.4 97.3,99.7 98.2,98.0 99.2,96.3 100.2,94.7 101.3,93.0 102.4,91.3 103.5,89.6 104.7,87.9 105.8,86.2 107.0,84.4 108.3,82.7 109.5,80.9 110.8,79.2 112.2,77.4 113.6,75.7 115.0,73.9 116.4,72.2 117.9,70.4 119.5,68.8 121.1,67.1 122.8,65.5 124.5,64.0 126.3,62.6 128.2,61.2 130.1,59.9 132.0,58.7 134.0,57.6 136.0,56.5 138.1,55.5 140.1,54.6 142.3,53.7 144.4,53.0 146.6,52.4 148.8,51.9 151.0,51.6 153.3,51.4 155.5,51.4 157.8,51.5 160.0,51.7 162.2,52.0 164.5,52.4 166.7,52.9 168.8,53.5 171.0,54.1 173.2,54.8 175.3,55.5 177.4,56.3 179.5,57.1 181.5,58.0 183.5,58.9 185.5,59.8 187.5,60.8 189.5,61.8 191.4,62.8 193.3,63.8 195.2,64.9 197.0,66.0 198.9,67.1 200.7,68.3 202.4,69.4 204.2,70.6 205.9,71.8 207.6,73.0 209.3,74.3 210.9,75.6 212.5,76.9 214.1,78.3 215.6,79.7 217.1,81.1 218.5,82.6 219.9,84.1 221.3,85.6 222.6,87.2 223.9,88.8 225.1,90.3 226.4,91.9 227.5,93.5 228.7,95.2 229.8,96.8 230.9,98.5 231.9,100.2 232.9,101.9 233.8,103.6 234.7,105.3 235.6,107.0 236.5,108.7 237.3,110.4 238.2,112.0 239.0,113.7 239.9,115.3 240.7,116.9 241.5,118.6 242.3,120.2 243.1,121.8 243.8,123.5 244.5,125.1 245.2,126.7 245.9,128.4 246.4,130.1 246.9,131.8 247.3,133.6 247.6,135.3 247.9,137.1 248.2,138.9 248.4,140.6 248.6,142.4 248.8,144.1 249.0,145.8 249.1,147.6 249.2,149.3 249.3,151.0 249.4,152.7 249.5,154.3 249.6,156.0 249.7,157.6 249.7,159.3 249.7,160.9 249.7,162.6 249.8,164.2 249.8,165.8 249.7,167.4 249.7,169.0 249.7,170.6 249.6,172.2 249.6,173.7 249.5,175.3 249.4,176.9 249.3,178.4 249.2,180.0 249.0,181.6 248.9,183.1 248.7,184.6 248.5,186.2 248.3,187.7 248.0,189.3 247.7,190.8 247.4,192.3 247.0,193.8 246.6,195.3 246.2,196.8 245.8,198.2 245.4,199.7 245.0,201.2 244.6,202.7 244.1,204.1 243.7,205.6 243.2,207.0 242.8,208.5 242.3,209.9 241.8,211.4 241.3,212.8 240.7,214.3 240.2,215.7 239.6,217.1 239.0,218.5 238.4,219.9 237.7,221.3 237.0,222.7 236.4,224.1 235.6,225.4 234.9,226.8 234.1,228.1 233.3,229.4 232.5,230.7 231.6,232.0 230.7,233.3 229.8,234.5 228.9,235.8 227.9,237.0 227.0,238.2 226.0,239.4 225.0,240.6 224.1,241.9 223.1,243.1 222.1,244.4 221.2,245.6 220.2,246.9 219.2,248.1 218.2,249.4 217.3,250.7 216.2,252.0 215.2,253.3 214.2,254.5 213.1,255.8 212.0,257.1 210.9,258.4 209.8,259.7 208.6,261.0 207.5,262.2 206.3,263.5 205.1,264.8 203.9,266.1 202.6,267.4 201.3,268.6 200.0,269.9 198.7,271.2 197.3,272.4 196.0,273.7 194.5,274.9 193.1,276.1 191.6,277.3 190.1,278.5 188.6,279.7 187.0,280.9 185.4,282.0 183.8,283.2 182.2,284.3 180.5,285.4 178.8,286.5 177.0,287.6 175.3,288.7 173.5,289.7 171.6,290.7 169.8,291.6 167.9,292.5 165.9,293.4 164.0,294.2 162.0,295.0 160.0,295.8 158.0,296.5 155.9,297.2 153.8,297.8 151.7,298.3 149.6,298.7 147.5,299.0 145.4,299.2 143.2,299.2 141.1,299.2 139.0,299.1 137.0,298.2 135.2,296.8 133.4,295.4 131.6,293.9 129.9,292.5 128.2,291.0 126.5,289.5 124.9,287.9 123.4,286.3 121.9,284.7 120.4,283.1 119.0,281.5 117.6,279.9 116.2,278.3 114.9,276.7 113.6,275.2 112.2,273.7 110.9,272.3 109.6,270.8 108.4,269.4 107.1,268.0 105.9,266.6 104.7,265.2 103.5,263.8 102.3,262.4 101.2,260.9 100.1,259.4 99.1,257.9 98.1,256.4 97.2,254.8 96.3,253.3 95.5,251.7 94.7,250.1 93.9,248.5 93.1,246.9 92.4,245.3 91.7,243.7 91.1,242.1 90.4,240.5 89.8,238.9 89.2,237.3 88.6,235.8 88.1,234.2 87.5,232.7 87.0,231.1 86.4,229.6 85.9,228.1 85.4,226.6 84.9,225.2 84.4,223.7 83.9,222.2 83.4,220.7 83.0,219.3 82.5,217.8 82.1,216.3 81.7,214.8 81.4,213.4 81.1,211.9 80.8,210.4 80.5,208.9 80.2,207.5 80.0,206.0 79.8,204.5 79.5,203.1 79.4,201.6 79.2,200.1 79.0,198.7 78.9,197.2 78.8,195.8 78.6,194.3 78.5,192.9 78.4,191.5 78.3,190.0 78.3,188.6 78.2,187.2 78.1,185.7 78.1,184.3 78.1,182.9 78.0,181.4" fill="#ffdb00"/>
<polygon points="78.7,180.0 78.7,178.6 78.7,177.2 78.7,175.7 78.8,174.3 78.8,172.9 78.9,171.5 78.9,170.0 79.0,168.6 79.1,167.2 79.2,165.7 79.3,164.3 79.4,162.9 79.5,161.4 79.7,160.0 79.8,158.5 80.0,157.0 80.1,155.6 80.3,154.1 80.5,152.6 80.7,151.1 80.9,149.6 81.1,148.1 81.4,146.6 81.7,145.1 82.0,143.6 82.3,142.1 82.6,140.6 82.9,139.0 83.3,137.5 83.7,135.9 84.1,134.4 84.5,132.8 85.0,131.3 85.5,129.7 86.0,128.2 86.5,126.6 87.1,125.1 87.7,123.5 88.3,121.9 88.9,120.3 89.5,118.7 90.1,117.1 90.8,115.5 91.5,113.8 92.1,112.1 92.9,110.5 93.6,108.8 94.4,107.1 95.2,105.4 96.0,103.7 96.9,102.0 97.8,100.3 98.7,98.7 99.7,97.0 100.7,95.3 101.8,93.7 102.9,92.0 104.0,90.3 105.1,88.7 106.3,86.9 107.5,85.2 108.7,83.5 109.9,81.7 111.2,80.0 112.6,78.3 113.9,76.5 115.3,74.8 116.8,73.1 118.3,71.4 119.9,69.7 121.5,68.1 123.1,66.5 124.8,65.0 126.6,63.6 128.4,62.2 130.3,60.9 132.2,59.8 134.2,58.6 136.2,57.6 138.2,56.6 140.3,55.6 142.4,54.7 144.5,54.0 146.7,53.4 148.9,52.9 151.1,52.6 153.3,52.4 155.5,52.4 157.8,52.5 160.0,52.7 162.2,53.0 164.4,53.4 166.6,53.9 168.8,54.5 170.9,55.1 173.1,55.7 175.2,56.5 177.3,57.2 179.3,58.1 181.3,58.9 183.4,59.8 185.4,60.7 187.3,61.7 189.3,62.6 191.2,63.6 193.1,64.7 194.9,65.7 196.8,66.8 198.6,67.9 200.4,69.0 202.2,70.1 203.9,71.3 205.6,72.5 207.3,73.7 209.0,74.9 210.6,76.2 212.2,77.5 213.8,78.8 215.3,80.2 216.8,81.7 218.2,83.1 219.6,84.6 220.9,86.1 222.3,87.7 223.5,89.2 224.8,90.8 226.0,92.4 227.2,94.0 228.3,95.6 229.4,97.3 230.5,98.9 231.5,100.6 232.5,102.3 233.4,104.0 234.4,105.6 235.2,107.3 236.1,109.0 237.0,110.7 237.9,112.3 238.7,114.0 239.5,115.6 240.4,117.2 241.2,118.8 242.0,120.4 242.7,122.1 243.5,123.7 244.2,125.3 244.9,126.9 245.5,128.6 246.1,130.3 246.5,132.0 247.0,133.8 247.3,135.5 247.6,137.3 247.9,139.0 248.1,140.8 248.3,142.5 248.4,144.3 248.6,146.0 248.7,147.7 248.9,149.4 249.0,151.1 249.1,152.8 249.2,154.4 249.2,156.1 249.3,157.7 249.3,159.4 249.4,161.0 249.4,162.6 249.4,164.2 249.4,165.8 249.4,167.4 249.3,169.0 249.3,170.6 249.2,172.2 249.2,173.8 249.1,175.3 249.0,176.9 248.9,178.4 248.8,180.0 248.7,181.5 248.5,183.1 248.3,184.6 248.1,186.2 247.9,187.7 247.7,189.2 247.4,190.7 247.0,192.2 246.7,193.7 246.3,195.2 245.9,196.7 245.5,198.2 245.1,199.6 244.7,201.1 244.3,202.6 243.8,204.0 243.4,205.5 242.9,206.9 242.4,208.4 241.9,209.8 241.4,211.3 240.9,212.7 240.4,214.1 239.8,215.5 239.3,217.0 238.7,218.4 238.0,219.8 237.4,221.1 236.7,222.5 236.0,223.9 235.3,225.2 234.5,226.6 233.8,227.9 233.0,229.2 232.1,230.5 231.2,231.8 230.3,233.0 229.4,234.2 228.5,235.5 227.5,236.7 226.6,237.9 225.6,239.1 224.7,240.3 223.7,241.5 222.8,242.8 221.8,244.0 220.8,245.2 219.9,246.5 218.9,247.8 217.9,249.0 216.9,250.3 215.9,251.6 214.9,252.8 213.9,254.1 212.8,255.4 211.7,256.7 210.6,257.9 209.5,259.2 208.4,260.5 207.2,261.8 206.0,263.1 204.8,264.3 203.6,265.6 202.4,266.9 201.1,268.2 199.8,269.4 198.5,270.7 197.1,271.9 195.8,273.2 194.4,274.4 192.9,275.6 191.5,276.8 190.0,278.0 188.4,279.2 186.9,280.4 185.3,281.5 183.7,282.6 182.0,283.7 180.4,284.8 178.7,285.9 176.9,287.0 175.2,288.0 173.4,289.0 171.6,290.0 169.7,290.9 167.8,291.8 165.9,292.6 164.0,293.4 162.0,294.2 160.0,294.9 158.0,295.6 155.9,296.2 153.9,296.8 151.8,297.3 149.7,297.7 147.6,297.9 145.5,298.0 143.4,298.0 141.3,297.9 139.2,297.8 137.3,296.9 135.4,295.6 133.6,294.2 131.9,292.8 130.1,291.4 128.5,290.0 126.8,288.5 125.2,287.0 123.7,285.4 122.2,283.8 120.8,282.2 119.4,280.6 118.0,279.0 116.6,277.5 115.3,275.9 114.0,274.4 112.6,272.9 111.3,271.5 110.1,270.1 108.8,268.7 107.5,267.3 106.3,265.9 105.1,264.6 103.9,263.2 102.8,261.8 101.6,260.3 100.6,258.9 99.6,257.4 98.6,255.8 97.7,254.3 96.8,252.7 95.9,251.1 95.1,249.6 94.4,248.0 93.6,246.4 92.9,244.8 92.3,243.2 91.6,241.6 91.0,240.0 90.4,238.4 89.8,236.9 89.2,235.3 88.6,233.8 88.1,232.3 87.5,230.8 87.0,229.3 86.5,227.8 85.9,226.3 85.4,224.8 84.9,223.3 84.5,221.9 84.0,220.4 83.6,218.9 83.1,217.5 82.7,216.0 82.4,214.6 82.0,213.1 81.7,211.6 81.4,210.2 81.1,208.7 80.9,207.3 80.6,205.8 80.4,204.3 80.2,202.9 80.0,201.4 79.8,200.0 79.7,198.5 79.5,197.1 79.4,195.7 79.3,194.2 79.2,192.8 79.1,191.4 79.0,189.9 78.9,188.5 78.9,187.1 78.8,185.7 78.8,184.3 78.7,182.8 78.7,181.4" fill="#fff000"/>
<polygon points="79.4,180.0 79.4,178.6 79.4,177.2 79.4,175.8 79.4,174.4 79.5,173.0 79.5,171.5 79.6,170.1 79.7,168.7 79.7,167.3 79.8,165.9 79.9,164.4 80.1,163.0 80.2,161.6 80.3,160.1 80.5,158.7 80.6,157.2 80.8,155.8 80.9,154.3 81.1,152.8 81.3,151.4 81.5,149.9 81.8,148.4 82.0,146.9 82.3,145.4 82.6,143.9 82.9,142.4 83.2,140.9 83.6,139.4 83.9,137.8 84.3,136.3 84.7,134.8 85.2,133.2 85.6,131.7 86.1,130.2 86.6,128.6 87.1,127.1 87.7,125.5 88.3,124.0 88.8,122.4 89.4,120.8 90.1,119.2 90.7,117.6 91.3,116.0 92.0,114.3 92.7,112.7 93.4,111.0 94.1,109.4 94.9,107.7 95.7,106.0 96.5,104.3 97.4,102.6 98.3,101.0 99.2,99.3 100.2,97.7 101.2,96.0 102.2,94.4 103.3,92.7 104.4,91.1 105.6,89.4 106.7,87.7 107.9,86.0 109.1,84.3 110.3,82.5 111.6,80.8 112.9,79.1 114.3,77.4 115.7,75.6 117.1,73.9 118.6,72.3 120.2,70.6 121.8,69.0 123.4,67.5 125.1,66.0 126.9,64.6 128.7,63.2 130.6,62.0 132.5,60.8 134.4,59.7 136.4,58.6 138.4,57.6 140.5,56.6 142.5,55.8 144.7,55.0 146.8,54.4 149.0,53.9 151.2,53.6 153.4,53.5 155.6,53.4 157.8,53.5 160.0,53.7 162.2,54.0 164.4,54.4 166.6,54.9 168.7,55.4 170.8,56.0 173.0,56.7 175.1,57.4 177.1,58.2 179.2,59.0 181.2,59.8 183.2,60.7 185.2,61.6 187.1,62.5 189.0,63.5 191.0,64.5 192.8,65.5 194.7,66.5 196.5,67.6 198.3,68.6 200.1,69.7 201.9,70.9 203.6,72.0 205.4,73.1 207.0,74.3 208.7,75.5 210.3,76.8 211.9,78.1 213.5,79.4 215.0,80.8 216.5,82.2 217.9,83.6 219.3,85.1 220.6,86.6 221.9,88.2 223.2,89.7 224.5,91.3 225.7,92.9 226.8,94.4 228.0,96.1 229.1,97.7 230.1,99.3 231.2,101.0 232.1,102.6 233.1,104.3 234.0,106.0 234.9,107.7 235.8,109.3 236.6,111.0 237.5,112.6 238.4,114.2 239.2,115.9 240.0,117.5 240.9,119.1 241.6,120.7 242.4,122.3 243.2,123.9 243.9,125.5 244.6,127.1 245.2,128.8 245.7,130.5 246.2,132.2 246.6,133.9 247.0,135.7 247.3,137.4 247.5,139.2 247.7,140.9 247.9,142.7 248.1,144.4 248.3,146.1 248.4,147.8 248.5,149.5 248.6,151.2 248.7,152.9 248.8,154.5 248.9,156.2 248.9,157.8 249.0,159.5 249.0,161.1 249.0,162.7 249.0,164.3 249.0,165.9 249.0,167.5 249.0,169.1 248.9,170.7 248.9,172.2 248.8,173.8 248.7,175.3 248.7,176.9 248.6,178.5 248.4,180.0 248.3,181.5 248.2,183.1 248.0,184.6 247.8,186.1 247.6,187.7 247.3,189.2 247.0,190.7 246.7,192.2 246.3,193.7 246.0,195.2 245.6,196.6 245.2,198.1 244.8,199.6 244.4,201.0 243.9,202.5 243.5,203.9 243.0,205.4 242.6,206.8 242.1,208.3 241.6,209.7 241.1,211.1 240.6,212.6 240.1,214.0 239.5,215.4 238.9,216.8 238.3,218.2 237.7,219.6 237.1,221.0 236.4,222.3 235.7,223.7 235.0,225.0 234.2,226.4 233.4,227.7 232.6,229.0 231.8,230.3 230.9,231.5 230.0,232.7 229.1,234.0 228.1,235.2 227.2,236.4 226.2,237.6 225.3,238.8 224.3,240.0 223.3,241.2 222.4,242.4 221.4,243.6 220.5,244.9 219.5,246.1 218.6,247.4 217.6,248.6 216.6,249.9 215.6,251.2 214.6,252.4 213.5,253.7 212.5,255.0 211.4,256.2 210.3,257.5 209.2,258.8 208.1,260.0 207.0,261.3 205.8,262.6 204.6,263.9 203.4,265.1 202.2,266.4 200.9,267.7 199.6,269.0 198.3,270.2 197.0,271.5 195.6,272.7 194.2,273.9 192.8,275.2 191.3,276.4 189.8,277.5 188.3,278.7 186.8,279.8 185.2,281.0 183.6,282.1 181.9,283.2 180.3,284.2 178.6,285.3 176.8,286.4 175.1,287.4 173.3,288.4 171.5,289.3 169.6,290.2 167.8,291.1 165.9,291.9 163.9,292.7 162.0,293.4 160.0,294.1 158.0,294.8 156.0,295.3 153.9,295.9 151.9,296.3 149.8,296.6 147.7,296.8 145.6,296.9 143.6,296.8 141.5,296.7 139.5,296.5 137.5,295.6 135.7,294.4 133.9,293.1 132.1,291.7 130.4,290.4 128.8,288.9 127.1,287.5 125.6,286.0 124.0,284.5 122.5,282.9 121.1,281.3 119.7,279.7 118.3,278.2 117.0,276.6 115.7,275.1 114.3,273.6 113.0,272.2 111.8,270.7 110.5,269.3 109.2,268.0 108.0,266.6 106.7,265.3 105.5,263.9 104.3,262.5 103.2,261.2 102.1,259.7 101.0,258.3 100.0,256.8 99.0,255.3 98.1,253.7 97.2,252.2 96.4,250.6 95.6,249.0 94.9,247.5 94.1,245.9 93.4,244.3 92.8,242.7 92.1,241.1 91.5,239.5 90.9,238.0 90.3,236.4 89.7,234.9 89.2,233.4 88.6,231.9 88.1,230.4 87.5,228.9 87.0,227.4 86.5,225.9 86.0,224.4 85.5,223.0 85.1,221.5 84.6,220.1 84.2,218.6 83.8,217.2 83.4,215.7 83.0,214.3 82.6,212.8 82.3,211.4 82.0,209.9 81.7,208.5 81.5,207.0 81.2,205.6 81.0,204.1 80.8,202.7 80.6,201.3 80.5,199.8 80.3,198.4 80.2,197.0 80.0,195.5 79.9,194.1 79.8,192.7 79.7,191.3 79.6,189.9 79.6,188.5 79.5,187.0 79.5,185.6 79.4,184.2 79.4,182.8 79.4,181.4" fill="#ffff08"/>
<polygon points="80.0,180.0 80.0,178.6 80.0,177.2 80.1,175.8 80.1,174.4 80.1,173.0 80.2,171.6 80.3,170.2 80.3,168.8 80.4,167.4 80.5,166.0 80.6,164.6 80.7,163.1 80.8,161.7 81.0,160.3 81.1,158.9 81.2,157.4 81.4,156.0 81.6,154.5 81.8,153.1 82.0,151.6 82.2,150.1 82.4,148.7 82.7,147.2 82.9,145.7 83.2,144.2 83.5,142.7 83.8,141.2 84.2,139.7 84.6,138.2 85.0,136.7 85.4,135.2 85.8,133.6 86.3,132.1 86.7,130.6 87.2,129.1 87.8,127.5 88.3,126.0 88.9,124.4 89.4,122.9 90.0,121.3 90.6,119.7 91.3,118.1 91.9,116.5 92.5,114.9 93.2,113.2 93.9,111.6 94.6,109.9 95.4,108.2 96.2,106.6 97.0,104.9 97.8,103.3 98.7,101.6 99.7,99.9 100.6,98.3 101.7,96.7 102.7,95.0 103.8,93.4 104.9,91.8 106.0,90.1 107.1,88.4 108.3,86.7 109.5,85.0 110.7,83.3 112.0,81.6 113.3,79.9 114.7,78.2 116.1,76.5 117.5,74.8 119.0,73.1 120.5,71.5 122.1,70.0 123.8,68.4 125.4,67.0 127.2,65.6 129.0,64.2 130.8,63.0 132.7,61.8 134.6,60.7 136.6,59.6 138.6,58.6 140.6,57.6 142.7,56.8 144.8,56.0 146.9,55.4 149.1,54.9 151.2,54.6 153.4,54.4 155.6,54.4 157.8,54.5 160.0,54.7 162.2,55.0 164.4,55.4 166.5,55.9 168.6,56.4 170.8,57.0 172.9,57.7 174.9,58.4 177.0,59.1 179.0,59.9 181.0,60.7 183.0,61.6 185.0,62.5 186.9,63.4 188.8,64.3 190.7,65.3 192.6,66.3 194.5,67.3 196.3,68.3 198.1,69.4 199.9,70.4 201.6,71.5 203.4,72.7 205.1,73.8 206.8,75.0 208.4,76.1 210.1,77.4 211.6,78.6 213.2,79.9 214.7,81.3 216.2,82.7 217.6,84.1 219.0,85.6 220.3,87.1 221.6,88.6 222.9,90.2 224.1,91.7 225.3,93.3 226.5,94.9 227.6,96.5 228.7,98.1 229.8,99.7 230.8,101.4 231.8,103.0 232.7,104.7 233.6,106.4 234.5,108.0 235.4,109.7 236.3,111.3 237.2,112.9 238.0,114.5 238.9,116.1 239.7,117.7 240.5,119.3 241.3,120.9 242.1,122.5 242.9,124.1 243.6,125.7 244.3,127.3 244.9,129.0 245.4,130.7 245.9,132.4 246.3,134.1 246.6,135.9 246.9,137.6 247.2,139.3 247.4,141.1 247.6,142.8 247.8,144.5 247.9,146.3 248.0,148.0 248.2,149.6 248.3,151.3 248.4,153.0 248.4,154.6 248.5,156.3 248.6,157.9 248.6,159.5 248.6,161.2 248.7,162.8 248.7,164.4 248.7,166.0 248.7,167.5 248.6,169.1 248.6,170.7 248.5,172.3 248.5,173.8 248.4,175.4 248.3,176.9 248.2,178.5 248.1,180.0 248.0,181.5 247.8,183.1 247.6,184.6 247.4,186.1 247.2,187.6 247.0,189.1 246.7,190.6 246.4,192.1 246.0,193.6 245.7,195.1 245.3,196.6 244.9,198.0 244.5,199.5 244.0,201.0 243.6,202.4 243.2,203.9 242.7,205.3 242.3,206.7 241.8,208.2 241.3,209.6 240.8,211.0 240.3,212.4 239.7,213.8 239.2,215.3 238.6,216.7 238.0,218.1 237.4,219.4 236.8,220.8 236.1,222.2 235.4,223.5 234.7,224.9 233.9,226.2 233.1,227.5 232.3,228.8 231.4,230.0 230.5,231.3 229.6,232.5 228.7,233.7 227.8,234.9 226.8,236.1 225.9,237.2 224.9,238.4 223.9,239.6 223.0,240.8 222.0,242.0 221.1,243.3 220.1,244.5 219.2,245.7 218.2,247.0 217.3,248.2 216.3,249.5 215.3,250.8 214.3,252.0 213.2,253.3 212.2,254.5 211.1,255.8 210.1,257.1 209.0,258.3 207.8,259.6 206.7,260.9 205.5,262.1 204.4,263.4 203.2,264.7 201.9,266.0 200.7,267.2 199.4,268.5 198.1,269.8 196.8,271.0 195.4,272.2 194.0,273.5 192.6,274.7 191.2,275.9 189.7,277.0 188.2,278.2 186.6,279.3 185.0,280.4 183.4,281.5 181.8,282.6 180.2,283.7 178.5,284.7 176.8,285.8 175.0,286.8 173.2,287.7 171.4,288.7 169.6,289.6 167.7,290.4 165.8,291.2 163.9,291.9 162.0,292.7 160.0,293.3 158.0,293.9 156.0,294.5 154.0,294.9 151.9,295.3 149.9,295.6 147.8,295.8 145.8,295.8 143.7,295.7 141.7,295.5 139.7,295.2 137.8,294.4 135.9,293.2 134.2,291.9 132.4,290.7 130.7,289.3 129.0,288.0 127.4,286.5 125.9,285.1 124.3,283.6 122.9,282.0 121.4,280.5 120.0,278.9 118.7,277.3 117.3,275.8 116.0,274.3 114.7,272.8 113.4,271.4 112.1,270.0 110.9,268.6 109.6,267.3 108.4,265.9 107.1,264.6 105.9,263.3 104.7,261.9 103.6,260.6 102.5,259.1 101.4,257.7 100.4,256.2 99.5,254.7 98.6,253.2 97.7,251.7 96.9,250.1 96.1,248.5 95.3,247.0 94.6,245.4 93.9,243.8 93.3,242.2 92.6,240.7 92.0,239.1 91.4,237.5 90.8,236.0 90.3,234.5 89.7,233.0 89.2,231.5 88.6,230.0 88.1,228.5 87.6,227.0 87.1,225.6 86.6,224.1 86.1,222.7 85.7,221.2 85.2,219.8 84.8,218.3 84.4,216.9 84.0,215.4 83.6,214.0 83.3,212.6 83.0,211.1 82.7,209.7 82.4,208.3 82.1,206.8 81.9,205.4 81.7,204.0 81.5,202.5 81.3,201.1 81.1,199.7 80.9,198.3 80.8,196.8 80.7,195.4 80.6,194.0 80.5,192.6 80.4,191.2 80.3,189.8 80.2,188.4 80.2,187.0 80.1,185.6 80.1,184.2 80.0,182.8 80.0,181.4" fill="#ffff27"/>
<polygon points="80.7,180.0 80.7,178.6 80.7,177.2 80.7,175.8 80.8,174.5 80.8,173.1 80.8,171.7 80.9,170.3 81.0,168.9 81.1,167.5 81.2,166.1 81.3,164.7 81.4,163.3 81.5,161.9 81.6,160.5 81.7,159.0 81.9,157.6 82.0,156.2 82.2,154.7 82.4,153.3 82.6,151.8 82.8,150.4 83.0,148.9 83.3,147.4 83.5,146.0 83.8,144.5 84.1,143.0 84.5,141.5 84.8,140.0 85.2,138.5 85.6,137.0 86.0,135.5 86.4,134.0 86.9,132.5 87.4,131.0 87.9,129.5 88.4,128.0 88.9,126.4 89.5,124.9 90.0,123.3 90.6,121.8 91.2,120.2 91.8,118.6 92.4,117.0 93.1,115.4 93.7,113.7 94.4,112.1 95.2,110.5 95.9,108.8 96.7,107.1 97.5,105.5 98.3,103.8 99.2,102.2 100.1,100.6 101.1,99.0 102.1,97.3 103.2,95.7 104.2,94.1 105.3,92.5 106.4,90.8 107.5,89.1 108.7,87.5 109.9,85.8 111.1,84.1 112.4,82.4 113.7,80.7 115.0,79.0 116.4,77.3 117.8,75.6 119.3,74.0 120.8,72.4 122.4,70.9 124.1,69.4 125.7,67.9 127.5,66.5 129.2,65.2 131.1,64.0 132.9,62.8 134.8,61.6 136.8,60.6 138.8,59.6 140.8,58.6 142.8,57.7 144.9,57.0 147.0,56.4 149.1,55.9 151.3,55.6 153.5,55.4 155.6,55.4 157.8,55.5 160.0,55.7 162.2,56.0 164.3,56.4 166.5,56.8 168.6,57.4 170.7,57.9 172.8,58.6 174.8,59.3 176.9,60.0 178.9,60.8 180.9,61.6 182.9,62.4 184.8,63.3 186.7,64.2 188.6,65.1 190.5,66.1 192.4,67.0 194.2,68.0 196.1,69.0 197.8,70.1 199.6,71.1 201.4,72.2 203.1,73.3 204.8,74.4 206.5,75.6 208.2,76.7 209.8,77.9 211.4,79.2 212.9,80.5 214.4,81.8 215.9,83.2 217.3,84.6 218.7,86.1 220.0,87.6 221.3,89.1 222.6,90.6 223.8,92.2 225.0,93.7 226.2,95.3 227.3,96.9 228.4,98.5 229.4,100.1 230.5,101.8 231.4,103.4 232.4,105.0 233.3,106.7 234.2,108.3 235.1,110.0 236.0,111.6 236.8,113.2 237.7,114.8 238.6,116.4 239.4,118.0 240.2,119.5 241.0,121.1 241.8,122.7 242.6,124.3 243.3,125.9 244.0,127.5 244.6,129.2 245.1,130.9 245.6,132.6 246.0,134.3 246.3,136.0 246.6,137.8 246.9,139.5 247.1,141.2 247.3,143.0 247.4,144.7 247.6,146.4 247.7,148.1 247.8,149.8 247.9,151.4 248.0,153.1 248.1,154.7 248.2,156.4 248.2,158.0 248.3,159.6 248.3,161.2 248.3,162.8 248.3,164.4 248.3,166.0 248.3,167.6 248.3,169.2 248.2,170.7 248.2,172.3 248.1,173.8 248.1,175.4 248.0,176.9 247.9,178.5 247.7,180.0 247.6,181.5 247.5,183.1 247.3,184.6 247.1,186.1 246.9,187.6 246.6,189.1 246.3,190.6 246.0,192.1 245.7,193.6 245.3,195.0 245.0,196.5 244.6,198.0 244.2,199.4 243.7,200.9 243.3,202.3 242.9,203.8 242.4,205.2 242.0,206.6 241.5,208.1 241.0,209.5 240.5,210.9 240.0,212.3 239.4,213.7 238.9,215.1 238.3,216.5 237.7,217.9 237.1,219.3 236.4,220.6 235.8,222.0 235.1,223.3 234.3,224.7 233.6,226.0 232.8,227.3 231.9,228.5 231.1,229.8 230.2,231.0 229.3,232.2 228.4,233.4 227.4,234.6 226.5,235.8 225.5,236.9 224.5,238.1 223.6,239.3 222.6,240.5 221.7,241.7 220.8,242.9 219.8,244.1 218.9,245.4 217.9,246.6 216.9,247.9 216.0,249.1 215.0,250.4 214.0,251.6 212.9,252.9 211.9,254.1 210.9,255.4 209.8,256.6 208.7,257.9 207.6,259.2 206.4,260.4 205.3,261.7 204.1,263.0 202.9,264.2 201.7,265.5 200.5,266.8 199.2,268.0 197.9,269.3 196.6,270.5 195.2,271.8 193.8,273.0 192.4,274.2 191.0,275.4 189.5,276.6 188.0,277.7 186.5,278.8 184.9,279.9 183.3,281.0 181.7,282.1 180.0,283.1 178.4,284.2 176.7,285.2 174.9,286.2 173.2,287.1 171.4,288.0 169.5,288.9 167.7,289.7 165.8,290.5 163.9,291.2 162.0,291.9 160.0,292.5 158.0,293.1 156.0,293.6 154.0,294.0 152.0,294.4 150.0,294.6 147.9,294.7 145.9,294.7 143.9,294.6 141.9,294.3 139.9,294.0 138.0,293.2 136.2,292.0 134.4,290.8 132.7,289.6 131.0,288.3 129.3,287.0 127.7,285.6 126.2,284.2 124.6,282.7 123.2,281.2 121.8,279.6 120.4,278.1 119.0,276.5 117.7,275.0 116.4,273.5 115.1,272.1 113.8,270.6 112.5,269.3 111.3,267.9 110.0,266.6 108.8,265.3 107.5,264.0 106.3,262.6 105.2,261.3 104.0,260.0 102.9,258.6 101.9,257.1 100.9,255.7 99.9,254.2 99.0,252.7 98.1,251.2 97.3,249.6 96.6,248.0 95.8,246.5 95.1,244.9 94.4,243.3 93.8,241.8 93.1,240.2 92.5,238.6 91.9,237.1 91.4,235.6 90.8,234.1 90.3,232.6 89.7,231.1 89.2,229.6 88.7,228.1 88.2,226.7 87.7,225.2 87.2,223.8 86.7,222.3 86.3,220.9 85.8,219.4 85.4,218.0 85.0,216.6 84.6,215.2 84.2,213.7 83.9,212.3 83.6,210.9 83.3,209.5 83.0,208.0 82.7,206.6 82.5,205.2 82.3,203.8 82.1,202.3 81.9,200.9 81.7,199.5 81.6,198.1 81.4,196.7 81.3,195.3 81.2,193.9 81.1,192.5 81.0,191.1 80.9,189.7 80.9,188.3 80.8,186.9 80.8,185.5 80.7,184.2 80.7,182.8 80.7,181.4" fill="#ffff46"/>
<polygon points="81.3,180.0 81.3,178.6 81.4,177.3 81.4,175.9 81.4,174.5 81.5,173.1 81.5,171.8 81.6,170.4 81.6,169.0 81.7,167.6 81.8,166.2 81.9,164.8 82.0,163.4 82.1,162.0 82.3,160.6 82.4,159.2 82.5,157.8 82.7,156.4 82.9,154.9 83.0,153.5 83.2,152.1 83.4,150.6 83.7,149.2 83.9,147.7 84.2,146.2 84.5,144.8 84.8,143.3 85.1,141.8 85.4,140.4 85.8,138.9 86.2,137.4 86.6,135.9 87.1,134.4 87.5,132.9 88.0,131.4 88.5,129.9 89.0,128.4 89.5,126.9 90.0,125.3 90.6,123.8 91.2,122.2 91.8,120.7 92.4,119.1 93.0,117.5 93.6,115.9 94.3,114.3 94.9,112.6 95.7,111.0 96.4,109.4 97.2,107.7 98.0,106.1 98.8,104.4 99.7,102.8 100.6,101.2 101.6,99.6 102.6,98.0 103.6,96.4 104.7,94.8 105.7,93.2 106.8,91.5 108.0,89.9 109.1,88.2 110.3,86.5 111.5,84.8 112.8,83.1 114.1,81.5 115.4,79.8 116.8,78.1 118.2,76.5 119.6,74.9 121.2,73.3 122.7,71.8 124.4,70.3 126.0,68.9 127.7,67.5 129.5,66.2 131.3,64.9 133.2,63.7 135.0,62.6 137.0,61.5 138.9,60.5 140.9,59.6 143.0,58.7 145.0,57.9 147.1,57.3 149.2,56.8 151.4,56.5 153.5,56.3 155.7,56.3 157.8,56.4 160.0,56.6 162.1,56.9 164.3,57.3 166.4,57.8 168.5,58.3 170.6,58.9 172.7,59.5 174.7,60.2 176.7,60.9 178.7,61.6 180.7,62.4 182.7,63.3 184.6,64.1 186.5,65.0 188.4,65.9 190.3,66.8 192.2,67.8 194.0,68.8 195.8,69.8 197.6,70.8 199.4,71.8 201.1,72.9 202.8,74.0 204.6,75.0 206.2,76.2 207.9,77.3 209.5,78.5 211.1,79.7 212.6,81.0 214.1,82.3 215.6,83.7 217.0,85.1 218.4,86.6 219.7,88.0 221.0,89.5 222.3,91.1 223.5,92.6 224.7,94.2 225.8,95.7 227.0,97.3 228.1,98.9 229.1,100.5 230.1,102.1 231.1,103.8 232.0,105.4 233.0,107.0 233.9,108.7 234.8,110.3 235.6,111.9 236.5,113.5 237.4,115.1 238.3,116.6 239.1,118.2 239.9,119.8 240.7,121.3 241.5,122.9 242.3,124.5 243.0,126.1 243.7,127.7 244.3,129.4 244.8,131.0 245.3,132.7 245.7,134.4 246.0,136.2 246.3,137.9 246.5,139.6 246.8,141.4 246.9,143.1 247.1,144.8 247.3,146.5 247.4,148.2 247.5,149.9 247.6,151.5 247.7,153.2 247.8,154.8 247.8,156.5 247.9,158.1 247.9,159.7 248.0,161.3 248.0,162.9 248.0,164.5 248.0,166.1 248.0,167.6 247.9,169.2 247.9,170.8 247.9,172.3 247.8,173.9 247.7,175.4 247.6,176.9 247.5,178.5 247.4,180.0 247.3,181.5 247.1,183.0 247.0,184.6 246.8,186.1 246.5,187.6 246.3,189.1 246.0,190.6 245.7,192.0 245.4,193.5 245.0,195.0 244.7,196.5 244.3,197.9 243.9,199.4 243.4,200.8 243.0,202.2 242.6,203.7 242.1,205.1 241.7,206.5 241.2,208.0 240.7,209.4 240.2,210.8 239.7,212.2 239.1,213.6 238.6,215.0 238.0,216.4 237.4,217.8 236.8,219.1 236.1,220.5 235.5,221.8 234.8,223.2 234.0,224.5 233.3,225.8 232.5,227.1 231.6,228.3 230.8,229.5 229.9,230.8 229.0,232.0 228.0,233.1 227.1,234.3 226.1,235.5 225.2,236.6 224.2,237.8 223.3,239.0 222.3,240.2 221.4,241.4 220.4,242.6 219.5,243.8 218.5,245.0 217.6,246.2 216.6,247.5 215.7,248.7 214.7,250.0 213.7,251.2 212.7,252.5 211.6,253.7 210.6,255.0 209.5,256.2 208.4,257.5 207.3,258.7 206.2,260.0 205.0,261.3 203.9,262.5 202.7,263.8 201.5,265.1 200.3,266.3 199.0,267.6 197.7,268.8 196.4,270.1 195.1,271.3 193.7,272.5 192.3,273.7 190.8,274.9 189.4,276.1 187.9,277.2 186.3,278.3 184.8,279.4 183.2,280.5 181.6,281.6 179.9,282.6 178.3,283.6 176.6,284.6 174.8,285.6 173.1,286.5 171.3,287.4 169.5,288.2 167.6,289.0 165.8,289.8 163.9,290.5 161.9,291.1 160.0,291.7 158.0,292.3 156.1,292.7 154.1,293.1 152.1,293.4 150.1,293.6 148.1,293.7 146.0,293.6 144.1,293.5 142.1,293.2 140.1,292.8 138.2,292.0 136.4,290.9 134.7,289.8 132.9,288.6 131.2,287.3 129.6,286.0 128.0,284.7 126.4,283.3 124.9,281.8 123.5,280.3 122.1,278.8 120.7,277.3 119.4,275.7 118.0,274.2 116.8,272.7 115.5,271.3 114.2,269.9 112.9,268.5 111.7,267.2 110.4,265.9 109.2,264.6 107.9,263.3 106.7,262.0 105.6,260.7 104.4,259.4 103.3,258.0 102.3,256.6 101.3,255.1 100.3,253.7 99.4,252.2 98.6,250.6 97.8,249.1 97.0,247.5 96.3,246.0 95.6,244.4 94.9,242.9 94.3,241.3 93.6,239.7 93.0,238.2 92.5,236.7 91.9,235.1 91.3,233.6 90.8,232.2 90.3,230.7 89.7,229.2 89.2,227.7 88.7,226.3 88.2,224.8 87.8,223.4 87.3,222.0 86.8,220.6 86.4,219.1 86.0,217.7 85.6,216.3 85.2,214.9 84.8,213.5 84.5,212.0 84.2,210.6 83.9,209.2 83.6,207.8 83.4,206.4 83.1,205.0 82.9,203.6 82.7,202.2 82.5,200.8 82.4,199.4 82.2,198.0 82.1,196.6 82.0,195.2 81.9,193.8 81.8,192.4 81.7,191.0 81.6,189.6 81.5,188.2 81.5,186.9 81.4,185.5 81.4,184.1 81.4,182.7 81.3,181.4" fill="#ffff64"/>
<polygon points="82.0,180.0 82.0,178.6 82.0,177.3 82.0,175.9 82.1,174.6 82.1,173.2 82.2,171.8 82.2,170.5 82.3,169.1 82.4,167.7 82.5,166.3 82.6,164.9 82.7,163.6 82.8,162.2 82.9,160.8 83.0,159.4 83.2,158.0 83.3,156.6 83.5,155.1 83.7,153.7 83.9,152.3 84.1,150.8 84.3,149.4 84.5,148.0 84.8,146.5 85.1,145.1 85.4,143.6 85.7,142.1 86.1,140.7 86.4,139.2 86.8,137.8 87.2,136.3 87.7,134.8 88.1,133.3 88.6,131.8 89.1,130.3 89.6,128.8 90.1,127.3 90.6,125.8 91.2,124.3 91.7,122.7 92.3,121.2 92.9,119.6 93.5,118.0 94.1,116.4 94.8,114.8 95.5,113.2 96.2,111.5 96.9,109.9 97.7,108.3 98.5,106.6 99.3,105.0 100.2,103.4 101.1,101.8 102.0,100.2 103.0,98.6 104.0,97.0 105.1,95.4 106.2,93.8 107.3,92.2 108.4,90.6 109.5,88.9 110.7,87.2 111.9,85.6 113.1,83.9 114.4,82.2 115.7,80.6 117.1,78.9 118.5,77.3 120.0,75.7 121.5,74.2 123.0,72.7 124.7,71.2 126.3,69.8 128.0,68.4 129.8,67.1 131.5,65.9 133.4,64.7 135.3,63.6 137.2,62.5 139.1,61.5 141.1,60.5 143.1,59.6 145.1,58.9 147.2,58.3 149.3,57.8 151.4,57.5 153.6,57.3 155.7,57.3 157.9,57.3 160.0,57.6 162.1,57.9 164.3,58.2 166.4,58.7 168.4,59.2 170.5,59.8 172.6,60.4 174.6,61.0 176.6,61.8 178.6,62.5 180.6,63.3 182.5,64.1 184.5,64.9 186.4,65.8 188.3,66.7 190.1,67.6 192.0,68.5 193.8,69.5 195.6,70.5 197.4,71.5 199.1,72.5 200.9,73.5 202.6,74.6 204.3,75.7 206.0,76.8 207.6,77.9 209.2,79.0 210.8,80.3 212.4,81.5 213.9,82.8 215.3,84.2 216.7,85.6 218.1,87.0 219.4,88.5 220.7,90.0 222.0,91.5 223.2,93.0 224.4,94.6 225.5,96.1 226.6,97.7 227.7,99.3 228.8,100.9 229.8,102.5 230.8,104.1 231.7,105.7 232.6,107.4 233.6,109.0 234.4,110.6 235.3,112.2 236.2,113.8 237.1,115.3 238.0,116.9 238.8,118.4 239.6,120.0 240.5,121.5 241.2,123.1 242.0,124.7 242.7,126.3 243.4,127.9 244.0,129.5 244.5,131.2 245.0,132.9 245.4,134.6 245.7,136.3 246.0,138.1 246.2,139.8 246.4,141.5 246.6,143.2 246.8,144.9 246.9,146.6 247.1,148.3 247.2,150.0 247.3,151.6 247.4,153.3 247.4,154.9 247.5,156.6 247.6,158.2 247.6,159.8 247.6,161.4 247.7,163.0 247.7,164.5 247.7,166.1 247.6,167.7 247.6,169.2 247.6,170.8 247.5,172.3 247.5,173.9 247.4,175.4 247.3,177.0 247.2,178.5 247.1,180.0 246.9,181.5 246.8,183.0 246.6,184.5 246.4,186.0 246.2,187.5 246.0,189.0 245.7,190.5 245.4,192.0 245.1,193.5 244.7,194.9 244.4,196.4 244.0,197.8 243.6,199.3 243.1,200.7 242.7,202.2 242.3,203.6 241.8,205.0 241.4,206.4 240.9,207.8 240.4,209.3 239.9,210.7 239.4,212.1 238.8,213.5 238.3,214.9 237.7,216.2 237.1,217.6 236.5,219.0 235.8,220.3 235.2,221.7 234.5,223.0 233.7,224.3 232.9,225.6 232.1,226.9 231.3,228.1 230.4,229.3 229.5,230.5 228.6,231.7 227.7,232.9 226.7,234.0 225.8,235.2 224.8,236.3 223.9,237.5 222.9,238.7 222.0,239.8 221.0,241.0 220.1,242.2 219.2,243.4 218.2,244.7 217.3,245.9 216.3,247.1 215.3,248.3 214.4,249.6 213.4,250.8 212.4,252.1 211.3,253.3 210.3,254.6 209.2,255.8 208.1,257.1 207.0,258.3 205.9,259.6 204.8,260.8 203.6,262.1 202.5,263.3 201.3,264.6 200.0,265.9 198.8,267.1 197.5,268.4 196.2,269.6 194.9,270.9 193.5,272.1 192.1,273.3 190.7,274.5 189.2,275.6 187.7,276.7 186.2,277.9 184.7,278.9 183.1,280.0 181.5,281.0 179.8,282.0 178.2,283.0 176.5,284.0 174.8,285.0 173.0,285.9 171.2,286.8 169.4,287.6 167.6,288.4 165.7,289.1 163.8,289.8 161.9,290.4 160.0,291.0 158.1,291.5 156.1,291.9 154.1,292.3 152.1,292.5 150.1,292.6 148.2,292.7 146.2,292.6 144.2,292.4 142.3,292.0 140.3,291.6 138.5,290.8 136.7,289.8 134.9,288.7 133.2,287.5 131.5,286.3 129.9,285.1 128.3,283.8 126.7,282.4 125.2,281.0 123.8,279.5 122.4,278.0 121.0,276.5 119.7,274.9 118.4,273.4 117.1,272.0 115.8,270.5 114.6,269.2 113.3,267.8 112.1,266.5 110.8,265.2 109.6,263.9 108.3,262.7 107.1,261.4 106.0,260.1 104.8,258.8 103.7,257.4 102.7,256.0 101.7,254.6 100.8,253.1 99.9,251.6 99.0,250.1 98.2,248.6 97.5,247.1 96.8,245.5 96.1,243.9 95.4,242.4 94.8,240.8 94.2,239.3 93.6,237.8 93.0,236.2 92.4,234.7 91.9,233.2 91.3,231.7 90.8,230.3 90.3,228.8 89.8,227.4 89.3,225.9 88.8,224.5 88.3,223.1 87.9,221.6 87.4,220.2 87.0,218.8 86.6,217.4 86.2,216.0 85.8,214.6 85.5,213.2 85.1,211.8 84.8,210.4 84.5,209.0 84.2,207.6 84.0,206.2 83.8,204.8 83.5,203.4 83.3,202.0 83.2,200.6 83.0,199.2 82.9,197.8 82.7,196.4 82.6,195.0 82.5,193.7 82.4,192.3 82.3,190.9 82.2,189.5 82.2,188.2 82.1,186.8 82.1,185.4 82.0,184.1 82.0,182.7 82.0,181.4" fill="#ffff83"/>
<polygon points="82.7,180.0 82.7,178.7 82.7,177.3 82.7,175.9 82.7,174.6 82.8,173.2 82.8,171.9 82.9,170.5 82.9,169.2 83.0,167.8 83.1,166.4 83.2,165.1 83.3,163.7 83.4,162.3 83.5,160.9 83.7,159.5 83.8,158.2 84.0,156.7 84.1,155.3 84.3,153.9 84.5,152.5 84.7,151.1 84.9,149.7 85.1,148.2 85.4,146.8 85.7,145.3 86.0,143.9 86.3,142.5 86.7,141.0 87.0,139.6 87.4,138.1 87.9,136.7 88.3,135.2 88.7,133.7 89.2,132.2 89.7,130.8 90.2,129.3 90.7,127.8 91.2,126.3 91.7,124.7 92.3,123.2 92.9,121.6 93.4,120.1 94.0,118.5 94.7,116.9 95.3,115.3 96.0,113.7 96.7,112.1 97.4,110.5 98.1,108.8 98.9,107.2 99.8,105.6 100.6,104.0 101.5,102.4 102.5,100.8 103.5,99.3 104.5,97.7 105.5,96.1 106.6,94.5 107.7,92.9 108.8,91.3 109.9,89.6 111.1,88.0 112.3,86.3 113.5,84.7 114.8,83.0 116.1,81.4 117.4,79.7 118.8,78.1 120.3,76.6 121.8,75.0 123.3,73.5 124.9,72.1 126.6,70.7 128.3,69.4 130.0,68.1 131.8,66.8 133.6,65.6 135.5,64.5 137.3,63.4 139.3,62.4 141.2,61.4 143.2,60.6 145.2,59.8 147.3,59.2 149.4,58.7 151.5,58.4 153.6,58.2 155.7,58.2 157.9,58.3 160.0,58.5 162.1,58.8 164.2,59.1 166.3,59.6 168.4,60.1 170.4,60.7 172.5,61.3 174.5,61.9 176.5,62.6 178.5,63.3 180.4,64.1 182.4,64.9 184.3,65.7 186.2,66.6 188.1,67.4 189.9,68.3 191.8,69.3 193.6,70.2 195.4,71.2 197.1,72.2 198.9,73.2 200.6,74.2 202.3,75.2 204.0,76.2 205.7,77.3 207.4,78.4 209.0,79.6 210.6,80.8 212.1,82.0 213.6,83.3 215.0,84.7 216.5,86.0 217.8,87.5 219.1,88.9 220.4,90.4 221.7,91.9 222.9,93.4 224.1,95.0 225.2,96.5 226.3,98.1 227.4,99.7 228.5,101.3 229.5,102.9 230.4,104.5 231.4,106.1 232.3,107.7 233.2,109.3 234.1,110.9 235.0,112.5 235.9,114.0 236.8,115.6 237.7,117.1 238.5,118.7 239.4,120.2 240.2,121.7 241.0,123.3 241.7,124.9 242.4,126.5 243.1,128.1 243.7,129.7 244.2,131.4 244.7,133.1 245.1,134.8 245.4,136.5 245.7,138.2 245.9,139.9 246.1,141.6 246.3,143.4 246.5,145.1 246.6,146.7 246.7,148.4 246.9,150.1 247.0,151.7 247.1,153.4 247.1,155.0 247.2,156.6 247.3,158.2 247.3,159.8 247.3,161.4 247.3,163.0 247.3,164.6 247.3,166.2 247.3,167.7 247.3,169.3 247.3,170.8 247.2,172.4 247.1,173.9 247.1,175.4 247.0,177.0 246.9,178.5 246.8,180.0 246.6,181.5 246.5,183.0 246.3,184.5 246.1,186.0 245.9,187.5 245.7,189.0 245.4,190.5 245.1,192.0 244.8,193.4 244.4,194.9 244.1,196.3 243.7,197.8 243.3,199.2 242.8,200.7 242.4,202.1 242.0,203.5 241.5,204.9 241.1,206.3 240.6,207.7 240.1,209.2 239.6,210.6 239.1,211.9 238.5,213.3 238.0,214.7 237.4,216.1 236.8,217.5 236.2,218.8 235.5,220.2 234.9,221.5 234.2,222.8 233.4,224.1 232.6,225.4 231.8,226.6 231.0,227.9 230.1,229.1 229.2,230.3 228.3,231.5 227.3,232.6 226.4,233.8 225.4,234.9 224.5,236.0 223.5,237.2 222.6,238.4 221.6,239.5 220.7,240.7 219.8,241.9 218.8,243.1 217.9,244.3 217.0,245.5 216.0,246.7 215.0,248.0 214.1,249.2 213.1,250.4 212.1,251.7 211.1,252.9 210.0,254.2 209.0,255.4 207.9,256.6 206.8,257.9 205.7,259.1 204.6,260.4 203.4,261.6 202.2,262.9 201.1,264.2 199.8,265.4 198.6,266.7 197.3,268.0 196.0,269.2 194.7,270.4 193.4,271.6 192.0,272.8 190.5,274.0 189.1,275.2 187.6,276.3 186.1,277.4 184.5,278.4 183.0,279.5 181.4,280.5 179.7,281.5 178.1,282.5 176.4,283.5 174.7,284.4 172.9,285.3 171.2,286.2 169.4,287.0 167.5,287.7 165.7,288.4 163.8,289.1 161.9,289.7 160.0,290.2 158.1,290.7 156.1,291.1 154.2,291.4 152.2,291.6 150.2,291.7 148.3,291.7 146.3,291.5 144.4,291.3 142.4,290.9 140.5,290.4 138.7,289.7 136.9,288.7 135.1,287.7 133.4,286.5 131.8,285.4 130.1,284.1 128.6,282.9 127.0,281.5 125.5,280.1 124.1,278.7 122.7,277.2 121.3,275.7 120.0,274.2 118.7,272.7 117.5,271.2 116.2,269.8 114.9,268.4 113.7,267.1 112.4,265.8 111.2,264.5 110.0,263.3 108.7,262.0 107.5,260.8 106.4,259.5 105.2,258.2 104.1,256.9 103.1,255.5 102.1,254.1 101.2,252.6 100.3,251.1 99.5,249.6 98.7,248.1 97.9,246.6 97.2,245.0 96.5,243.5 95.9,241.9 95.3,240.4 94.7,238.8 94.1,237.3 93.5,235.8 92.9,234.3 92.4,232.8 91.9,231.3 91.3,229.9 90.8,228.4 90.3,227.0 89.8,225.6 89.4,224.1 88.9,222.7 88.5,221.3 88.0,219.9 87.6,218.5 87.2,217.1 86.8,215.7 86.4,214.3 86.1,212.9 85.7,211.5 85.4,210.1 85.1,208.7 84.9,207.3 84.6,206.0 84.4,204.6 84.2,203.2 84.0,201.8 83.8,200.4 83.6,199.0 83.5,197.7 83.4,196.3 83.2,194.9 83.1,193.6 83.0,192.2 83.0,190.8 82.9,189.5 82.8,188.1 82.8,186.8 82.7,185.4 82.7,184.1 82.7,182.7 82.7,181.3" fill="#ffffa2"/>
<polygon points="83.3,180.0 83.3,178.7 83.3,177.3 83.4,176.0 83.4,174.6 83.4,173.3 83.5,172.0 83.5,170.6 83.6,169.3 83.7,167.9 83.8,166.6 83.8,165.2 83.9,163.8 84.1,162.5 84.2,161.1 84.3,159.7 84.4,158.3 84.6,156.9 84.7,155.5 84.9,154.1 85.1,152.7 85.3,151.3 85.5,149.9 85.8,148.5 86.0,147.1 86.3,145.6 86.6,144.2 86.9,142.8 87.3,141.3 87.7,139.9 88.1,138.5 88.5,137.0 88.9,135.6 89.4,134.1 89.8,132.7 90.3,131.2 90.8,129.7 91.3,128.2 91.8,126.7 92.3,125.2 92.9,123.7 93.4,122.1 94.0,120.6 94.6,119.0 95.2,117.4 95.8,115.8 96.5,114.2 97.1,112.6 97.9,111.0 98.6,109.4 99.4,107.8 100.2,106.2 101.1,104.6 102.0,103.0 102.9,101.5 103.9,99.9 104.9,98.3 105.9,96.8 107.0,95.2 108.1,93.6 109.2,92.0 110.3,90.3 111.4,88.7 112.6,87.0 113.9,85.4 115.1,83.8 116.4,82.1 117.8,80.5 119.2,78.9 120.6,77.4 122.1,75.9 123.6,74.4 125.2,73.0 126.9,71.6 128.5,70.3 130.3,69.0 132.0,67.8 133.8,66.6 135.7,65.4 137.5,64.4 139.4,63.3 141.4,62.4 143.3,61.5 145.4,60.7 147.4,60.1 149.5,59.6 151.6,59.3 153.7,59.1 155.8,59.1 157.9,59.2 160.0,59.4 162.1,59.7 164.2,60.0 166.3,60.5 168.3,61.0 170.4,61.5 172.4,62.1 174.4,62.8 176.4,63.5 178.3,64.2 180.3,64.9 182.2,65.7 184.1,66.5 186.0,67.3 187.9,68.2 189.7,69.1 191.5,70.0 193.4,70.9 195.1,71.9 196.9,72.8 198.7,73.8 200.4,74.8 202.1,75.8 203.8,76.8 205.5,77.9 207.1,79.0 208.7,80.1 210.3,81.3 211.8,82.5 213.3,83.8 214.8,85.1 216.2,86.5 217.5,87.9 218.9,89.4 220.1,90.8 221.4,92.3 222.6,93.8 223.8,95.4 224.9,96.9 226.0,98.5 227.1,100.0 228.1,101.6 229.1,103.2 230.1,104.8 231.1,106.4 232.0,108.0 232.9,109.6 233.8,111.2 234.7,112.7 235.6,114.3 236.5,115.8 237.4,117.4 238.2,118.9 239.1,120.4 239.9,121.9 240.7,123.5 241.5,125.1 242.2,126.6 242.8,128.2 243.4,129.9 243.9,131.5 244.4,133.2 244.8,134.9 245.1,136.6 245.4,138.3 245.6,140.1 245.8,141.8 246.0,143.5 246.2,145.2 246.3,146.9 246.4,148.5 246.6,150.2 246.7,151.8 246.7,153.5 246.8,155.1 246.9,156.7 246.9,158.3 247.0,159.9 247.0,161.5 247.0,163.1 247.0,164.7 247.0,166.2 247.0,167.8 247.0,169.3 246.9,170.9 246.9,172.4 246.8,173.9 246.8,175.5 246.7,177.0 246.6,178.5 246.4,180.0 246.3,181.5 246.2,183.0 246.0,184.5 245.8,186.0 245.6,187.5 245.4,189.0 245.1,190.4 244.8,191.9 244.5,193.4 244.1,194.8 243.8,196.3 243.4,197.7 243.0,199.2 242.6,200.6 242.1,202.0 241.7,203.4 241.2,204.8 240.8,206.2 240.3,207.6 239.8,209.0 239.3,210.4 238.8,211.8 238.2,213.2 237.7,214.6 237.1,216.0 236.5,217.3 235.9,218.7 235.3,220.0 234.6,221.3 233.9,222.6 233.1,223.9 232.3,225.2 231.5,226.5 230.7,227.7 229.8,228.9 228.9,230.0 228.0,231.2 227.0,232.4 226.1,233.5 225.1,234.6 224.1,235.8 223.2,236.9 222.2,238.0 221.3,239.2 220.4,240.4 219.4,241.6 218.5,242.7 217.6,244.0 216.6,245.2 215.7,246.4 214.7,247.6 213.8,248.8 212.8,250.1 211.8,251.3 210.8,252.5 209.7,253.7 208.7,255.0 207.6,256.2 206.5,257.5 205.4,258.7 204.3,260.0 203.2,261.2 202.0,262.5 200.8,263.7 199.6,265.0 198.4,266.3 197.1,267.5 195.9,268.8 194.5,270.0 193.2,271.2 191.8,272.4 190.4,273.6 189.0,274.7 187.5,275.8 186.0,276.9 184.4,278.0 182.9,279.0 181.3,280.0 179.6,281.0 178.0,282.0 176.3,282.9 174.6,283.8 172.9,284.7 171.1,285.6 169.3,286.3 167.5,287.1 165.6,287.8 163.8,288.4 161.9,289.0 160.0,289.5 158.1,289.9 156.1,290.3 154.2,290.5 152.3,290.7 150.3,290.8 148.4,290.7 146.4,290.5 144.5,290.2 142.6,289.8 140.7,289.3 138.9,288.5 137.1,287.6 135.4,286.6 133.7,285.6 132.0,284.4 130.4,283.2 128.8,282.0 127.3,280.7 125.8,279.3 124.4,277.9 123.0,276.4 121.7,274.9 120.4,273.4 119.1,271.9 117.8,270.5 116.6,269.1 115.3,267.7 114.1,266.4 112.8,265.1 111.6,263.9 110.3,262.7 109.1,261.4 107.9,260.2 106.8,258.9 105.6,257.7 104.5,256.3 103.5,255.0 102.5,253.5 101.6,252.1 100.7,250.6 99.9,249.1 99.1,247.6 98.4,246.1 97.7,244.5 97.0,243.0 96.4,241.5 95.7,239.9 95.1,238.4 94.6,236.9 94.0,235.4 93.5,233.9 92.9,232.4 92.4,230.9 91.9,229.5 91.4,228.1 90.9,226.6 90.4,225.2 89.9,223.8 89.5,222.4 89.0,221.0 88.6,219.6 88.2,218.2 87.8,216.8 87.4,215.4 87.0,214.0 86.7,212.6 86.4,211.3 86.1,209.9 85.8,208.5 85.5,207.1 85.2,205.7 85.0,204.4 84.8,203.0 84.6,201.6 84.4,200.3 84.3,198.9 84.1,197.5 84.0,196.2 83.9,194.8 83.8,193.4 83.7,192.1 83.6,190.7 83.5,189.4 83.5,188.0 83.4,186.7 83.4,185.4 83.4,184.0 83.3,182.7 83.3,181.3" fill="#ffffc1"/>
<polygon points="84.0,180.0 84.0,178.7 84.0,177.3 84.0,176.0 84.0,174.7 84.1,173.4 84.1,172.0 84.2,170.7 84.2,169.4 84.3,168.0 84.4,166.7 84.5,165.3 84.6,164.0 84.7,162.6 84.8,161.3 84.9,159.9 85.1,158.5 85.2,157.1 85.4,155.7 85.5,154.4 85.7,153.0 85.9,151.6 86.1,150.2 86.4,148.7 86.6,147.3 86.9,145.9 87.2,144.5 87.5,143.1 87.9,141.7 88.3,140.2 88.7,138.8 89.1,137.4 89.5,136.0 90.0,134.5 90.4,133.1 90.9,131.6 91.4,130.1 91.9,128.7 92.4,127.2 92.9,125.6 93.4,124.1 94.0,122.6 94.5,121.0 95.1,119.5 95.7,117.9 96.3,116.3 97.0,114.7 97.6,113.1 98.3,111.5 99.1,109.9 99.9,108.3 100.7,106.8 101.5,105.2 102.4,103.6 103.4,102.1 104.3,100.5 105.3,99.0 106.4,97.4 107.4,95.8 108.5,94.2 109.6,92.6 110.7,91.0 111.8,89.4 113.0,87.8 114.2,86.1 115.5,84.5 116.8,82.9 118.1,81.3 119.5,79.7 120.9,78.2 122.4,76.7 123.9,75.3 125.5,73.9 127.1,72.5 128.8,71.2 130.5,69.9 132.2,68.7 134.0,67.5 135.8,66.4 137.7,65.3 139.6,64.2 141.5,63.3 143.5,62.4 145.5,61.6 147.5,61.0 149.5,60.5 151.6,60.2 153.7,60.0 155.8,60.0 157.9,60.1 160.0,60.3 162.1,60.6 164.2,60.9 166.2,61.4 168.3,61.8 170.3,62.4 172.3,63.0 174.3,63.6 176.3,64.3 178.2,65.0 180.2,65.7 182.1,66.5 184.0,67.3 185.8,68.1 187.7,68.9 189.5,69.8 191.3,70.7 193.1,71.6 194.9,72.5 196.7,73.5 198.4,74.4 200.1,75.4 201.9,76.4 203.5,77.4 205.2,78.4 206.9,79.5 208.5,80.6 210.0,81.8 211.6,83.0 213.1,84.3 214.5,85.6 215.9,86.9 217.3,88.3 218.6,89.8 219.9,91.3 221.1,92.7 222.3,94.2 223.5,95.8 224.6,97.3 225.7,98.9 226.8,100.4 227.8,102.0 228.8,103.6 229.8,105.1 230.8,106.7 231.7,108.3 232.6,109.9 233.5,111.4 234.4,113.0 235.3,114.5 236.2,116.1 237.1,117.6 237.9,119.1 238.8,120.6 239.6,122.1 240.4,123.7 241.2,125.2 241.9,126.8 242.6,128.4 243.1,130.0 243.7,131.7 244.1,133.4 244.5,135.1 244.8,136.8 245.1,138.5 245.4,140.2 245.6,141.9 245.7,143.6 245.9,145.3 246.0,147.0 246.1,148.6 246.3,150.3 246.4,151.9 246.4,153.6 246.5,155.2 246.6,156.8 246.6,158.4 246.7,160.0 246.7,161.6 246.7,163.1 246.7,164.7 246.7,166.3 246.7,167.8 246.7,169.4 246.6,170.9 246.6,172.4 246.5,173.9 246.4,175.5 246.4,177.0 246.3,178.5 246.1,180.0 246.0,181.5 245.9,183.0 245.7,184.5 245.5,186.0 245.3,187.5 245.1,188.9 244.8,190.4 244.5,191.9 244.2,193.3 243.9,194.8 243.5,196.2 243.1,197.7 242.7,199.1 242.3,200.5 241.8,201.9 241.4,203.3 240.9,204.7 240.5,206.2 240.0,207.5 239.5,208.9 239.0,210.3 238.5,211.7 238.0,213.1 237.4,214.5 236.8,215.8 236.2,217.2 235.6,218.5 235.0,219.9 234.3,221.2 233.6,222.5 232.8,223.8 232.0,225.0 231.2,226.3 230.4,227.5 229.5,228.7 228.6,229.8 227.6,231.0 226.7,232.1 225.7,233.2 224.8,234.3 223.8,235.5 222.9,236.6 221.9,237.7 221.0,238.9 220.0,240.0 219.1,241.2 218.2,242.4 217.3,243.6 216.3,244.8 215.4,246.0 214.4,247.2 213.5,248.5 212.5,249.7 211.5,250.9 210.5,252.1 209.5,253.3 208.4,254.6 207.4,255.8 206.3,257.0 205.2,258.3 204.1,259.5 203.0,260.8 201.8,262.0 200.6,263.3 199.4,264.6 198.2,265.8 197.0,267.1 195.7,268.3 194.4,269.6 193.0,270.8 191.7,271.9 190.3,273.1 188.8,274.2 187.3,275.3 185.8,276.4 184.3,277.5 182.7,278.5 181.2,279.5 179.5,280.5 177.9,281.4 176.2,282.4 174.5,283.3 172.8,284.1 171.0,285.0 169.3,285.7 167.4,286.5 165.6,287.1 163.8,287.7 161.9,288.3 160.0,288.7 158.1,289.1 156.2,289.5 154.3,289.7 152.3,289.8 150.4,289.8 148.5,289.7 146.6,289.5 144.7,289.2 142.8,288.7 140.9,288.2 139.1,287.4 137.4,286.6 135.6,285.6 133.9,284.6 132.3,283.5 130.7,282.3 129.1,281.1 127.6,279.8 126.1,278.5 124.7,277.1 123.3,275.6 122.0,274.1 120.7,272.6 119.4,271.2 118.2,269.7 116.9,268.3 115.7,267.0 114.4,265.7 113.2,264.4 112.0,263.2 110.7,262.0 109.5,260.8 108.3,259.6 107.1,258.4 106.0,257.1 104.9,255.8 103.9,254.4 102.9,253.0 102.0,251.6 101.2,250.1 100.3,248.6 99.6,247.1 98.8,245.6 98.1,244.1 97.5,242.5 96.8,241.0 96.2,239.5 95.6,237.9 95.1,236.4 94.5,234.9 94.0,233.5 93.4,232.0 92.9,230.5 92.4,229.1 91.9,227.7 91.4,226.3 91.0,224.8 90.5,223.4 90.0,222.0 89.6,220.6 89.2,219.3 88.8,217.9 88.4,216.5 88.0,215.1 87.6,213.7 87.3,212.4 87.0,211.0 86.7,209.6 86.4,208.3 86.1,206.9 85.9,205.5 85.6,204.2 85.4,202.8 85.2,201.4 85.0,200.1 84.9,198.7 84.7,197.4 84.6,196.0 84.5,194.7 84.4,193.3 84.3,192.0 84.2,190.6 84.2,189.3 84.1,188.0 84.1,186.6 84.0,185.3 84.0,184.0 84.0,182.7 84.0,181.3" fill="#ffffe0"/>
<polygon points="84.6,180.0 84.6,178.7 84.6,177.4 84.7,176.1 84.7,174.7 84.7,173.4 84.8,172.1 84.8,170.8 84.9,169.4 85.0,168.1 85.0,166.8 85.1,165.4 85.2,164.1 85.3,162.8 85.4,161.4 85.6,160.1 85.7,158.7 85.8,157.3 86.0,156.0 86.1,154.6 86.3,153.2 86.5,151.8 86.7,150.4 87.0,149.0 87.2,147.6 87.5,146.2 87.8,144.8 88.1,143.4 88.5,142.0 88.9,140.6 89.3,139.2 89.7,137.7 90.1,136.3 90.6,134.9 91.0,133.5 91.5,132.0 92.0,130.6 92.4,129.1 92.9,127.6 93.4,126.1 94.0,124.6 94.5,123.1 95.0,121.5 95.6,120.0 96.2,118.4 96.8,116.8 97.5,115.2 98.1,113.6 98.8,112.1 99.6,110.5 100.3,108.9 101.1,107.3 102.0,105.8 102.9,104.2 103.8,102.7 104.8,101.1 105.8,99.6 106.8,98.0 107.8,96.5 108.9,94.9 110.0,93.3 111.1,91.7 112.2,90.1 113.4,88.5 114.6,86.9 115.8,85.2 117.1,83.6 118.4,82.1 119.8,80.5 121.2,79.0 122.7,77.6 124.2,76.1 125.8,74.7 127.4,73.4 129.1,72.1 130.7,70.8 132.5,69.6 134.2,68.4 136.0,67.3 137.9,66.2 139.7,65.1 141.7,64.2 143.6,63.3 145.6,62.5 147.6,61.9 149.6,61.4 151.7,61.1 153.8,60.9 155.8,60.8 157.9,60.9 160.0,61.1 162.1,61.4 164.1,61.8 166.2,62.2 168.2,62.7 170.2,63.2 172.2,63.8 174.2,64.4 176.1,65.1 178.1,65.8 180.0,66.5 181.9,67.3 183.8,68.0 185.7,68.8 187.5,69.7 189.3,70.5 191.1,71.4 192.9,72.3 194.7,73.2 196.5,74.1 198.2,75.1 199.9,76.0 201.6,77.0 203.3,78.0 205.0,79.0 206.6,80.0 208.2,81.1 209.8,82.3 211.3,83.5 212.8,84.7 214.3,86.0 215.7,87.4 217.0,88.8 218.3,90.2 219.6,91.7 220.8,93.1 222.0,94.6 223.2,96.2 224.3,97.7 225.4,99.2 226.5,100.8 227.5,102.3 228.5,103.9 229.5,105.5 230.5,107.0 231.4,108.6 232.3,110.2 233.2,111.7 234.1,113.3 235.0,114.8 235.9,116.3 236.8,117.8 237.7,119.3 238.5,120.8 239.4,122.3 240.2,123.9 240.9,125.4 241.6,127.0 242.3,128.6 242.9,130.2 243.4,131.9 243.9,133.5 244.2,135.2 244.6,136.9 244.8,138.6 245.1,140.3 245.3,142.0 245.4,143.7 245.6,145.4 245.7,147.1 245.8,148.8 246.0,150.4 246.1,152.0 246.1,153.7 246.2,155.3 246.3,156.9 246.3,158.5 246.4,160.1 246.4,161.6 246.4,163.2 246.4,164.8 246.4,166.3 246.4,167.9 246.4,169.4 246.3,170.9 246.3,172.5 246.2,174.0 246.1,175.5 246.1,177.0 245.9,178.5 245.8,180.0 245.7,181.5 245.6,183.0 245.4,184.5 245.2,186.0 245.0,187.4 244.8,188.9 244.5,190.4 244.2,191.8 243.9,193.3 243.6,194.7 243.2,196.2 242.8,197.6 242.4,199.0 242.0,200.4 241.6,201.9 241.1,203.3 240.7,204.7 240.2,206.1 239.7,207.5 239.2,208.8 238.7,210.2 238.2,211.6 237.7,213.0 237.1,214.3 236.6,215.7 236.0,217.1 235.3,218.4 234.7,219.7 234.0,221.0 233.3,222.3 232.5,223.6 231.8,224.8 230.9,226.1 230.1,227.3 229.2,228.4 228.3,229.6 227.3,230.7 226.4,231.8 225.4,233.0 224.4,234.1 223.5,235.2 222.5,236.3 221.6,237.4 220.7,238.6 219.7,239.7 218.8,240.9 217.9,242.1 217.0,243.3 216.0,244.5 215.1,245.7 214.2,246.9 213.2,248.1 212.2,249.3 211.2,250.5 210.2,251.7 209.2,253.0 208.2,254.2 207.1,255.4 206.0,256.6 205.0,257.9 203.9,259.1 202.7,260.4 201.6,261.6 200.4,262.9 199.2,264.1 198.0,265.4 196.8,266.7 195.5,267.9 194.2,269.1 192.9,270.3 191.5,271.5 190.1,272.7 188.7,273.8 187.2,274.9 185.7,276.0 184.2,277.0 182.6,278.0 181.0,279.0 179.4,280.0 177.8,280.9 176.1,281.8 174.4,282.7 172.7,283.6 171.0,284.4 169.2,285.1 167.4,285.8 165.6,286.5 163.7,287.1 161.9,287.6 160.0,288.0 158.1,288.4 156.2,288.7 154.3,288.9 152.4,288.9 150.5,288.9 148.6,288.8 146.7,288.5 144.8,288.2 142.9,287.7 141.1,287.0 139.3,286.3 137.6,285.5 135.8,284.6 134.2,283.6 132.5,282.6 130.9,281.4 129.4,280.2 127.8,279.0 126.4,277.6 125.0,276.3 123.6,274.8 122.3,273.4 121.0,271.9 119.7,270.4 118.5,269.0 117.3,267.6 116.0,266.3 114.8,265.0 113.6,263.8 112.3,262.6 111.1,261.4 109.9,260.2 108.7,259.0 107.5,257.8 106.4,256.5 105.3,255.2 104.3,253.9 103.4,252.5 102.4,251.1 101.6,249.6 100.8,248.1 100.0,246.6 99.3,245.1 98.6,243.6 97.9,242.1 97.3,240.5 96.7,239.0 96.1,237.5 95.6,236.0 95.0,234.5 94.5,233.1 94.0,231.6 93.4,230.2 92.9,228.7 92.4,227.3 92.0,225.9 91.5,224.5 91.0,223.1 90.6,221.7 90.2,220.3 89.8,218.9 89.4,217.6 89.0,216.2 88.6,214.8 88.2,213.5 87.9,212.1 87.6,210.7 87.3,209.4 87.0,208.0 86.7,206.7 86.5,205.3 86.3,204.0 86.0,202.6 85.8,201.3 85.7,199.9 85.5,198.6 85.4,197.2 85.2,195.9 85.1,194.6 85.0,193.2 85.0,191.9 84.9,190.6 84.8,189.2 84.8,187.9 84.7,186.6 84.7,185.3 84.7,183.9 84.6,182.6 84.6,181.3" fill="#ffffff"/>
</g>
<filter id="nz" x="0" y="0" width="1" height="1"><feTurbulence type="fractalNoise" baseFrequency="0.3" numOctaves="2" seed="5" result="n"/><feDisplacementMap in="SourceGraphic" in2="n" scale="5" xChannelSelector="R" yChannelSelector="G"/></filter>
<linearGradient id="gmx" x1="95" y1="0" x2="135" y2="0" gradientUnits="userSpaceOnUse"><stop offset="0" stop-color="#000"/><stop offset="1" stop-color="#fff"/></linearGradient>
<linearGradient id="gmy" x1="0" y1="65" x2="0" y2="105" gradientUnits="userSpaceOnUse"><stop offset="0" stop-color="#fff" stop-opacity="1"/><stop offset="1" stop-color="#fff" stop-opacity="0"/></linearGradient>
<linearGradient id="gmb" x1="0" y1="235" x2="0" y2="268" gradientUnits="userSpaceOnUse"><stop offset="0" stop-color="#000" stop-opacity="0"/><stop offset="1" stop-color="#000" stop-opacity="1"/></linearGradient>
<mask id="mnz" maskUnits="userSpaceOnUse" x="0" y="0" width="300" height="450"><rect x="0" y="0" width="300" height="450" fill="url(#gmx)"/><rect x="0" y="0" width="300" height="450" fill="url(#gmy)"/><rect x="0" y="0" width="300" height="450" fill="url(#gmb)"/></mask>
<g mask="url(#mnz)"><use href="#lay" filter="url(#nz)"/></g>
</g>
<path d="M129.7 345.8 L54.5 401.3" stroke="#6a0000" stroke-width="0.8" fill="none"/>
<path d="M129.7 345.8 L196.5 434" stroke="#6a0000" stroke-width="0.8" fill="none"/>
<path d="M82.0 307.8 L83.5 310.0 L85.1 312.3 L86.7 314.5 L88.2 316.8 L89.8 319.0 L91.2 321.2 L92.6 323.4 L93.9 325.6 L94.9 327.5 L95.9 329.3 L96.9 331.2 L97.8 333.0 L98.6 334.8 L99.4 336.6 L100.0 338.3 L100.6 340.0 L101.0 341.3 L101.3 342.5 L101.6 343.7 L101.8 344.9 L102.0 346.1 L102.1 347.3 L102.2 348.5 L102.3 349.7 L102.3 350.9 L102.3 352.1 L102.3 353.3 L102.2 354.6 L102.0 355.8 L101.9 357.0 L101.7 358.2 L101.5 359.4 L101.3 360.6 L101.0 361.9 L100.7 363.1 L100.4 364.3 L100.1 365.6 L99.7 366.8 L99.4 368.0 L99.0 369.2 L98.6 370.3 L98.3 371.5 L97.9 372.6 L97.4 373.7 L97.0 374.8 L96.6 375.9 L96.2 377.0 L95.8 378.1" stroke="#ff1010" stroke-width="1.4" fill="none"/>
<path d="M180.0 334.5 L178.8 336.5 L177.5 338.6 L176.3 340.6 L175.0 342.6 L173.8 344.6 L172.6 346.7 L171.5 348.8 L170.4 350.9 L169.4 353.2 L168.4 355.5 L167.4 357.8 L166.5 360.2 L165.7 362.6 L164.9 365.0 L164.1 367.4 L163.3 369.9 L162.5 372.5 L161.8 375.1 L161.2 377.8 L160.5 380.5 L159.9 383.2 L159.3 385.9 L158.6 388.6 L158.0 391.3" stroke="#ff1010" stroke-width="1.4" fill="none"/>
<path d="M129.7 345.8 L129.2 344.9 L128.7 344.1 L128.2 343.2 L127.7 342.4 L127.1 341.5 L126.6 340.6 L126.1 339.8 L125.6 338.9 L125.1 338.1 L124.6 337.2 L124.1 336.3 L123.6 335.5 L123.0 334.6 L122.5 333.8 L122.0 332.9 L121.5 332.0 L121.0 331.2 L120.5 330.3 L120.0 329.5 L119.4 328.6 L118.9 327.8 L118.4 326.9 L117.9 326.0 L117.4 325.2 L116.8 324.3 L116.3 323.5 L115.8 322.6 L115.3 321.8 L114.8 320.9 L114.3 320.0 L113.8 319.2 L113.3 318.3 L112.8 317.4 L112.3 316.6 L111.8 315.7 L111.3 314.8 L110.8 314.0 L110.3 313.1 L109.8 312.2 L109.3 311.4 L108.7 310.5 L108.2 309.7 L107.7 308.8 L107.1 308.0 L106.6 307.1 L106.1 306.3 L105.5 305.5 L105.0 304.6 L104.5 303.8 L104.0 302.9 L103.5 302.0 L102.9 301.2 L102.4 300.3 L101.9 299.4 L101.4 298.6 L101.0 297.7 L100.5 296.8 L100.0 295.9 L99.6 295.0 L99.1 294.2 L98.7 293.3 L98.2 292.4 L97.8 291.4 L97.4 290.5 L97.0 289.6 L96.6 288.7 L96.2 287.8 L95.8 286.9 L95.4 286.0 L95.0 285.0 L94.6 284.1 L94.2 283.2 L93.8 282.3 L93.4 281.4 L93.0 280.5 L92.6 279.5 L92.2 278.6 L91.8 277.7 L91.4 276.8 L90.9 275.9 L90.5 275.0 L90.1 274.1 L89.7 273.1 L89.3 272.2 L88.9 271.3 L88.6 270.4 L88.2 269.5 L87.8 268.5 L87.4 267.6 L87.0 266.7 L86.6 265.8 L86.2 264.8 L85.9 263.9 L85.5 263.0 L85.1 262.1 L84.7 261.1 L84.4 260.2 L84.0 259.3 L83.7 258.3 L83.3 257.4 L83.0 256.4 L82.6 255.5 L82.3 254.6 L82.0 253.6 L81.7 252.7 L81.4 251.7 L81.1 250.7 L80.8 249.8 L80.5 248.8 L80.2 247.9 L80.0 246.9 L79.7 245.9 L79.4 245.0 L79.1 244.0 L78.9 243.1 L78.6 242.1 L78.3 241.1 L78.1 240.2 L77.8 239.2 L77.5 238.2 L77.2 237.3 L77.0 236.3 L76.7 235.4 L76.4 234.4 L76.2 233.4 L75.9 232.5 L75.6 231.5 L75.3 230.5 L75.1 229.6 L74.8 228.6 L74.5 227.7 L74.2 226.7 L74.0 225.7 L73.7 224.8 L73.5 223.8 L73.2 222.8 L73.0 221.9 L72.8 220.9 L72.6 219.9 L72.4 218.9 L72.2 217.9 L72.0 217.0 L71.8 216.0 L71.7 215.0 L71.5 214.0 L71.4 213.0 L71.2 212.0 L71.1 211.0 L71.0 210.0 L70.8 209.0 L70.7 208.0 L70.6 207.0 L70.5 206.1 L70.4 205.1 L70.3 204.1 L70.2 203.1 L70.1 202.1 L70.0 201.1 L69.9 200.1 L69.8 199.1 L69.7 198.1 L69.7 197.1 L69.6 196.1 L69.5 195.1 L69.4 194.1 L69.4 193.1 L69.3 192.1 L69.2 191.1 L69.2 190.1 L69.1 189.1 L69.0 188.1 L69.0 187.1 L69.0 186.1 L68.9 185.1 L68.9 184.1 L68.8 183.1 L68.8 182.1 L68.8 181.1 L68.8 180.1 L68.8 179.1 L68.8 178.1 L68.8 177.1 L68.8 176.1 L68.8 175.1 L68.8 174.1 L68.8 173.1 L68.9 172.1 L68.9 171.1 L68.9 170.1 L69.0 169.1 L69.0 168.1 L69.1 167.1 L69.1 166.1 L69.2 165.1 L69.2 164.1 L69.3 163.1 L69.4 162.1 L69.5 161.1 L69.5 160.1 L69.6 159.1 L69.7 158.1 L69.8 157.1 L69.9 156.1 L70.0 155.1 L70.1 154.1 L70.2 153.1 L70.3 152.1 L70.4 151.1 L70.6 150.2 L70.7 149.2 L70.8 148.2 L71.0 147.2 L71.1 146.2 L71.2 145.2 L71.4 144.2 L71.5 143.2 L71.6 142.2 L71.8 141.2 L71.9 140.2 L72.1 139.3 L72.2 138.3 L72.4 137.3 L72.6 136.3 L72.7 135.3 L72.9 134.3 L73.1 133.3 L73.2 132.3 L73.4 131.4 L73.6 130.4 L73.8 129.4 L74.0 128.4 L74.2 127.4 L74.4 126.5 L74.7 125.5 L74.9 124.5 L75.2 123.6 L75.4 122.6 L75.7 121.6 L76.0 120.7 L76.3 119.7 L76.7 118.8 L77.0 117.9 L77.4 116.9 L77.7 116.0 L78.1 115.1 L78.5 114.1 L78.8 113.2 L79.2 112.3 L79.6 111.4 L80.0 110.4 L80.4 109.5 L80.8 108.6 L81.2 107.7 L81.6 106.7 L82.0 105.8 L82.3 104.9 L82.7 104.0 L83.1 103.1 L83.5 102.2 L83.9 101.2 L84.3 100.3 L84.7 99.4 L85.1 98.5 L85.5 97.6 L85.9 96.6 L86.4 95.7 L86.8 94.8 L87.2 93.9 L87.6 93.0 L88.0 92.1 L88.5 91.2 L88.9 90.3 L89.3 89.4 L89.8 88.5 L90.2 87.6 L90.7 86.7 L91.2 85.8 L91.7 85.0 L92.1 84.1 L92.6 83.2 L93.2 82.4 L93.7 81.5 L94.2 80.7 L94.7 79.8 L95.2 78.9 L95.7 78.1 L96.3 77.2 L96.8 76.4 L97.3 75.5 L97.8 74.7 L98.4 73.8 L98.9 73.0 L99.4 72.1 L100.0 71.3 L100.5 70.5 L101.1 69.6 L101.7 68.8 L102.2 68.0 L102.8 67.2 L103.4 66.4 L104.0 65.5 L104.5 64.7 L105.1 63.9 L105.7 63.1 L106.3 62.3 L106.8 61.5 L107.4 60.6 L108.0 59.8 L108.6 59.0 L109.1 58.2 L109.7 57.3 L110.3 56.5 L110.9 55.7 L111.5 54.9 L112.1 54.1 L112.7 53.3 L113.3 52.6 L113.9 51.8 L114.6 51.0 L115.3 50.3 L115.9 49.5 L116.6 48.8 L117.3 48.1 L118.0 47.3 L118.7 46.6 L119.4 45.9 L120.1 45.2 L120.8 44.6 L121.6 43.9 L122.4 43.3 L123.2 42.7 L124.0 42.1 L124.8 41.6 L125.6 41.0 L126.5 40.5 L127.4 40.0 L128.3 39.6 L129.1 39.1 L130.0 38.7 L130.9 38.2 L131.8 37.8 L132.8 37.4 L133.7 37.0 L134.6 36.6 L135.5 36.2 L136.4 35.8 L137.3 35.4 L138.3 35.1 L139.2 34.7 L140.2 34.4 L141.1 34.1 L142.1 33.8 L143.0 33.6 L144.0 33.3 L145.0 33.1 L146.0 32.9 L146.9 32.7 L147.9 32.6 L148.9 32.4 L149.9 32.3 L150.9 32.2 L151.9 32.1 L152.9 32.1 L153.9 32.0 L154.9 32.0 L155.9 32.0 L156.9 32.0 L157.9 32.0 L158.9 32.1 L159.9 32.1 L160.9 32.2 L161.9 32.3 L162.8 32.5 L163.8 32.6 L164.8 32.8 L165.8 32.9 L166.8 33.1 L167.8 33.3 L168.7 33.6 L169.7 33.8 L170.7 34.1 L171.6 34.3 L172.6 34.6 L173.5 34.9 L174.5 35.2 L175.4 35.6 L176.4 35.9 L177.3 36.2 L178.2 36.6 L179.2 37.0 L180.1 37.4 L181.0 37.8 L181.9 38.2 L182.8 38.6 L183.7 39.1 L184.6 39.5 L185.5 40.0 L186.4 40.4 L187.3 40.9 L188.2 41.3 L189.1 41.8 L189.9 42.3 L190.8 42.8 L191.7 43.3 L192.5 43.8 L193.4 44.3 L194.3 44.8 L195.1 45.3 L196.0 45.8 L196.8 46.4 L197.7 46.9 L198.5 47.5 L199.3 48.0 L200.2 48.6 L201.0 49.2 L201.8 49.7 L202.6 50.3 L203.4 50.9 L204.2 51.5 L205.0 52.1 L205.8 52.7 L206.6 53.3 L207.4 54.0 L208.1 54.6 L208.9 55.3 L209.6 55.9 L210.4 56.6 L211.1 57.2 L211.9 57.9 L212.6 58.6 L213.3 59.3 L214.1 60.0 L214.8 60.7 L215.5 61.4 L216.2 62.1 L216.9 62.8 L217.6 63.5 L218.3 64.2 L219.0 64.9 L219.7 65.6 L220.4 66.3 L221.1 67.1 L221.8 67.8 L222.5 68.6 L223.1 69.3 L223.8 70.0 L224.5 70.8 L225.1 71.5 L225.8 72.3 L226.4 73.0 L227.1 73.8 L227.7 74.6 L228.4 75.3 L229.0 76.1 L229.7 76.9 L230.3 77.6 L231.0 78.4 L231.6 79.2 L232.2 80.0 L232.8 80.7 L233.5 81.5 L234.1 82.3 L234.7 83.1 L235.3 83.9 L235.8 84.7 L236.4 85.6 L237.0 86.4 L237.5 87.2 L238.1 88.1 L238.6 88.9 L239.1 89.8 L239.6 90.7 L240.0 91.5 L240.5 92.4 L240.9 93.3 L241.4 94.2 L241.8 95.1 L242.2 96.1 L242.6 97.0 L242.9 97.9 L243.3 98.8 L243.7 99.7 L244.1 100.7 L244.5 101.6 L244.8 102.5 L245.2 103.5 L245.6 104.4 L245.9 105.3 L246.3 106.3 L246.7 107.2 L247.0 108.1 L247.3 109.1 L247.7 110.0 L248.0 110.9 L248.4 111.9 L248.7 112.8 L249.0 113.8 L249.4 114.7 L249.7 115.6 L250.1 116.6 L250.5 117.5 L250.9 118.4 L251.3 119.3 L251.7 120.2 L252.1 121.2 L252.5 122.1 L252.9 123.0 L253.2 123.9 L253.6 124.8 L253.9 125.8 L254.2 126.7 L254.5 127.7 L254.7 128.7 L255.0 129.6 L255.2 130.6 L255.4 131.6 L255.6 132.6 L255.8 133.6 L255.9 134.5 L256.1 135.5 L256.3 136.5 L256.4 137.5 L256.6 138.5 L256.7 139.5 L256.9 140.5 L257.0 141.5 L257.1 142.5 L257.2 143.4 L257.3 144.4 L257.4 145.4 L257.5 146.4 L257.6 147.4 L257.7 148.4 L257.8 149.4 L257.8 150.4 L257.9 151.4 L257.9 152.4 L258.0 153.4 L258.0 154.4 L258.1 155.4 L258.1 156.4 L258.1 157.4 L258.1 158.4 L258.1 159.4 L258.2 160.4 L258.2 161.4 L258.2 162.4 L258.1 163.4 L258.1 164.4 L258.1 165.4 L258.1 166.4 L258.1 167.4 L258.1 168.4 L258.0 169.4 L258.0 170.4 L258.0 171.4 L257.9 172.4 L257.9 173.4 L257.8 174.4 L257.8 175.4 L257.7 176.4 L257.6 177.4 L257.5 178.4 L257.5 179.4 L257.4 180.4 L257.3 181.4 L257.1 182.4 L257.0 183.4 L256.9 184.4 L256.7 185.4 L256.6 186.4 L256.4 187.3 L256.2 188.3 L256.0 189.3 L255.8 190.3 L255.5 191.2 L255.2 192.2 L254.9 193.1 L254.6 194.1 L254.3 195.0 L254.0 196.0 L253.7 197.0 L253.4 197.9 L253.1 198.9 L252.8 199.8 L252.5 200.8 L252.3 201.7 L252.0 202.7 L251.7 203.7 L251.4 204.6 L251.2 205.6 L250.9 206.5 L250.6 207.5 L250.3 208.5 L250.0 209.4 L249.7 210.4 L249.4 211.3 L249.1 212.3 L248.7 213.2 L248.4 214.2 L248.1 215.1 L247.7 216.0 L247.3 217.0 L247.0 217.9 L246.6 218.8 L246.2 219.7 L245.8 220.7 L245.5 221.6 L245.1 222.5 L244.7 223.4 L244.3 224.3 L243.9 225.3 L243.4 226.2 L243.0 227.1 L242.6 228.0 L242.2 228.9 L241.8 229.8 L241.4 230.7 L241.0 231.6 L240.6 232.6 L240.2 233.5 L239.7 234.4 L239.3 235.3 L238.9 236.2 L238.4 237.1 L237.9 237.9 L237.4 238.8 L236.9 239.7 L236.4 240.5 L235.9 241.4 L235.4 242.2 L234.8 243.0 L234.2 243.9 L233.7 244.7 L233.1 245.5 L232.5 246.3 L231.9 247.2 L231.4 248.0 L230.8 248.8 L230.2 249.6 L229.6 250.4 L229.0 251.2 L228.4 252.0 L227.9 252.8 L227.3 253.7 L226.7 254.5 L226.1 255.3 L225.5 256.1 L224.9 256.9 L224.3 257.7 L223.7 258.5 L223.1 259.3 L222.5 260.1 L221.9 260.9 L221.3 261.7 L220.7 262.5 L220.1 263.3 L219.5 264.1 L218.9 264.9 L218.3 265.7 L217.7 266.5 L217.1 267.3 L216.4 268.0 L215.8 268.8 L215.2 269.6 L214.5 270.4 L213.9 271.1 L213.2 271.9 L212.6 272.6 L211.9 273.4 L211.3 274.2 L210.6 274.9 L209.9 275.6 L209.2 276.4 L208.6 277.1 L207.9 277.8 L207.2 278.6 L206.5 279.3 L205.8 280.0 L205.1 280.7 L204.4 281.4 L203.7 282.1 L202.9 282.8 L202.2 283.5 L201.5 284.2 L200.8 284.9 L200.1 285.6 L199.4 286.3 L198.7 287.0 L198.0 287.7 L197.3 288.4 L196.6 289.1 L195.8 289.9 L195.1 290.6 L194.4 291.3 L193.7 292.0 L193.0 292.7 L192.3 293.4 L191.6 294.1 L190.9 294.8 L190.2 295.5 L189.5 296.2 L188.8 296.9 L188.1 297.6 L187.3 298.3 L186.6 299.1 L185.9 299.8 L185.2 300.5 L184.5 301.2 L183.8 301.9 L183.1 302.6 L182.4 303.3 L181.7 304.0 L181.0 304.8 L180.3 305.5 L179.6 306.2 L178.9 306.9 L178.2 307.6 L177.5 308.3 L176.8 309.0 L176.1 309.7 L175.4 310.4 L174.6 311.1 L173.9 311.8 L173.1 312.4 L172.4 313.1 L171.6 313.7 L170.9 314.4 L170.1 315.1 L169.4 315.7 L168.6 316.4 L167.8 317.0 L167.1 317.7 L166.3 318.3 L165.6 319.0 L164.8 319.6 L164.1 320.3 L163.3 321.0 L162.6 321.6 L161.8 322.3 L161.1 323.0 L160.3 323.6 L159.6 324.3 L158.9 325.0 L158.1 325.7 L157.4 326.3 L156.7 327.0 L155.9 327.7 L155.2 328.4 L154.4 329.0 L153.7 329.7 L153.0 330.4 L152.2 331.1 L151.5 331.7 L150.7 332.4 L150.0 333.0 L149.2 333.7 L148.4 334.3 L147.6 334.9 L146.8 335.5 L146.0 336.1 L145.2 336.7 L144.4 337.3 L143.6 337.9 L142.8 338.4 L141.9 338.9 L141.1 339.5 L140.2 340.0 L139.3 340.5 L138.5 341.0 L137.6 341.5 L136.7 341.9 L135.8 342.4 L135.0 342.9 L134.1 343.4 L133.2 343.9 L132.3 344.4 L131.5 344.8 L130.6 345.3 L129.7 345.8Z" stroke="#fff" stroke-width="1.7" fill="none" stroke-dasharray="4.8 4.6"/>
</g>
<rect x="39.7" y="4.1" width="225.5" height="431.9" fill="none" stroke="#8a8a8a" stroke-width="1"/>
<text x="36.3" y="34.9" class="tk" text-anchor="end" textLength="15.90" lengthAdjust="spacingAndGlyphs">0.8</text>
<text x="36.3" y="71.9" class="tk" text-anchor="end" textLength="15.90" lengthAdjust="spacingAndGlyphs">0.6</text>
<text x="36.3" y="108.8" class="tk" text-anchor="end" textLength="15.90" lengthAdjust="spacingAndGlyphs">0.4</text>
<text x="36.3" y="145.8" class="tk" text-anchor="end" textLength="15.90" lengthAdjust="spacingAndGlyphs">0.2</text>
<text x="36.3" y="182.7" class="tk" text-anchor="end" textLength="6.36" lengthAdjust="spacingAndGlyphs">0</text>
<text x="36.3" y="219.7" class="tk" text-anchor="end" textLength="19.51" lengthAdjust="spacingAndGlyphs">-0.2</text>
<text x="36.3" y="256.7" class="tk" text-anchor="end" textLength="19.51" lengthAdjust="spacingAndGlyphs">-0.4</text>
<text x="36.3" y="293.6" class="tk" text-anchor="end" textLength="19.51" lengthAdjust="spacingAndGlyphs">-0.6</text>
<text x="36.3" y="330.6" class="tk" text-anchor="end" textLength="19.51" lengthAdjust="spacingAndGlyphs">-0.8</text>
<text x="36.3" y="367.5" class="tk" text-anchor="end" textLength="9.97" lengthAdjust="spacingAndGlyphs">-1</text>
<text x="36.3" y="404.5" class="tk" text-anchor="end" textLength="19.51" lengthAdjust="spacingAndGlyphs">-1.2</text>
<text x="53.0" y="449.6" class="tk" text-anchor="middle" textLength="6.36" lengthAdjust="spacingAndGlyphs">1</text>
<text x="90.0" y="449.6" class="tk" text-anchor="middle" textLength="15.90" lengthAdjust="spacingAndGlyphs">1.2</text>
<text x="127.1" y="449.6" class="tk" text-anchor="middle" textLength="15.90" lengthAdjust="spacingAndGlyphs">1.4</text>
<text x="164.1" y="449.6" class="tk" text-anchor="middle" textLength="15.90" lengthAdjust="spacingAndGlyphs">1.6</text>
<text x="201.1" y="449.6" class="tk" text-anchor="middle" textLength="15.90" lengthAdjust="spacingAndGlyphs">1.8</text>
<text x="238.2" y="449.6" class="tk" text-anchor="middle" textLength="6.36" lengthAdjust="spacingAndGlyphs">2</text>
<text x="152.8" y="462.4" class="al" text-anchor="middle" textLength="30.99" lengthAdjust="spacingAndGlyphs">R [m]</text>
<g transform="translate(11.9,220.2) rotate(-90)"><text x="0.0" y="0.0" class="al" text-anchor="middle" textLength="30.88" lengthAdjust="spacingAndGlyphs">Z [m]</text></g>
<text x="-0.6" y="11.0" class="pl" textLength="11.03" lengthAdjust="spacingAndGlyphs">a)</text>
<linearGradient id="hot" x1="0" y1="1" x2="0" y2="0"><stop offset="0" stop-color="#0a0000"/><stop offset="0.375" stop-color="#ff0000"/><stop offset="0.75" stop-color="#ffff00"/><stop offset="1" stop-color="#ffffff"/></linearGradient>
<rect x="270.5" y="4" width="9.5" height="431.8" fill="url(#hot)" stroke="#8a8a8a" stroke-width="1"/>
<path d="M280 9.1 h-3" stroke="#8a8a8a" stroke-width="1"/>
<text x="283.3" y="12.8" class="tk" textLength="6.23" lengthAdjust="spacingAndGlyphs">2</text>
<path d="M280 52.5 h-3" stroke="#8a8a8a" stroke-width="1"/>
<text x="283.3" y="56.2" class="tk" textLength="15.58" lengthAdjust="spacingAndGlyphs">1.8</text>
<path d="M280 95.9 h-3" stroke="#8a8a8a" stroke-width="1"/>
<text x="283.3" y="99.6" class="tk" textLength="15.58" lengthAdjust="spacingAndGlyphs">1.6</text>
<path d="M280 139.3 h-3" stroke="#8a8a8a" stroke-width="1"/>
<text x="283.3" y="143.0" class="tk" textLength="15.58" lengthAdjust="spacingAndGlyphs">1.4</text>
<path d="M280 182.7 h-3" stroke="#8a8a8a" stroke-width="1"/>
<text x="283.3" y="186.4" class="tk" textLength="15.58" lengthAdjust="spacingAndGlyphs">1.2</text>
<path d="M280 226.1 h-3" stroke="#8a8a8a" stroke-width="1"/>
<text x="283.3" y="229.8" class="tk" textLength="6.23" lengthAdjust="spacingAndGlyphs">1</text>
<path d="M280 269.5 h-3" stroke="#8a8a8a" stroke-width="1"/>
<text x="283.3" y="273.2" class="tk" textLength="15.58" lengthAdjust="spacingAndGlyphs">0.8</text>
<path d="M280 312.9 h-3" stroke="#8a8a8a" stroke-width="1"/>
<text x="283.3" y="316.6" class="tk" textLength="15.58" lengthAdjust="spacingAndGlyphs">0.6</text>
<path d="M280 356.3 h-3" stroke="#8a8a8a" stroke-width="1"/>
<text x="283.3" y="360.0" class="tk" textLength="15.58" lengthAdjust="spacingAndGlyphs">0.4</text>
<path d="M280 399.7 h-3" stroke="#8a8a8a" stroke-width="1"/>
<text x="283.3" y="403.4" class="tk" textLength="15.58" lengthAdjust="spacingAndGlyphs">0.2</text>
<clipPath id="cb"><rect x="332.9" y="4.1" width="281.7" height="218.8"/></clipPath>
<path d="M332.9 9.5 H614.6 M332.9 38.4 H614.6 M332.9 67.2 H614.6 M332.9 96.1 H614.6 M332.9 125.0 H614.6 M332.9 153.8 H614.6 M332.9 182.7 H614.6 M332.9 211.6 H614.6 M369.4 4.1 V222.9 M407.3 4.1 V222.9 M445.2 4.1 V222.9 M483.0 4.1 V222.9 M520.9 4.1 V222.9 M558.8 4.1 V222.9 M596.7 4.1 V222.9" stroke="#e6e6e6" stroke-width="0.8"/>
<g clip-path="url(#cb)">
<path d="M369.3 4 V223" stroke="#10f010" stroke-width="1.8" stroke-dasharray="1.2 0.9"/>
<path d="M521 4 V223" stroke="#b0b0b0" stroke-width="1" stroke-dasharray="1 1.1"/>
<path d="M332.6 96.1 h0.01 M337.1 96.1 h0.01 M341.7 96.1 h0.01 M346.2 96.1 h0.01 M350.8 96.3 h0.01 M355.3 97.0 h0.01 M359.9 98.5 h0.01 M364.4 100.9 h0.01 M369.0 104.0 h0.01 M373.5 106.8 h0.01 M378.1 109.1 h0.01 M382.6 111.2 h0.01 M387.2 113.3 h0.01 M391.7 115.5 h0.01 M396.3 117.8 h0.01 M400.8 120.3 h0.01 M405.4 122.9 h0.01 M409.9 125.6 h0.01 M414.4 128.5 h0.01 M419.0 131.6 h0.01 M423.5 134.9 h0.01 M428.1 138.2 h0.01 M432.6 141.6 h0.01 M437.2 144.9 h0.01 M441.7 148.0 h0.01 M446.3 151.0 h0.01 M450.8 153.8 h0.01 M455.4 156.5 h0.01 M459.9 159.0 h0.01 M464.5 161.6 h0.01 M469.0 164.1 h0.01 M473.6 166.7 h0.01 M478.1 169.4 h0.01 M482.7 172.1 h0.01 M487.2 174.8 h0.01 M491.7 177.4 h0.01 M496.3 179.7 h0.01 M500.8 181.6 h0.01 M505.4 183.1 h0.01 M509.9 184.4 h0.01 M514.5 186.2 h0.01 M519.0 188.5 h0.01 M523.6 191.0 h0.01 M528.1 193.8 h0.01 M532.7 196.8 h0.01 M537.2 200.4 h0.01 M541.8 203.7 h0.01 M546.3 206.4 h0.01 M550.9 208.5 h0.01 M555.4 209.4 h0.01 M560.0 209.6 h0.01 M564.5 209.7 h0.01 M569.0 209.8 h0.01 M573.6 209.8 h0.01 M578.1 209.8 h0.01 M582.7 209.8 h0.01 M587.2 209.8 h0.01 M591.8 209.8 h0.01 M596.3 209.8 h0.01 M600.9 209.7 h0.01 M605.4 209.7 h0.01 M610.0 209.7 h0.01 M614.5 209.7 h0.01" stroke="#000" stroke-width="1.8" stroke-linecap="round" fill="none"/>
<path d="M333.0 9.6 L335.3 9.6 L337.7 9.5 L340.1 9.5 L342.6 9.4 L345.0 9.4 L347.3 9.4 L349.6 9.4 L351.6 9.4 L353.4 9.5 L355.0 9.6 L355.7 9.7 L356.2 9.8 L356.8 9.9 L357.3 10.0 L357.8 10.1 L358.2 10.2 L358.7 10.3 L359.1 10.5 L359.5 10.6 L360.0 10.8 L360.4 11.0 L360.8 11.1 L361.2 11.3 L361.6 11.5 L362.0 11.7 L362.4 11.9 L362.8 12.1 L363.2 12.3 L363.6 12.5 L364.0 12.8 L364.6 13.2 L365.1 13.5 L365.7 14.0 L366.2 14.4 L366.8 14.8 L367.4 15.3 L368.0 15.8 L368.7 16.3 L369.3 16.7 L370.0 17.2 L370.9 17.8 L371.8 18.4 L372.7 19.0 L373.7 19.6 L374.7 20.2 L375.7 20.8 L376.7 21.5 L377.8 22.1 L378.9 22.8 L380.0 23.5 L381.4 24.4 L382.9 25.3 L384.4 26.3 L385.9 27.2 L387.5 28.2 L389.1 29.2 L390.7 30.3 L392.4 31.3 L394.1 32.4 L395.9 33.6 L398.3 35.2 L400.7 36.9 L403.2 38.6 L405.8 40.5 L408.5 42.3 L411.2 44.2 L413.9 46.1 L416.6 48.0 L419.3 49.8 L421.9 51.5 L424.5 53.1 L427.1 54.7 L429.7 56.3 L432.3 57.8 L434.9 59.3 L437.5 60.8 L440.1 62.3 L442.6 63.9 L445.2 65.5 L447.8 67.1 L450.5 68.8 L453.2 70.6 L455.9 72.4 L458.7 74.2 L461.4 76.1 L464.1 77.9 L466.7 79.8 L469.2 81.6 L471.5 83.4 L473.7 85.2 L475.2 86.5 L476.7 87.9 L478.1 89.3 L479.5 90.6 L480.7 92.0 L482.0 93.3 L483.2 94.6 L484.4 95.8 L485.5 97.0 L486.7 98.2 L487.6 99.1 L488.5 99.9 L489.4 100.7 L490.2 101.4 L491.0 102.1 L491.9 102.9 L492.7 103.6 L493.5 104.4 L494.2 105.2 L495.0 106.1 L495.8 107.1 L496.6 108.1 L497.4 109.2 L498.1 110.3 L498.9 111.4 L499.6 112.6 L500.3 113.7 L501.0 114.9 L501.7 116.0 L502.4 117.2 L503.1 118.4 L503.7 119.6 L504.4 120.8 L505.0 122.1 L505.7 123.3 L506.3 124.6 L506.9 125.8 L507.5 127.1 L508.0 128.3 L508.6 129.6 L509.1 130.8 L509.7 132.1 L510.2 133.3 L510.7 134.5 L511.2 135.8 L511.7 137.0 L512.2 138.3 L512.7 139.5 L513.2 140.8 L513.6 142.0 L514.0 143.2 L514.4 144.5 L514.8 145.7 L515.2 147.0 L515.6 148.3 L515.9 149.5 L516.3 150.8 L516.6 152.0 L517.0 153.2 L517.3 154.4 L517.6 155.4 L517.8 156.4 L518.1 157.4 L518.4 158.4 L518.6 159.4 L518.8 160.4 L519.1 161.4 L519.3 162.3 L519.6 163.3 L519.8 164.3 L520.0 165.3 L520.3 166.3 L520.5 167.2 L520.7 168.2 L521.0 169.2 L521.2 170.2 L521.4 171.2 L521.7 172.2 L521.9 173.2 L522.2 174.2 L522.5 175.4 L522.8 176.6 L523.2 177.9 L523.5 179.1 L523.9 180.4 L524.2 181.6 L524.6 182.9 L525.0 184.1 L525.5 185.3 L525.9 186.5 L526.3 187.6 L526.8 188.6 L527.2 189.6 L527.7 190.7 L528.2 191.7 L528.7 192.7 L529.2 193.6 L529.8 194.6 L530.3 195.5 L530.9 196.4 L531.5 197.2 L532.0 198.1 L532.6 198.9 L533.2 199.7 L533.8 200.4 L534.4 201.2 L535.1 201.9 L535.7 202.6 L536.4 203.3 L537.1 203.9 L537.8 204.5 L538.5 205.0 L539.2 205.5 L539.9 206.0 L540.6 206.4 L541.3 206.9 L542.1 207.3 L542.9 207.6 L543.7 208.0 L544.5 208.3 L545.4 208.6 L546.3 208.9 L547.3 209.1 L548.3 209.3 L549.3 209.4 L550.3 209.5 L551.3 209.6 L552.4 209.7 L553.4 209.8 L554.4 209.9 L555.4 210.0 L556.4 210.0 L557.3 210.0 L558.2 210.0 L559.2 210.0 L560.2 209.9 L561.2 209.9 L562.4 209.8 L563.6 209.8 L565.0 209.8 L568.5 209.8 L572.6 209.8 L577.3 209.8 L582.3 209.8 L587.7 209.8 L593.2 209.8 L598.8 209.8 L604.4 209.8 L609.8 209.8 L615.0 209.8" stroke="#ff00ff" stroke-width="1.3" fill="none"/>
<path d="M330.0 7.0 l5.2 5.2 M330.0 12.2 l5.2 -5.2 M334.5 7.0 l5.2 5.2 M334.5 12.2 l5.2 -5.2 M339.1 6.9 l5.2 5.2 M339.1 12.1 l5.2 -5.2 M343.6 6.8 l5.2 5.2 M343.6 12.0 l5.2 -5.2 M348.2 6.8 l5.2 5.2 M348.2 12.0 l5.2 -5.2 M352.7 7.0 l5.2 5.2 M352.7 12.2 l5.2 -5.2 M357.3 8.2 l5.2 5.2 M357.3 13.4 l5.2 -5.2 M361.8 10.5 l5.2 5.2 M361.8 15.7 l5.2 -5.2 M366.4 13.9 l5.2 5.2 M366.4 19.1 l5.2 -5.2 M370.9 16.9 l5.2 5.2 M370.9 22.1 l5.2 -5.2 M375.5 19.7 l5.2 5.2 M375.5 24.9 l5.2 -5.2 M380.0 22.5 l5.2 5.2 M380.0 27.7 l5.2 -5.2 M384.6 25.4 l5.2 5.2 M384.6 30.6 l5.2 -5.2 M389.1 28.3 l5.2 5.2 M389.1 33.5 l5.2 -5.2 M393.7 31.2 l5.2 5.2 M393.7 36.4 l5.2 -5.2 M398.2 34.3 l5.2 5.2 M398.2 39.5 l5.2 -5.2 M402.8 37.5 l5.2 5.2 M402.8 42.7 l5.2 -5.2 M407.3 40.7 l5.2 5.2 M407.3 45.9 l5.2 -5.2 M411.8 43.9 l5.2 5.2 M411.8 49.1 l5.2 -5.2 M416.4 47.0 l5.2 5.2 M416.4 52.2 l5.2 -5.2 M420.9 49.9 l5.2 5.2 M420.9 55.1 l5.2 -5.2 M425.5 52.7 l5.2 5.2 M425.5 57.9 l5.2 -5.2 M430.0 55.4 l5.2 5.2 M430.0 60.6 l5.2 -5.2 M434.6 58.0 l5.2 5.2 M434.6 63.2 l5.2 -5.2 M439.1 60.7 l5.2 5.2 M439.1 65.9 l5.2 -5.2 M443.7 63.5 l5.2 5.2 M443.7 68.7 l5.2 -5.2 M448.2 66.5 l5.2 5.2 M448.2 71.7 l5.2 -5.2 M452.8 69.4 l5.2 5.2 M452.8 74.6 l5.2 -5.2 M457.3 72.5 l5.2 5.2 M457.3 77.7 l5.2 -5.2 M461.9 75.6 l5.2 5.2 M461.9 80.8 l5.2 -5.2 M466.4 78.9 l5.2 5.2 M466.4 84.1 l5.2 -5.2 M471.0 82.5 l5.2 5.2 M471.0 87.7 l5.2 -5.2 M475.5 86.6 l5.2 5.2 M475.5 91.8 l5.2 -5.2 M480.1 91.4 l5.2 5.2 M480.1 96.6 l5.2 -5.2 M484.6 96.1 l5.2 5.2 M484.6 101.3 l5.2 -5.2 M489.1 100.2 l5.2 5.2 M489.1 105.4 l5.2 -5.2 M493.7 105.1 l5.2 5.2 M493.7 110.3 l5.2 -5.2 M498.2 112.0 l5.2 5.2 M498.2 117.2 l5.2 -5.2 M502.8 120.2 l5.2 5.2 M502.8 125.4 l5.2 -5.2 M507.3 130.0 l5.2 5.2 M507.3 135.2 l5.2 -5.2 M511.9 142.0 l5.2 5.2 M511.9 147.2 l5.2 -5.2 M516.4 158.5 l5.2 5.2 M516.4 163.7 l5.2 -5.2 M521.0 176.7 l5.2 5.2 M521.0 181.9 l5.2 -5.2 M525.5 188.9 l5.2 5.2 M525.5 194.1 l5.2 -5.2 M530.1 196.4 l5.2 5.2 M530.1 201.6 l5.2 -5.2 M534.6 201.4 l5.2 5.2 M534.6 206.6 l5.2 -5.2 M539.2 204.5 l5.2 5.2 M539.2 209.7 l5.2 -5.2 M543.7 206.2 l5.2 5.2 M543.7 211.4 l5.2 -5.2 M548.3 207.0 l5.2 5.2 M548.3 212.2 l5.2 -5.2 M552.8 207.4 l5.2 5.2 M552.8 212.6 l5.2 -5.2 M557.4 207.3 l5.2 5.2 M557.4 212.5 l5.2 -5.2 M561.9 207.2 l5.2 5.2 M561.9 212.4 l5.2 -5.2 M566.4 207.2 l5.2 5.2 M566.4 212.4 l5.2 -5.2 M571.0 207.2 l5.2 5.2 M571.0 212.4 l5.2 -5.2 M575.5 207.2 l5.2 5.2 M575.5 212.4 l5.2 -5.2 M580.1 207.2 l5.2 5.2 M580.1 212.4 l5.2 -5.2 M584.6 207.2 l5.2 5.2 M584.6 212.4 l5.2 -5.2 M589.2 207.2 l5.2 5.2 M589.2 212.4 l5.2 -5.2 M593.7 207.2 l5.2 5.2 M593.7 212.4 l5.2 -5.2 M598.3 207.2 l5.2 5.2 M598.3 212.4 l5.2 -5.2 M602.8 207.2 l5.2 5.2 M602.8 212.4 l5.2 -5.2 M607.4 207.2 l5.2 5.2 M607.4 212.4 l5.2 -5.2 M611.9 207.2 l5.2 5.2 M611.9 212.4 l5.2 -5.2" stroke="#ff00ff" stroke-width="1.0" fill="none"/>
<path d="M333.0 9.6 L335.3 9.6 L337.7 9.6 L340.1 9.5 L342.6 9.5 L345.0 9.4 L347.3 9.4 L349.6 9.4 L351.6 9.4 L353.4 9.5 L355.0 9.6 L355.7 9.7 L356.2 9.7 L356.8 9.8 L357.3 9.9 L357.8 10.0 L358.2 10.1 L358.7 10.2 L359.1 10.3 L359.5 10.5 L360.0 10.6 L360.4 10.7 L360.8 10.9 L361.2 11.1 L361.6 11.3 L362.0 11.4 L362.4 11.6 L362.8 11.8 L363.2 12.1 L363.6 12.3 L364.0 12.5 L364.5 12.8 L365.0 13.0 L365.5 13.3 L366.0 13.6 L366.5 13.9 L367.0 14.2 L367.5 14.5 L368.1 14.9 L368.8 15.3 L369.5 15.7 L371.3 16.8 L373.5 18.2 L376.0 19.7 L378.7 21.3 L381.5 23.1 L384.4 24.9 L387.4 26.7 L390.3 28.6 L393.2 30.3 L395.9 32.0 L398.5 33.6 L401.1 35.2 L403.7 36.8 L406.3 38.3 L408.9 39.9 L411.5 41.5 L414.1 43.0 L416.7 44.6 L419.3 46.1 L421.9 47.6 L424.5 49.1 L427.1 50.5 L429.7 51.9 L432.3 53.3 L434.9 54.8 L437.4 56.2 L440.0 57.6 L442.6 59.0 L445.2 60.4 L447.8 61.9 L450.4 63.4 L453.0 64.9 L455.7 66.5 L458.3 68.0 L461.0 69.6 L463.6 71.1 L466.2 72.7 L468.7 74.3 L471.2 75.8 L473.7 77.4 L476.0 78.9 L478.2 80.3 L480.5 81.8 L482.7 83.3 L484.9 84.8 L487.1 86.3 L489.2 87.7 L491.2 89.2 L493.1 90.6 L495.0 92.0 L496.4 93.1 L497.8 94.2 L499.2 95.2 L500.5 96.3 L501.8 97.3 L503.0 98.4 L504.2 99.4 L505.3 100.4 L506.4 101.4 L507.4 102.4 L508.1 103.2 L508.8 103.9 L509.5 104.6 L510.1 105.3 L510.7 106.0 L511.3 106.7 L511.9 107.4 L512.5 108.2 L513.0 109.0 L513.6 109.8 L514.3 110.9 L515.0 112.0 L515.6 113.2 L516.3 114.4 L516.9 115.7 L517.5 116.9 L518.1 118.2 L518.7 119.6 L519.2 120.9 L519.8 122.2 L520.4 123.6 L520.9 125.1 L521.4 126.5 L521.9 128.0 L522.4 129.5 L522.8 131.0 L523.3 132.5 L523.7 134.0 L524.2 135.5 L524.7 137.0 L525.2 138.5 L525.7 140.0 L526.2 141.5 L526.8 143.0 L527.3 144.4 L527.8 145.9 L528.3 147.4 L528.8 148.9 L529.3 150.4 L529.7 151.9 L530.1 153.4 L530.5 154.9 L530.9 156.3 L531.3 157.8 L531.6 159.3 L532.0 160.8 L532.3 162.3 L532.7 163.7 L533.0 165.2 L533.4 166.7 L533.8 168.2 L534.1 169.7 L534.5 171.2 L534.8 172.7 L535.2 174.2 L535.5 175.7 L535.9 177.1 L536.3 178.6 L536.7 180.1 L537.1 181.6 L537.5 183.1 L538.0 184.6 L538.4 186.2 L538.9 187.7 L539.3 189.2 L539.8 190.7 L540.3 192.2 L540.8 193.7 L541.4 195.1 L542.0 196.4 L542.5 197.5 L543.1 198.7 L543.6 199.8 L544.2 200.9 L544.8 201.9 L545.4 202.9 L546.0 203.9 L546.7 204.8 L547.4 205.6 L548.2 206.3 L548.9 206.9 L549.7 207.4 L550.6 207.8 L551.5 208.2 L552.4 208.6 L553.3 208.9 L554.2 209.2 L555.1 209.4 L556.0 209.6 L556.9 209.8 L557.7 209.9 L558.4 210.0 L559.1 210.0 L559.8 210.0 L560.5 210.0 L561.3 210.0 L562.1 209.9 L562.9 209.9 L563.9 209.8 L565.0 209.8 L568.3 209.8 L572.3 209.8 L576.9 209.8 L581.9 209.8 L587.3 209.8 L593.0 209.8 L598.7 209.8 L604.3 209.8 L609.8 209.8 L615.0 209.8" stroke="#ff0000" stroke-width="1.6" fill="none"/>
<path d="M333.0 214.4 L333.7 214.4 L334.4 214.4 L335.1 214.4 L335.8 214.4 L336.5 214.4 L337.2 214.4 L337.9 214.4 L338.6 214.4 L339.3 214.3 L340.0 214.3 L340.8 214.2 L341.6 214.2 L342.3 214.1 L343.1 214.0 L343.9 213.9 L344.7 213.8 L345.6 213.7 L346.4 213.6 L347.2 213.5 L348.0 213.4 L348.9 213.3 L349.7 213.1 L350.6 213.0 L351.5 212.8 L352.4 212.6 L353.3 212.5 L354.2 212.3 L355.1 212.1 L356.0 212.0 L357.0 211.8 L358.1 211.6 L359.3 211.5 L360.4 211.3 L361.6 211.2 L362.7 211.0 L364.0 210.9 L365.3 210.7 L366.6 210.5 L368.1 210.4 L369.6 210.2 L372.6 209.9 L375.9 209.5 L379.5 209.2 L383.3 208.8 L387.3 208.5 L391.4 208.1 L395.5 207.7 L399.6 207.2 L403.6 206.8 L407.5 206.3 L411.3 205.8 L415.1 205.2 L419.0 204.6 L422.9 203.9 L426.7 203.3 L430.6 202.6 L434.3 202.0 L438.0 201.3 L441.6 200.8 L445.0 200.2 L447.7 199.8 L450.3 199.4 L452.9 199.1 L455.4 198.8 L457.8 198.4 L460.3 198.1 L462.7 197.8 L465.1 197.4 L467.5 197.0 L470.0 196.5 L472.6 196.0 L475.2 195.4 L477.9 194.7 L480.6 194.0 L483.2 193.3 L485.8 192.6 L488.3 191.9 L490.7 191.3 L493.0 190.7 L495.0 190.2 L496.2 189.9 L497.3 189.6 L498.4 189.4 L499.4 189.2 L500.4 188.9 L501.3 188.7 L502.3 188.5 L503.2 188.3 L504.0 188.1 L504.9 187.8 L505.6 187.6 L506.3 187.4 L506.9 187.2 L507.5 187.0 L508.2 186.8 L508.8 186.6 L509.4 186.4 L509.9 186.2 L510.5 185.9 L511.0 185.6 L511.5 185.3 L511.9 185.0 L512.3 184.7 L512.7 184.4 L513.1 184.0 L513.5 183.7 L513.9 183.3 L514.2 182.9 L514.6 182.5 L515.0 182.0 L515.5 181.4 L516.0 180.7 L516.5 180.0 L516.9 179.2 L517.4 178.4 L517.9 177.6 L518.4 176.8 L518.8 175.9 L519.3 175.1 L519.8 174.2 L520.4 173.2 L521.0 172.0 L521.6 170.9 L522.2 169.7 L522.8 168.5 L523.4 167.4 L524.0 166.2 L524.7 165.1 L525.3 164.0 L525.9 163.0 L526.4 162.2 L526.9 161.4 L527.4 160.7 L527.9 159.9 L528.4 159.2 L528.9 158.5 L529.4 157.8 L529.9 157.3 L530.4 156.7 L530.9 156.3 L531.3 156.0 L531.6 155.8 L532.0 155.6 L532.3 155.4 L532.7 155.3 L533.1 155.1 L533.4 155.0 L533.8 155.0 L534.2 154.9 L534.6 154.9 L535.1 154.9 L535.6 155.0 L536.1 155.1 L536.6 155.2 L537.1 155.4 L537.6 155.6 L538.2 155.9 L538.7 156.1 L539.1 156.5 L539.6 156.8 L540.2 157.3 L540.7 157.9 L541.2 158.5 L541.7 159.2 L542.2 160.0 L542.6 160.8 L543.1 161.6 L543.6 162.5 L544.0 163.4 L544.5 164.3 L545.1 165.6 L545.8 166.9 L546.4 168.3 L547.0 169.8 L547.6 171.4 L548.2 172.9 L548.9 174.5 L549.5 176.0 L550.1 177.6 L550.7 179.1 L551.3 180.6 L552.0 182.1 L552.6 183.6 L553.2 185.2 L553.8 186.7 L554.5 188.2 L555.1 189.7 L555.7 191.2 L556.3 192.6 L556.9 194.0 L557.4 195.2 L557.9 196.4 L558.3 197.5 L558.8 198.7 L559.3 199.8 L559.7 200.9 L560.2 202.0 L560.7 203.1 L561.2 204.1 L561.8 205.1 L562.3 206.0 L562.9 206.9 L563.5 207.9 L564.0 208.8 L564.6 209.6 L565.3 210.5 L565.9 211.3 L566.6 212.0 L567.3 212.7 L568.0 213.3 L568.7 213.8 L569.4 214.3 L570.1 214.7 L570.9 215.1 L571.7 215.5 L572.5 215.8 L573.3 216.1 L574.1 216.3 L574.9 216.4 L575.7 216.5 L576.5 216.5 L577.3 216.4 L578.2 216.3 L579.0 216.1 L579.8 215.9 L580.7 215.6 L581.5 215.3 L582.3 215.0 L583.2 214.6 L584.0 214.3 L584.9 213.9 L585.8 213.5 L586.7 213.1 L587.6 212.6 L588.4 212.2 L589.3 211.7 L590.2 211.2 L591.1 210.7 L592.1 210.2 L593.0 209.7 L594.0 209.2 L595.1 208.6 L596.1 208.1 L597.2 207.5 L598.3 206.9 L599.3 206.4 L600.4 205.9 L601.5 205.4 L602.6 205.0 L603.7 204.6 L604.8 204.3 L605.8 204.1 L606.9 203.9 L608.0 203.7 L609.1 203.6 L610.2 203.4 L611.2 203.3 L612.3 203.2 L613.4 203.1 L614.5 202.9" stroke="#0000ff" stroke-width="1.6" fill="none"/>
<path d="M333.0 9.6 L335.4 9.6 L337.8 9.5 L340.4 9.5 L342.9 9.4 L345.4 9.4 L347.9 9.3 L350.2 9.3 L352.4 9.4 L354.3 9.5 L356.0 9.6 L356.8 9.7 L357.4 9.8 L358.1 9.9 L358.6 10.1 L359.2 10.2 L359.7 10.4 L360.2 10.5 L360.8 10.7 L361.4 10.8 L362.0 11.0 L362.8 11.2 L363.7 11.4 L364.5 11.6 L365.4 11.8 L366.4 12.0 L367.3 12.2 L368.2 12.5 L369.1 12.7 L370.0 12.9 L370.9 13.2 L371.8 13.5 L372.6 13.7 L373.5 14.0 L374.3 14.3 L375.1 14.6 L376.0 14.9 L376.9 15.2 L377.8 15.5 L378.7 15.9 L379.7 16.2 L381.1 16.7 L382.6 17.2 L384.1 17.7 L385.6 18.2 L387.3 18.8 L388.9 19.3 L390.6 19.9 L392.3 20.5 L394.1 21.1 L395.9 21.7 L398.3 22.5 L400.7 23.3 L403.3 24.2 L405.9 25.0 L408.6 25.9 L411.2 26.8 L413.9 27.7 L416.6 28.7 L419.3 29.7 L421.9 30.7 L424.5 31.8 L427.1 32.9 L429.7 34.0 L432.3 35.1 L434.9 36.3 L437.5 37.5 L440.1 38.7 L442.6 39.9 L445.2 41.2 L447.8 42.4 L450.4 43.6 L453.0 44.9 L455.6 46.1 L458.2 47.4 L460.8 48.7 L463.4 50.0 L466.0 51.3 L468.6 52.6 L471.1 54.0 L473.7 55.4 L476.4 56.9 L479.1 58.4 L481.9 60.0 L484.7 61.6 L487.5 63.2 L490.2 64.8 L492.9 66.4 L495.3 67.9 L497.6 69.4 L499.7 70.9 L501.0 71.9 L502.2 72.8 L503.4 73.8 L504.5 74.7 L505.6 75.6 L506.5 76.5 L507.5 77.4 L508.4 78.3 L509.2 79.2 L510.0 80.0 L510.5 80.6 L511.0 81.1 L511.4 81.7 L511.9 82.2 L512.2 82.7 L512.6 83.3 L513.0 83.8 L513.3 84.4 L513.7 84.9 L514.0 85.5 L514.3 86.1 L514.7 86.7 L515.0 87.3 L515.2 87.9 L515.5 88.5 L515.8 89.1 L516.0 89.8 L516.3 90.5 L516.6 91.2 L516.8 92.0 L517.2 93.3 L517.5 94.6 L517.8 96.1 L518.1 97.6 L518.4 99.2 L518.6 100.8 L518.9 102.4 L519.2 104.1 L519.5 105.7 L519.8 107.3 L520.1 109.0 L520.5 110.7 L520.9 112.5 L521.2 114.3 L521.6 116.0 L522.0 117.8 L522.4 119.6 L522.7 121.3 L523.1 123.0 L523.5 124.7 L523.9 126.2 L524.2 127.7 L524.6 129.2 L525.0 130.7 L525.3 132.2 L525.7 133.6 L526.1 135.1 L526.5 136.6 L526.8 138.0 L527.2 139.5 L527.6 141.0 L527.9 142.5 L528.3 143.9 L528.7 145.4 L529.1 146.9 L529.4 148.4 L529.8 149.8 L530.2 151.3 L530.5 152.9 L530.9 154.4 L531.3 156.1 L531.7 157.8 L532.0 159.5 L532.4 161.3 L532.7 163.1 L533.1 164.8 L533.5 166.6 L533.8 168.3 L534.2 170.0 L534.6 171.7 L535.0 173.2 L535.3 174.8 L535.7 176.3 L536.0 177.8 L536.4 179.3 L536.8 180.7 L537.2 182.2 L537.5 183.6 L537.9 185.1 L538.3 186.5 L538.6 187.8 L539.0 189.1 L539.3 190.4 L539.6 191.7 L540.0 193.0 L540.3 194.3 L540.7 195.5 L541.1 196.7 L541.5 197.8 L542.0 198.9 L542.4 199.8 L542.8 200.6 L543.3 201.4 L543.7 202.2 L544.2 203.0 L544.7 203.8 L545.2 204.5 L545.8 205.1 L546.4 205.7 L547.0 206.3 L547.6 206.8 L548.3 207.2 L549.0 207.7 L549.8 208.0 L550.5 208.4 L551.3 208.7 L552.1 209.0 L552.8 209.2 L553.6 209.4 L554.4 209.6 L555.1 209.7 L555.8 209.8 L556.4 209.9 L557.1 209.9 L557.7 209.9 L558.4 209.9 L559.2 209.8 L560.0 209.8 L561.0 209.8 L562.0 209.8 L565.4 209.8 L569.5 209.8 L574.4 209.9 L579.8 209.9 L585.5 209.8 L591.5 209.8 L597.6 209.8 L603.6 209.8 L609.5 209.8 L615.0 209.8" stroke="#ff0000" stroke-width="1.6" fill="none" stroke-dasharray="4.4 4.1"/>
</g>
<rect x="332.9" y="4.1" width="281.7" height="218.8" fill="none" stroke="#8a8a8a" stroke-width="1"/>
<path d="M332.9 9.5 h3 M614.6 9.5 h-3" stroke="#8a8a8a" stroke-width="1"/>
<text x="329.6" y="13.5" class="tk" text-anchor="end" textLength="15.90" lengthAdjust="spacingAndGlyphs">3.5</text>
<path d="M332.9 38.4 h3 M614.6 38.4 h-3" stroke="#8a8a8a" stroke-width="1"/>
<text x="329.6" y="42.4" class="tk" text-anchor="end" textLength="6.36" lengthAdjust="spacingAndGlyphs">3</text>
<path d="M332.9 67.2 h3 M614.6 67.2 h-3" stroke="#8a8a8a" stroke-width="1"/>
<text x="329.6" y="71.2" class="tk" text-anchor="end" textLength="15.90" lengthAdjust="spacingAndGlyphs">2.5</text>
<path d="M332.9 96.1 h3 M614.6 96.1 h-3" stroke="#8a8a8a" stroke-width="1"/>
<text x="329.6" y="100.1" class="tk" text-anchor="end" textLength="6.36" lengthAdjust="spacingAndGlyphs">2</text>
<path d="M332.9 125.0 h3 M614.6 125.0 h-3" stroke="#8a8a8a" stroke-width="1"/>
<text x="329.6" y="129.0" class="tk" text-anchor="end" textLength="15.90" lengthAdjust="spacingAndGlyphs">1.5</text>
<path d="M332.9 153.8 h3 M614.6 153.8 h-3" stroke="#8a8a8a" stroke-width="1"/>
<text x="329.6" y="157.8" class="tk" text-anchor="end" textLength="6.36" lengthAdjust="spacingAndGlyphs">1</text>
<path d="M332.9 182.7 h3 M614.6 182.7 h-3" stroke="#8a8a8a" stroke-width="1"/>
<text x="329.6" y="186.7" class="tk" text-anchor="end" textLength="15.90" lengthAdjust="spacingAndGlyphs">0.5</text>
<path d="M332.9 211.6 h3 M614.6 211.6 h-3" stroke="#8a8a8a" stroke-width="1"/>
<text x="329.6" y="215.6" class="tk" text-anchor="end" textLength="6.36" lengthAdjust="spacingAndGlyphs">0</text>
<path d="M369.4 222.9 v-3 M369.4 4.1 v3" stroke="#8a8a8a" stroke-width="1"/>
<text x="369.4" y="236.0" class="tk" text-anchor="middle" textLength="20.92" lengthAdjust="spacingAndGlyphs">0.92</text>
<path d="M407.3 222.9 v-3 M407.3 4.1 v3" stroke="#8a8a8a" stroke-width="1"/>
<text x="407.3" y="236.0" class="tk" text-anchor="middle" textLength="20.92" lengthAdjust="spacingAndGlyphs">0.94</text>
<path d="M445.2 222.9 v-3 M445.2 4.1 v3" stroke="#8a8a8a" stroke-width="1"/>
<text x="445.2" y="236.0" class="tk" text-anchor="middle" textLength="20.92" lengthAdjust="spacingAndGlyphs">0.96</text>
<path d="M483.0 222.9 v-3 M483.0 4.1 v3" stroke="#8a8a8a" stroke-width="1"/>
<text x="483.0" y="236.0" class="tk" text-anchor="middle" textLength="20.92" lengthAdjust="spacingAndGlyphs">0.98</text>
<path d="M520.9 222.9 v-3 M520.9 4.1 v3" stroke="#8a8a8a" stroke-width="1"/>
<text x="520.9" y="236.0" class="tk" text-anchor="middle" textLength="5.98" lengthAdjust="spacingAndGlyphs">1</text>
<path d="M558.8 222.9 v-3 M558.8 4.1 v3" stroke="#8a8a8a" stroke-width="1"/>
<text x="558.8" y="236.0" class="tk" text-anchor="middle" textLength="20.92" lengthAdjust="spacingAndGlyphs">1.02</text>
<path d="M596.7 222.9 v-3 M596.7 4.1 v3" stroke="#8a8a8a" stroke-width="1"/>
<text x="596.7" y="236.0" class="tk" text-anchor="middle" textLength="20.92" lengthAdjust="spacingAndGlyphs">1.04</text>
<text x="466.8" y="247.6" class="mi">ρ</text><text x="472.2" y="249.6" class="mis">pol</text>
<text x="317.6" y="244.5" class="pl" textLength="11.27" lengthAdjust="spacingAndGlyphs">b)</text>
<circle cx="535.7" cy="16.1" r="1.0" fill="#000"/>
<path d="M527.2 29.0 H544.3" stroke="#ff00ff" stroke-width="1.3"/>
<path d="M533.2 26.5 l5 5 M533.2 31.5 l5 -5" stroke="#ff00ff" stroke-width="1"/>
<path d="M527.2 42.1 H544.3" stroke="#ff0000" stroke-width="1.6"/>
<path d="M527.2 55.0 H544.3" stroke="#0000ff" stroke-width="1.6"/>
<path d="M527.4 67.9 H544.3" stroke="#ff0000" stroke-width="1.6" stroke-dasharray="4.8 4.3"/>
<text x="546.4" y="19.0" class="lg it">n</text>
<text x="557.0" y="20.0" class="sl">/</text>
<text x="565.6" y="19.0" class="lg">10</text>
<text x="576.4" y="14.8" class="lgs">19</text>
<text x="587.6" y="19.0" class="lg">m</text>
<text x="597.3" y="14.8" class="lgs">−3</text>
<text x="546.3" y="31.7" class="lg it">T</text>
<text x="552.6" y="33.5" class="lgs">e</text>
<text x="561.2" y="32.7" class="sl">/</text>
<text x="569.0" y="31.7" class="lg">100</text>
<text x="588.2" y="31.7" class="lg">eV</text>
<text x="546.3" y="44.4" class="lg it">T</text>
<text x="552.6" y="46.2" class="lgs">i</text>
<text x="561.2" y="45.4" class="sl">/</text>
<text x="569.0" y="44.4" class="lg">100</text>
<text x="588.2" y="44.4" class="lg">eV</text>
<text x="546.4" y="57.3" class="lg it">u</text>
<text x="553.8" y="57.9" class="lgs">||</text>
<text x="562.0" y="58.3" class="sl">/</text>
<text x="569.4" y="57.3" class="lg">69</text>
<text x="582.8" y="57.3" class="lgb" letter-spacing="0.2">km/s</text>
<text x="546.0" y="70.7" class="lg it">T</text>
<text x="553.4" y="72.5" class="lgs">i</text>
<text x="556.0" y="70.7" class="lg">,</text>
<text x="562.4" y="70.7" class="lg it">w</text>
<text x="570.0" y="72.5" class="lgs it" textLength="14.2" lengthAdjust="spacing">GTi</text>
<text x="587.4" y="70.7" class="lg" textLength="8.6" lengthAdjust="spacingAndGlyphs">=</text>
<text x="598.8" y="70.7" class="lg">1</text>
<clipPath id="cc"><rect x="334.3" y="259.7" width="279.9" height="218.1"/></clipPath>
<path d="M334.3 477.8 H614.2 M334.3 455.9 H614.2 M334.3 443.1 H614.2 M334.3 434.0 H614.2 M334.3 427.0 H614.2 M334.3 421.2 H614.2 M334.3 416.4 H614.2 M334.3 412.1 H614.2 M334.3 408.4 H614.2 M334.3 405.1 H614.2 M334.3 383.2 H614.2 M334.3 370.4 H614.2 M334.3 361.3 H614.2 M334.3 354.3 H614.2 M334.3 348.5 H614.2 M334.3 343.7 H614.2 M334.3 339.4 H614.2 M334.3 335.7 H614.2 M334.3 332.4 H614.2 M334.3 310.5 H614.2 M334.3 297.7 H614.2 M334.3 288.6 H614.2 M334.3 281.6 H614.2 M334.3 275.8 H614.2 M334.3 271.0 H614.2 M334.3 266.7 H614.2 M334.3 263.0 H614.2 M370.3 259.7 V477.8 M408.0 259.7 V477.8 M445.7 259.7 V477.8 M483.4 259.7 V477.8 M521.1 259.7 V477.8 M558.8 259.7 V477.8 M596.5 259.7 V477.8" stroke="#ebebeb" stroke-width="0.8"/>
<g clip-path="url(#cc)">
<path d="M350.3 480.0 L350.3 479.8 L350.4 479.6 L350.4 479.4 L350.4 479.2 L350.5 479.0 L350.5 478.8 L350.6 478.6 L350.6 478.4 L350.6 478.1 L350.7 477.8 L350.9 476.6 L351.2 475.1 L351.6 473.4 L352.0 471.4 L352.4 469.2 L352.8 466.9 L353.2 464.5 L353.6 462.1 L354.0 459.7 L354.3 457.3 L354.6 454.1 L354.9 450.6 L355.2 447.0 L355.4 443.3 L355.6 439.5 L355.7 435.6 L355.9 431.8 L356.1 428.0 L356.4 424.3 L356.7 420.8 L357.0 417.7 L357.3 414.6 L357.6 411.5 L357.9 408.5 L358.3 405.5 L358.6 402.5 L359.0 399.7 L359.4 396.9 L359.9 394.2 L360.4 391.6 L360.8 389.7 L361.2 387.8 L361.7 386.0 L362.1 384.2 L362.6 382.5 L363.1 380.9 L363.6 379.2 L364.1 377.6 L364.7 376.1 L365.3 374.6 L365.8 373.4 L366.3 372.1 L366.9 370.9 L367.4 369.7 L368.0 368.6 L368.6 367.5 L369.2 366.4 L369.9 365.4 L370.6 364.5 L371.3 363.6 L371.9 362.9 L372.5 362.3 L373.2 361.7 L373.8 361.2 L374.5 360.6 L375.2 360.2 L375.9 359.7 L376.8 359.2 L377.6 358.8 L378.6 358.3 L380.4 357.5 L382.5 356.8 L384.8 356.2 L387.3 355.5 L389.8 354.9 L392.5 354.4 L395.2 353.8 L397.9 353.3 L400.5 352.8 L403.0 352.3 L405.4 351.8 L407.8 351.4 L410.3 351.0 L412.7 350.7 L415.1 350.3 L417.6 350.0 L420.0 349.6 L422.4 349.3 L424.9 349.0 L427.3 348.6 L429.7 348.2 L432.2 347.8 L434.7 347.5 L437.2 347.1 L439.7 346.7 L442.1 346.3 L444.6 346.0 L447.0 345.6 L449.3 345.3 L451.6 345.0 L453.6 344.8 L455.5 344.6 L457.4 344.4 L459.3 344.3 L461.2 344.1 L463.1 344.0 L464.9 343.8 L466.6 343.6 L468.3 343.4 L470.0 343.2 L471.3 343.0 L472.6 342.8 L473.8 342.5 L475.0 342.3 L476.1 342.0 L477.3 341.8 L478.4 341.5 L479.6 341.3 L480.7 341.0 L481.9 340.8 L483.1 340.6 L484.3 340.3 L485.5 340.1 L486.7 339.8 L487.9 339.6 L489.0 339.3 L490.2 339.1 L491.4 339.0 L492.6 338.9 L493.8 338.9 L495.0 339.0 L496.2 339.1 L497.5 339.2 L498.7 339.4 L499.9 339.7 L501.1 340.0 L502.3 340.3 L503.5 340.6 L504.6 340.9 L505.7 341.3 L506.6 341.6 L507.6 341.9 L508.5 342.3 L509.4 342.6 L510.3 343.0 L511.1 343.4 L511.9 343.8 L512.7 344.3 L513.4 344.9 L514.1 345.5 L514.8 346.2 L515.3 347.1 L515.9 348.0 L516.3 349.0 L516.8 350.0 L517.2 351.0 L517.6 352.0 L518.0 353.1 L518.4 354.1 L518.8 355.1 L519.2 356.1 L519.6 357.1 L520.1 358.1 L520.5 359.1 L520.8 360.2 L521.2 361.2 L521.6 362.1 L522.1 363.0 L522.5 363.9 L522.9 364.6 L523.2 365.1 L523.5 365.6 L523.8 366.1 L524.1 366.6 L524.4 367.0 L524.7 367.4 L525.0 367.8 L525.4 368.0 L525.7 368.2 L526.0 368.2 L526.5 368.0 L526.9 367.6 L527.4 366.9 L527.9 366.1 L528.4 365.2 L528.9 364.1 L529.4 363.0 L529.8 361.9 L530.3 360.8 L530.8 359.8 L531.4 358.5 L531.9 357.1 L532.5 355.7 L533.0 354.1 L533.6 352.6 L534.1 351.1 L534.7 349.6 L535.3 348.1 L536.0 346.8 L536.7 345.5 L537.3 344.5 L538.0 343.6 L538.7 342.7 L539.4 341.8 L540.1 341.0 L540.9 340.2 L541.6 339.4 L542.4 338.7 L543.1 337.9 L543.9 337.2 L544.6 336.5 L545.3 335.8 L546.1 335.1 L546.8 334.4 L547.5 333.8 L548.3 333.2 L549.0 332.6 L549.7 332.1 L550.4 331.6 L551.0 331.2 L551.4 331.0 L551.8 330.8 L552.1 330.6 L552.5 330.4 L552.9 330.2 L553.2 330.1 L553.6 330.0 L553.9 330.0 L554.3 329.9 L554.6 330.0 L555.0 330.1 L555.4 330.3 L555.7 330.6 L556.1 330.9 L556.5 331.3 L556.8 331.7 L557.2 332.1 L557.5 332.6 L557.9 333.1 L558.2 333.6 L558.7 334.5 L559.2 335.5 L559.7 336.5 L560.2 337.7 L560.7 338.9 L561.1 340.2 L561.6 341.5 L562.0 342.9 L562.5 344.2 L562.9 345.5 L563.4 347.0 L563.9 348.7 L564.3 350.3 L564.7 352.0 L565.1 353.8 L565.6 355.5 L566.1 357.2 L566.5 358.9 L567.1 360.5 L567.7 362.0 L568.3 363.3 L568.9 364.7 L569.6 365.9 L570.3 367.2 L571.0 368.4 L571.8 369.6 L572.5 370.8 L573.3 372.0 L574.0 373.2 L574.8 374.3 L575.5 375.3 L576.2 376.3 L577.0 377.2 L577.7 378.1 L578.5 379.0 L579.2 379.9 L580.0 380.8 L580.7 381.7 L581.4 382.7 L582.0 383.8 L582.7 385.1 L583.4 386.4 L584.0 387.8 L584.6 389.2 L585.2 390.6 L585.8 392.1 L586.3 393.6 L586.8 395.1 L587.4 396.6 L587.9 398.1 L588.4 399.7 L589.0 401.3 L589.5 403.0 L590.0 404.6 L590.5 406.3 L590.9 407.9 L591.4 409.6 L591.9 411.4 L592.3 413.1 L592.7 414.8 L593.1 416.6 L593.5 418.5 L593.9 420.3 L594.3 422.2 L594.6 424.1 L595.0 426.0 L595.3 427.9 L595.6 429.9 L596.0 431.9 L596.3 433.9 L596.7 436.4 L597.1 439.0 L597.5 441.6 L597.9 444.3 L598.2 447.1 L598.6 449.8 L598.9 452.5 L599.3 455.1 L599.6 457.7 L599.9 460.1 L600.1 462.1 L600.4 464.1 L600.6 466.2 L600.8 468.2 L601.0 470.2 L601.2 472.1 L601.4 473.8 L601.6 475.4 L601.7 476.7 L601.8 477.8 L601.8 478.1 L601.9 478.4 L601.9 478.6 L601.9 478.8 L601.9 479.0 L601.9 479.2 L601.9 479.4 L602.0 479.6 L602.0 479.8 L602.0 480.0" stroke="#000" stroke-width="1.5" fill="none"/>
<path d="M360.0 480.0 L360.0 479.8 L360.1 479.6 L360.1 479.4 L360.1 479.2 L360.2 479.0 L360.2 478.8 L360.2 478.6 L360.3 478.4 L360.3 478.1 L360.4 477.8 L360.7 476.6 L361.0 475.1 L361.4 473.3 L361.9 471.3 L362.5 469.2 L363.0 466.9 L363.6 464.7 L364.2 462.5 L364.8 460.4 L365.3 458.5 L365.8 456.9 L366.2 455.4 L366.7 453.8 L367.1 452.3 L367.6 450.8 L368.1 449.3 L368.5 447.9 L369.0 446.5 L369.6 445.2 L370.1 443.9 L370.5 442.9 L370.9 441.9 L371.3 441.0 L371.7 440.1 L372.1 439.2 L372.6 438.3 L373.1 437.5 L373.6 436.7 L374.3 436.0 L375.0 435.4 L376.0 434.8 L377.2 434.3 L378.4 433.9 L379.8 433.6 L381.2 433.3 L382.6 433.1 L384.1 432.8 L385.6 432.5 L387.0 432.2 L388.4 431.7 L389.9 431.1 L391.3 430.4 L392.8 429.7 L394.2 428.9 L395.7 428.0 L397.2 427.2 L398.6 426.4 L400.0 425.7 L401.5 425.0 L402.9 424.4 L404.1 423.9 L405.4 423.5 L406.6 423.0 L407.8 422.6 L409.0 422.3 L410.2 421.9 L411.5 421.6 L412.7 421.3 L413.9 421.0 L415.1 420.8 L416.3 420.6 L417.5 420.5 L418.7 420.4 L419.8 420.3 L421.0 420.2 L422.2 420.2 L423.4 420.1 L424.6 420.1 L425.8 420.1 L427.0 420.0 L428.2 420.0 L429.5 420.0 L430.7 420.0 L432.0 420.0 L433.2 420.0 L434.5 420.0 L435.7 420.0 L437.0 419.9 L438.2 419.8 L439.4 419.6 L440.6 419.3 L441.9 418.9 L443.1 418.5 L444.3 418.0 L445.5 417.5 L446.7 416.9 L447.9 416.4 L449.1 415.8 L450.3 415.2 L451.6 414.7 L453.0 414.1 L454.4 413.5 L455.9 412.9 L457.3 412.3 L458.8 411.7 L460.3 411.1 L461.7 410.5 L463.2 409.9 L464.7 409.2 L466.2 408.6 L467.8 407.9 L469.3 407.3 L470.9 406.6 L472.6 405.9 L474.2 405.2 L475.8 404.5 L477.3 403.8 L478.9 403.1 L480.4 402.4 L481.9 401.7 L483.2 401.1 L484.4 400.5 L485.7 399.9 L486.9 399.3 L488.1 398.7 L489.3 398.2 L490.5 397.6 L491.6 396.9 L492.7 396.3 L493.8 395.7 L494.7 395.1 L495.7 394.6 L496.6 394.0 L497.5 393.5 L498.4 392.9 L499.3 392.3 L500.1 391.7 L500.8 391.1 L501.6 390.5 L502.2 389.8 L502.7 389.3 L503.1 388.7 L503.4 388.2 L503.8 387.6 L504.1 387.0 L504.4 386.4 L504.7 385.8 L505.0 385.2 L505.3 384.5 L505.7 383.8 L506.3 382.7 L507.0 381.5 L507.7 380.2 L508.4 378.9 L509.2 377.5 L510.0 376.1 L510.7 374.7 L511.5 373.3 L512.2 372.0 L512.9 370.7 L513.5 369.6 L514.1 368.4 L514.8 367.2 L515.4 366.0 L516.0 364.8 L516.6 363.7 L517.2 362.6 L517.7 361.6 L518.3 360.7 L518.8 360.0 L519.1 359.7 L519.3 359.4 L519.5 359.1 L519.7 358.9 L520.0 358.6 L520.2 358.4 L520.4 358.2 L520.6 358.0 L520.9 357.8 L521.2 357.5 L521.7 357.1 L522.2 356.6 L522.8 356.1 L523.4 355.6 L524.0 355.0 L524.6 354.5 L525.3 354.0 L525.9 353.5 L526.6 353.1 L527.2 352.7 L527.8 352.4 L528.4 352.2 L529.0 352.0 L529.6 351.9 L530.2 351.7 L530.8 351.6 L531.4 351.3 L532.0 351.1 L532.6 350.7 L533.1 350.3 L533.9 349.4 L534.5 348.2 L535.2 346.8 L535.8 345.2 L536.3 343.6 L536.8 341.9 L537.4 340.3 L537.9 338.7 L538.5 337.3 L539.1 336.0 L539.6 335.1 L540.0 334.3 L540.5 333.5 L541.0 332.7 L541.5 332.0 L542.0 331.3 L542.4 330.6 L542.9 330.0 L543.4 329.4 L543.9 328.9 L544.2 328.6 L544.6 328.2 L544.9 327.9 L545.3 327.6 L545.6 327.3 L545.9 327.0 L546.3 326.8 L546.7 326.7 L547.0 326.6 L547.4 326.5 L547.8 326.5 L548.3 326.6 L548.8 326.7 L549.3 326.9 L549.8 327.2 L550.3 327.4 L550.8 327.8 L551.3 328.1 L551.8 328.5 L552.2 328.9 L552.8 329.5 L553.3 330.1 L553.8 330.9 L554.3 331.7 L554.8 332.5 L555.2 333.4 L555.7 334.4 L556.1 335.3 L556.6 336.2 L557.0 337.2 L557.5 338.4 L558.0 339.6 L558.5 341.0 L558.9 342.3 L559.4 343.7 L559.8 345.1 L560.3 346.4 L560.7 347.8 L561.2 349.1 L561.7 350.3 L562.1 351.4 L562.6 352.4 L563.0 353.5 L563.5 354.6 L563.9 355.6 L564.4 356.6 L564.9 357.5 L565.4 358.4 L565.9 359.2 L566.5 360.0 L567.0 360.5 L567.5 361.0 L568.0 361.4 L568.6 361.8 L569.2 362.2 L569.7 362.5 L570.3 362.9 L570.9 363.2 L571.5 363.6 L572.0 364.0 L572.5 364.4 L573.1 364.8 L573.6 365.1 L574.1 365.5 L574.6 365.9 L575.2 366.3 L575.7 366.7 L576.2 367.2 L576.7 367.7 L577.2 368.3 L578.0 369.4 L578.8 370.7 L579.6 372.1 L580.4 373.7 L581.1 375.3 L581.8 377.0 L582.6 378.7 L583.2 380.5 L583.8 382.2 L584.4 383.8 L584.9 385.4 L585.3 387.1 L585.7 388.7 L586.0 390.4 L586.3 392.1 L586.6 393.8 L586.9 395.5 L587.2 397.2 L587.5 398.8 L587.9 400.5 L588.3 402.2 L588.8 403.8 L589.3 405.5 L589.8 407.2 L590.3 408.9 L590.8 410.5 L591.3 412.2 L591.8 413.9 L592.3 415.5 L592.7 417.2 L593.1 418.9 L593.5 420.5 L593.9 422.2 L594.2 423.9 L594.6 425.5 L594.9 427.2 L595.3 428.9 L595.6 430.6 L595.9 432.2 L596.3 433.9 L596.7 435.6 L597.0 437.2 L597.4 438.8 L597.8 440.5 L598.1 442.1 L598.5 443.8 L598.8 445.4 L599.2 447.1 L599.6 448.8 L599.9 450.5 L600.3 452.4 L600.7 454.4 L601.0 456.4 L601.4 458.4 L601.8 460.5 L602.2 462.5 L602.5 464.4 L602.8 466.3 L603.1 468.0 L603.4 469.6 L603.6 470.6 L603.7 471.5 L603.8 472.5 L604.0 473.4 L604.1 474.2 L604.2 475.1 L604.3 475.8 L604.4 476.5 L604.5 477.2 L604.6 477.8 L604.6 478.1 L604.7 478.3 L604.7 478.6 L604.8 478.8 L604.8 479.0 L604.8 479.2 L604.9 479.4 L604.9 479.6 L605.0 479.8 L605.0 480.0" stroke="#ff00ff" stroke-width="1.3" fill="none"/>
<path d="M358.3 473.4 l5 5 M358.3 478.4 l5 -5 M362.9 455.8 l5 5 M362.9 460.8 l5 -5 M367.4 441.9 l5 5 M367.4 446.9 l5 -5 M371.9 433.4 l5 5 M371.9 438.4 l5 -5 M376.4 431.3 l5 5 M376.4 436.3 l5 -5 M381.0 430.4 l5 5 M381.0 435.4 l5 -5 M385.5 429.3 l5 5 M385.5 434.3 l5 -5 M390.0 427.3 l5 5 M390.0 432.3 l5 -5 M394.5 424.8 l5 5 M394.5 429.8 l5 -5 M399.1 422.5 l5 5 M399.1 427.5 l5 -5 M403.6 420.7 l5 5 M403.6 425.7 l5 -5 M408.1 419.3 l5 5 M408.1 424.3 l5 -5 M412.6 418.3 l5 5 M412.6 423.3 l5 -5 M417.2 417.8 l5 5 M417.2 422.8 l5 -5 M421.7 417.6 l5 5 M421.7 422.6 l5 -5 M426.2 417.5 l5 5 M426.2 422.5 l5 -5 M430.7 417.5 l5 5 M430.7 422.5 l5 -5 M435.3 417.4 l5 5 M435.3 422.4 l5 -5 M439.8 416.3 l5 5 M439.8 421.3 l5 -5 M444.3 414.4 l5 5 M444.3 419.4 l5 -5 M448.8 412.3 l5 5 M448.8 417.3 l5 -5 M453.4 410.4 l5 5 M453.4 415.4 l5 -5 M457.9 408.6 l5 5 M457.9 413.6 l5 -5 M462.4 406.7 l5 5 M462.4 411.7 l5 -5 M466.9 404.7 l5 5 M466.9 409.7 l5 -5 M471.5 402.8 l5 5 M471.5 407.8 l5 -5 M476.0 400.8 l5 5 M476.0 405.8 l5 -5 M480.5 398.7 l5 5 M480.5 403.7 l5 -5 M485.0 396.5 l5 5 M485.0 401.5 l5 -5 M489.6 394.2 l5 5 M489.6 399.2 l5 -5 M494.1 391.5 l5 5 M494.1 396.5 l5 -5 M498.6 388.3 l5 5 M498.6 393.3 l5 -5 M503.1 381.4 l5 5 M503.1 386.4 l5 -5 M507.7 373.2 l5 5 M507.7 378.2 l5 -5 M512.2 364.8 l5 5 M512.2 369.8 l5 -5 M516.7 357.0 l5 5 M516.7 362.0 l5 -5 M521.2 352.7 l5 5 M521.2 357.7 l5 -5 M525.8 349.7 l5 5 M525.8 354.7 l5 -5 M530.3 348.1 l5 5 M530.3 353.1 l5 -5 M534.8 338.0 l5 5 M534.8 343.0 l5 -5 M539.3 328.9 l5 5 M539.3 333.9 l5 -5 M543.9 324.3 l5 5 M543.9 329.3 l5 -5 M548.4 325.3 l5 5 M548.4 330.3 l5 -5 M552.9 331.3 l5 5 M552.9 336.3 l5 -5 M557.4 342.9 l5 5 M557.4 347.9 l5 -5 M562.0 354.3 l5 5 M562.0 359.3 l5 -5 M566.5 359.6 l5 5 M566.5 364.6 l5 -5 M571.0 362.6 l5 5 M571.0 367.6 l5 -5 M575.5 367.0 l5 5 M575.5 372.0 l5 -5 M580.1 376.3 l5 5 M580.1 381.3 l5 -5 M584.6 394.2 l5 5 M584.6 399.2 l5 -5 M589.1 410.8 l5 5 M589.1 415.8 l5 -5 M593.6 430.7 l5 5 M593.6 435.7 l5 -5 M598.2 452.0 l5 5 M598.2 457.0 l5 -5 M602.7 477.5 l5 5 M602.7 482.5 l5 -5" stroke="#ff00ff" stroke-width="1" fill="none"/>
<path d="M359.8 480.0 L359.9 479.8 L359.9 479.6 L360.0 479.4 L360.0 479.2 L360.1 479.1 L360.1 478.9 L360.2 478.6 L360.3 478.4 L360.3 478.1 L360.4 477.8 L360.6 476.4 L360.9 474.5 L361.2 472.2 L361.5 469.5 L361.9 466.7 L362.2 463.7 L362.6 460.7 L363.1 457.8 L363.5 455.0 L364.0 452.4 L364.5 450.1 L365.0 447.7 L365.5 445.2 L366.1 442.8 L366.7 440.4 L367.3 438.1 L368.0 435.9 L368.7 433.9 L369.4 432.1 L370.1 430.5 L370.5 429.7 L370.9 428.9 L371.4 428.2 L371.8 427.6 L372.2 427.0 L372.7 426.4 L373.2 425.9 L373.7 425.4 L374.3 424.9 L375.0 424.4 L376.0 423.8 L377.1 423.2 L378.4 422.7 L379.7 422.3 L381.1 421.9 L382.5 421.5 L384.0 421.1 L385.5 420.6 L386.9 420.1 L388.4 419.6 L390.2 418.9 L392.1 418.1 L394.0 417.2 L395.9 416.3 L397.9 415.4 L399.9 414.5 L401.9 413.6 L403.8 412.7 L405.8 411.8 L407.8 411.0 L409.7 410.2 L411.6 409.5 L413.6 408.7 L415.5 408.0 L417.4 407.3 L419.3 406.6 L421.3 405.9 L423.2 405.2 L425.3 404.5 L427.3 403.8 L429.6 403.0 L432.0 402.3 L434.5 401.5 L437.0 400.7 L439.5 400.0 L442.0 399.2 L444.5 398.5 L446.9 397.8 L449.3 397.1 L451.6 396.5 L453.5 396.0 L455.5 395.5 L457.4 395.0 L459.2 394.6 L461.1 394.2 L462.9 393.8 L464.7 393.4 L466.5 393.0 L468.3 392.6 L470.0 392.2 L471.5 391.9 L473.0 391.5 L474.4 391.2 L475.9 390.9 L477.3 390.6 L478.7 390.3 L480.1 390.0 L481.5 389.7 L482.9 389.4 L484.3 389.1 L485.7 388.8 L487.2 388.6 L488.7 388.3 L490.1 388.1 L491.6 387.9 L493.0 387.6 L494.4 387.4 L495.7 387.1 L496.9 386.8 L498.0 386.5 L498.6 386.3 L499.2 386.1 L499.7 385.9 L500.2 385.6 L500.7 385.4 L501.2 385.2 L501.6 384.9 L502.1 384.6 L502.5 384.3 L503.0 384.0 L503.5 383.6 L504.1 383.2 L504.6 382.7 L505.1 382.3 L505.6 381.8 L506.1 381.3 L506.6 380.8 L507.1 380.2 L507.6 379.7 L508.1 379.1 L508.7 378.4 L509.3 377.6 L509.9 376.7 L510.5 375.9 L511.1 375.0 L511.7 374.1 L512.3 373.2 L512.9 372.4 L513.4 371.7 L514.0 371.0 L514.4 370.6 L514.8 370.1 L515.1 369.7 L515.5 369.3 L515.8 369.0 L516.2 368.6 L516.5 368.3 L516.9 368.0 L517.3 367.7 L517.7 367.5 L518.1 367.3 L518.5 367.2 L518.9 367.0 L519.4 366.9 L519.8 366.9 L520.3 366.8 L520.7 366.7 L521.1 366.7 L521.6 366.6 L522.0 366.5 L522.4 366.4 L522.8 366.4 L523.3 366.3 L523.7 366.3 L524.1 366.2 L524.5 366.2 L524.9 366.1 L525.3 365.9 L525.7 365.8 L526.0 365.5 L526.4 365.0 L526.8 364.4 L527.2 363.6 L527.5 362.8 L527.8 361.9 L528.0 361.0 L528.2 360.0 L528.5 359.0 L528.7 358.0 L529.0 357.0 L529.3 355.8 L529.6 354.5 L529.8 353.2 L530.1 351.9 L530.3 350.5 L530.6 349.1 L530.8 347.6 L531.2 346.2 L531.5 344.7 L532.0 343.2 L532.7 341.2 L533.5 339.1 L534.3 336.9 L535.3 334.7 L536.3 332.5 L537.3 330.2 L538.3 328.0 L539.4 325.8 L540.5 323.7 L541.5 321.7 L542.4 320.0 L543.4 318.3 L544.3 316.6 L545.3 315.0 L546.3 313.3 L547.2 311.8 L548.2 310.3 L549.2 308.8 L550.1 307.5 L551.0 306.2 L551.6 305.3 L552.3 304.3 L552.9 303.3 L553.6 302.4 L554.2 301.4 L554.8 300.6 L555.4 299.9 L556.0 299.4 L556.5 299.1 L557.0 299.1 L557.5 299.4 L557.9 299.9 L558.3 300.8 L558.6 301.8 L558.9 303.0 L559.2 304.4 L559.5 305.7 L559.8 307.1 L560.2 308.5 L560.5 309.8 L561.0 311.6 L561.4 313.5 L561.8 315.6 L562.2 317.8 L562.6 319.9 L563.1 322.1 L563.5 324.1 L564.1 326.0 L564.6 327.6 L565.3 329.0 L565.7 329.7 L566.1 330.2 L566.6 330.7 L567.1 331.2 L567.5 331.6 L568.0 332.0 L568.5 332.3 L569.0 332.7 L569.6 333.1 L570.1 333.6 L570.7 334.2 L571.4 334.7 L572.1 335.2 L572.8 335.8 L573.5 336.4 L574.3 336.9 L575.0 337.5 L575.7 338.2 L576.5 338.9 L577.2 339.6 L578.1 340.7 L579.1 341.8 L580.1 343.1 L581.0 344.4 L582.0 345.7 L583.0 347.1 L583.9 348.5 L584.9 349.9 L585.8 351.3 L586.7 352.7 L587.6 354.1 L588.5 355.5 L589.5 356.8 L590.4 358.2 L591.3 359.6 L592.1 361.1 L593.0 362.5 L593.7 364.0 L594.5 365.5 L595.1 367.0 L595.7 368.6 L596.1 370.2 L596.5 371.8 L596.9 373.4 L597.2 375.1 L597.5 376.8 L597.8 378.5 L598.0 380.2 L598.3 382.0 L598.7 383.8 L599.2 386.0 L599.6 388.3 L600.1 390.7 L600.6 393.1 L601.1 395.5 L601.6 397.9 L602.1 400.4 L602.5 402.8 L603.0 405.3 L603.4 407.7 L603.8 410.1 L604.2 412.5 L604.6 414.9 L605.0 417.3 L605.3 419.8 L605.7 422.2 L606.0 424.6 L606.4 426.9 L606.7 429.2 L607.0 431.5 L607.3 433.5 L607.5 435.6 L607.7 437.8 L607.9 439.9 L608.1 441.9 L608.3 443.9 L608.5 445.8 L608.7 447.5 L609.0 449.1 L609.4 450.5 L609.6 451.2 L609.8 451.8 L610.1 452.4 L610.3 452.9 L610.6 453.4 L610.8 453.9 L611.1 454.4 L611.4 454.8 L611.7 455.2 L612.0 455.5 L612.3 455.7 L612.5 455.9 L612.8 456.1 L613.1 456.2 L613.4 456.4 L613.8 456.5 L614.1 456.6 L614.4 456.7 L614.7 456.9 L615.0 457.0" stroke="#ff0000" stroke-width="1.6" fill="none" stroke-dasharray="4.4 4.4"/>
<path d="M334.0 342.1 L336.7 342.1 L339.6 342.2 L342.5 342.3 L345.4 342.4 L348.3 342.4 L351.1 342.5 L353.8 342.5 L356.3 342.4 L358.5 342.3 L360.4 342.1 L361.2 342.0 L362.0 341.8 L362.7 341.6 L363.3 341.5 L363.9 341.3 L364.5 341.0 L365.1 340.8 L365.7 340.6 L366.3 340.3 L367.0 340.0 L368.0 339.5 L369.1 339.0 L370.3 338.5 L371.4 337.9 L372.6 337.2 L373.8 336.6 L375.0 335.9 L376.2 335.3 L377.4 334.6 L378.6 334.0 L379.8 333.4 L381.0 332.7 L382.2 332.1 L383.4 331.5 L384.6 330.8 L385.8 330.2 L387.0 329.6 L388.2 329.0 L389.5 328.5 L390.8 328.0 L392.2 327.5 L393.6 327.1 L395.1 326.7 L396.6 326.4 L398.2 326.0 L399.7 325.8 L401.2 325.5 L402.6 325.2 L404.0 325.0 L405.4 324.8 L406.4 324.7 L407.4 324.5 L408.4 324.4 L409.3 324.3 L410.2 324.2 L411.1 324.2 L412.0 324.1 L413.0 324.1 L414.0 324.0 L415.1 324.0 L416.6 324.0 L418.2 324.0 L419.9 324.1 L421.6 324.2 L423.4 324.3 L425.2 324.5 L427.0 324.5 L428.7 324.6 L430.4 324.6 L432.1 324.5 L433.6 324.4 L435.1 324.2 L436.6 324.0 L438.1 323.8 L439.6 323.5 L441.0 323.2 L442.5 322.9 L443.9 322.6 L445.3 322.3 L446.7 322.0 L448.0 321.7 L449.2 321.4 L450.5 321.0 L451.7 320.7 L452.9 320.3 L454.1 320.0 L455.3 319.6 L456.5 319.3 L457.7 318.9 L458.9 318.6 L460.1 318.3 L461.4 318.0 L462.7 317.6 L463.9 317.3 L465.2 317.0 L466.4 316.7 L467.7 316.5 L468.8 316.2 L470.0 316.0 L471.0 315.9 L471.7 315.8 L472.3 315.8 L472.9 315.7 L473.5 315.7 L474.0 315.7 L474.6 315.7 L475.2 315.7 L475.8 315.7 L476.4 315.8 L477.1 315.8 L478.1 315.9 L479.3 316.0 L480.4 316.2 L481.6 316.3 L482.9 316.5 L484.1 316.7 L485.4 317.0 L486.7 317.3 L487.9 317.6 L489.1 317.9 L490.3 318.3 L491.5 318.8 L492.7 319.3 L493.9 319.8 L495.1 320.4 L496.3 320.9 L497.5 321.5 L498.7 322.0 L499.9 322.5 L501.0 322.9 L502.0 323.2 L503.0 323.6 L504.0 323.9 L504.9 324.3 L505.9 324.6 L506.8 324.8 L507.8 325.0 L508.7 325.2 L509.6 325.3 L510.5 325.3 L511.3 325.2 L512.0 325.1 L512.8 325.0 L513.5 324.8 L514.3 324.5 L515.0 324.3 L515.7 323.9 L516.4 323.6 L517.1 323.3 L517.7 322.9 L518.3 322.5 L518.9 322.1 L519.4 321.7 L520.0 321.3 L520.5 320.8 L521.0 320.4 L521.5 319.8 L522.0 319.3 L522.5 318.7 L522.9 318.1 L523.4 317.2 L523.9 316.3 L524.4 315.3 L524.8 314.3 L525.2 313.2 L525.6 312.0 L526.0 310.9 L526.4 309.7 L526.8 308.6 L527.2 307.4 L527.7 306.1 L528.1 304.7 L528.6 303.3 L529.1 301.9 L529.5 300.4 L530.0 299.0 L530.4 297.5 L530.9 296.1 L531.5 294.6 L532.0 293.1 L532.6 291.5 L533.3 289.8 L534.0 288.1 L534.7 286.4 L535.4 284.7 L536.1 283.0 L536.9 281.3 L537.6 279.7 L538.4 278.0 L539.1 276.4 L539.8 274.9 L540.5 273.3 L541.2 271.8 L541.9 270.2 L542.6 268.7 L543.3 267.2 L544.1 265.8 L544.8 264.5 L545.5 263.2 L546.2 262.1 L546.7 261.3 L547.2 260.6 L547.7 259.8 L548.2 259.0 L548.6 258.3 L549.1 257.7 L549.6 257.2 L550.1 256.8 L550.5 256.6 L551.0 256.5 L551.5 256.7 L552.0 257.2 L552.5 258.0 L553.0 258.9 L553.4 259.9 L553.9 261.1 L554.4 262.3 L554.8 263.5 L555.3 264.7 L555.8 265.7 L556.4 266.8 L556.9 268.0 L557.4 269.3 L558.0 270.5 L558.5 271.8 L559.1 273.1 L559.7 274.3 L560.3 275.5 L561.0 276.6 L561.7 277.6 L562.4 278.5 L563.2 279.3 L564.0 280.0 L564.9 280.8 L565.8 281.5 L566.6 282.1 L567.5 282.8 L568.4 283.5 L569.3 284.1 L570.1 284.8 L570.8 285.4 L571.6 286.0 L572.3 286.5 L573.0 287.0 L573.7 287.5 L574.4 288.1 L575.1 288.7 L575.8 289.3 L576.5 290.0 L577.2 290.7 L578.2 291.8 L579.1 293.1 L580.1 294.4 L581.1 295.8 L582.0 297.2 L583.0 298.7 L583.9 300.3 L584.9 301.9 L585.8 303.4 L586.7 305.0 L587.7 306.8 L588.7 308.6 L589.7 310.4 L590.8 312.3 L591.7 314.2 L592.7 316.1 L593.7 318.1 L594.6 320.0 L595.5 322.1 L596.3 324.1 L597.2 326.4 L598.0 328.7 L598.7 331.1 L599.5 333.5 L600.2 335.9 L600.9 338.4 L601.5 340.8 L602.2 343.2 L602.8 345.6 L603.4 347.9 L603.9 349.9 L604.5 351.9 L605.0 353.8 L605.4 355.7 L605.9 357.6 L606.4 359.5 L606.8 361.4 L607.2 363.3 L607.6 365.1 L608.0 367.0 L608.3 368.7 L608.6 370.4 L608.9 372.0 L609.2 373.6 L609.4 375.3 L609.7 376.9 L609.9 378.6 L610.1 380.3 L610.4 382.0 L610.6 383.8 L610.9 386.0 L611.1 388.2 L611.4 390.5 L611.6 392.9 L611.9 395.3 L612.1 397.7 L612.3 400.1 L612.6 402.6 L612.8 405.1 L613.0 407.7 L613.2 410.7 L613.5 413.8 L613.7 417.0 L613.9 420.3 L614.1 423.5 L614.2 426.8 L614.4 430.2 L614.6 433.5 L614.8 436.7 L615.0 440.0" stroke="#0000ff" stroke-width="1.6" fill="none" stroke-dasharray="5.6 2.7"/>
</g>
<rect x="334.3" y="259.7" width="279.9" height="218.1" fill="none" stroke="#8a8a8a" stroke-width="1"/>
<path d="M334.3 477.8 h3.0 M614.2 477.8 h-3.0 M334.3 455.9 h1.8 M614.2 455.9 h-1.8 M334.3 443.1 h1.8 M614.2 443.1 h-1.8 M334.3 434.0 h1.8 M614.2 434.0 h-1.8 M334.3 427.0 h1.8 M614.2 427.0 h-1.8 M334.3 421.2 h1.8 M614.2 421.2 h-1.8 M334.3 416.4 h1.8 M614.2 416.4 h-1.8 M334.3 412.1 h1.8 M614.2 412.1 h-1.8 M334.3 408.4 h1.8 M614.2 408.4 h-1.8 M334.3 405.1 h3.0 M614.2 405.1 h-3.0 M334.3 383.2 h1.8 M614.2 383.2 h-1.8 M334.3 370.4 h1.8 M614.2 370.4 h-1.8 M334.3 361.3 h1.8 M614.2 361.3 h-1.8 M334.3 354.3 h1.8 M614.2 354.3 h-1.8 M334.3 348.5 h1.8 M614.2 348.5 h-1.8 M334.3 343.7 h1.8 M614.2 343.7 h-1.8 M334.3 339.4 h1.8 M614.2 339.4 h-1.8 M334.3 335.7 h1.8 M614.2 335.7 h-1.8 M334.3 332.4 h3.0 M614.2 332.4 h-3.0 M334.3 310.5 h1.8 M614.2 310.5 h-1.8 M334.3 297.7 h1.8 M614.2 297.7 h-1.8 M334.3 288.6 h1.8 M614.2 288.6 h-1.8 M334.3 281.6 h1.8 M614.2 281.6 h-1.8 M334.3 275.8 h1.8 M614.2 275.8 h-1.8 M334.3 271.0 h1.8 M614.2 271.0 h-1.8 M334.3 266.7 h1.8 M614.2 266.7 h-1.8 M334.3 263.0 h1.8 M614.2 263.0 h-1.8 M370.3 477.8 v-3 M370.3 259.7 v3 M408.0 477.8 v-3 M408.0 259.7 v3 M445.7 477.8 v-3 M445.7 259.7 v3 M483.4 477.8 v-3 M483.4 259.7 v3 M521.1 477.8 v-3 M521.1 259.7 v3 M558.8 477.8 v-3 M558.8 259.7 v3 M596.5 477.8 v-3 M596.5 259.7 v3" stroke="#8a8a8a" stroke-width="1"/>
<text x="325.9" y="265.0" class="ser" text-anchor="end">10</text>
<text x="326.3" y="260.2" class="sups" textLength="4.6" lengthAdjust="spacingAndGlyphs">0</text>
<text x="324.5" y="337.7" class="ser" text-anchor="end">10</text>
<text x="324.9" y="332.9" class="sups" textLength="6.0" lengthAdjust="spacingAndGlyphs">-1</text>
<text x="324.3" y="410.4" class="ser" text-anchor="end">10</text>
<text x="324.7" y="405.6" class="sups" textLength="6.2" lengthAdjust="spacingAndGlyphs">-2</text>
<text x="324.3" y="483.1" class="ser" text-anchor="end">10</text>
<text x="324.7" y="478.3" class="sups" textLength="6.2" lengthAdjust="spacingAndGlyphs">-3</text>
<text x="370.3" y="491.0" class="tk" text-anchor="middle" textLength="20.92" lengthAdjust="spacingAndGlyphs">0.92</text>
<text x="408.0" y="491.0" class="tk" text-anchor="middle" textLength="20.92" lengthAdjust="spacingAndGlyphs">0.94</text>
<text x="445.7" y="491.0" class="tk" text-anchor="middle" textLength="20.92" lengthAdjust="spacingAndGlyphs">0.96</text>
<text x="483.4" y="491.0" class="tk" text-anchor="middle" textLength="20.92" lengthAdjust="spacingAndGlyphs">0.98</text>
<text x="521.1" y="491.0" class="tk" text-anchor="middle" textLength="5.98" lengthAdjust="spacingAndGlyphs">1</text>
<text x="558.8" y="491.0" class="tk" text-anchor="middle" textLength="20.92" lengthAdjust="spacingAndGlyphs">1.02</text>
<text x="596.5" y="491.0" class="tk" text-anchor="middle" textLength="20.92" lengthAdjust="spacingAndGlyphs">1.04</text>
<text x="466.8" y="502.4" class="mi">ρ</text><text x="472.2" y="503.9" class="mis">pol</text>
<text x="314.0" y="500.4" class="pl" textLength="10.34" lengthAdjust="spacingAndGlyphs">c)</text>
<path d="M340.6 271.3 H358.1" stroke="#000" stroke-width="1.5"/>
<path d="M340.6 284.7 H358.1" stroke="#ff00ff" stroke-width="1.3"/>
<path d="M347.2 282.2 l5 5 M347.2 287.2 l5 -5" stroke="#ff00ff" stroke-width="1"/>
<path d="M340.6 297.7 H358.1" stroke="#ff0000" stroke-width="1.6" stroke-dasharray="4.5 4.6"/>
<path d="M340.6 310.9 H358.1" stroke="#0000ff" stroke-width="1.6" stroke-dasharray="4.5 4.6"/>
<text x="359.4" y="274.3" class="lg it">σ</text>
<text x="366.0" y="276.1" class="lgs it">n</text>
<text x="372.0" y="275.3" class="sl">/</text>
<text x="379.4" y="274.3" class="lgb">&lt;</text>
<text x="390.3" y="274.3" class="lg it">n</text>
<text x="400.8" y="274.3" class="lgb">&gt;</text>
<text x="359.4" y="287.3" class="lg it">σ</text>
<text x="365.3" y="289.1" class="lgs it">T</text>
<text x="369.6" y="290.3" class="lgss it">e</text>
<text x="374.0" y="288.3" class="sl">/</text>
<text x="382.6" y="287.3" class="lgb">&lt;</text>
<text x="393.6" y="287.3" class="lg it">T</text>
<text x="399.9" y="289.1" class="lgs it">e</text>
<text x="406.6" y="287.3" class="lgb">&gt;</text>
<text x="359.4" y="300.6" class="lg it">σ</text>
<text x="365.3" y="302.4" class="lgs it">T</text>
<text x="369.6" y="303.6" class="lgss it">i</text>
<text x="373.4" y="301.6" class="sl">/</text>
<text x="382.0" y="300.6" class="lgb">&lt;</text>
<text x="393.0" y="300.6" class="lg it">T</text>
<text x="399.3" y="302.4" class="lgs it">i</text>
<text x="406.0" y="300.6" class="lgb">&gt;</text>
<text x="359.4" y="313.6" class="lg it">σ</text>
<text x="364.8" y="315.4" class="lgs it">φ</text>
<text x="372.0" y="314.6" class="sl">/</text>
<text x="380.7" y="313.6" class="lgb">&lt;</text>
<text x="391.6" y="313.6" class="lg it">T</text>
<text x="398.0" y="315.4" class="lgs it">e</text>
<text x="404.7" y="313.6" class="lgb">&gt;</text>
</svg></body></html>
